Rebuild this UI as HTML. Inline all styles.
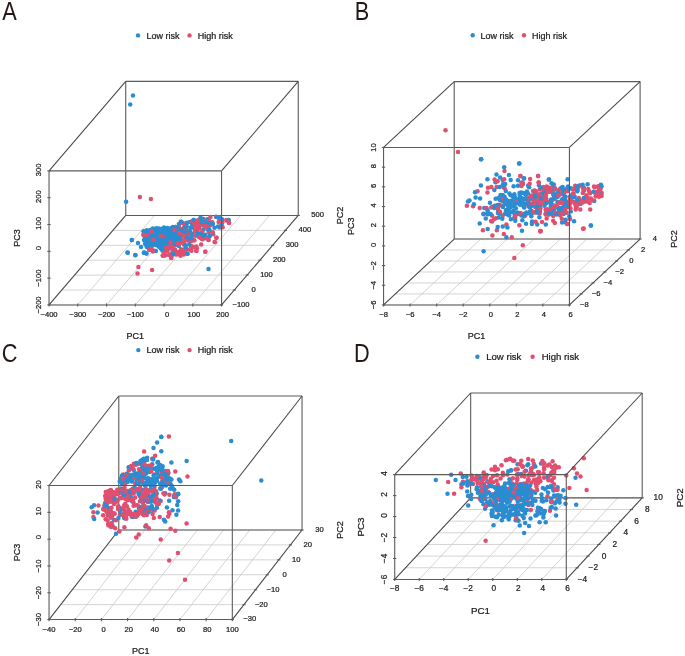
<!DOCTYPE html>
<html><head><meta charset="utf-8"><style>
html,body{margin:0;padding:0;background:#fff;}
svg{display:block;will-change:transform;}
text{font-family:"Liberation Sans",sans-serif;stroke:#222;stroke-width:0.24px;}
.big{font-weight:normal;}
</style></head><body>
<svg width="685" height="656" viewBox="0 0 685 656">
<rect width="685" height="656" fill="#fff"/>
<line x1="49.03" y1="304.95" x2="125.73" y2="215.45" stroke="#c9c9c9" stroke-width="0.8"/>
<line x1="77.78" y1="304.95" x2="154.49" y2="215.45" stroke="#c9c9c9" stroke-width="0.8"/>
<line x1="106.54" y1="304.95" x2="183.24" y2="215.45" stroke="#c9c9c9" stroke-width="0.8"/>
<line x1="135.3" y1="304.95" x2="212" y2="215.45" stroke="#c9c9c9" stroke-width="0.8"/>
<line x1="164.05" y1="304.95" x2="240.75" y2="215.45" stroke="#c9c9c9" stroke-width="0.8"/>
<line x1="192.81" y1="304.95" x2="269.5" y2="215.45" stroke="#c9c9c9" stroke-width="0.8"/>
<line x1="221.56" y1="304.95" x2="298.26" y2="215.45" stroke="#c9c9c9" stroke-width="0.8"/>
<line x1="49.03" y1="304.95" x2="221.56" y2="304.95" stroke="#c9c9c9" stroke-width="0.8"/>
<line x1="61.81" y1="290.03" x2="234.34" y2="290.03" stroke="#c9c9c9" stroke-width="0.8"/>
<line x1="74.6" y1="275.12" x2="247.13" y2="275.12" stroke="#c9c9c9" stroke-width="0.8"/>
<line x1="87.38" y1="260.2" x2="259.91" y2="260.2" stroke="#c9c9c9" stroke-width="0.8"/>
<line x1="100.16" y1="245.28" x2="272.69" y2="245.28" stroke="#c9c9c9" stroke-width="0.8"/>
<line x1="112.95" y1="230.37" x2="285.48" y2="230.37" stroke="#c9c9c9" stroke-width="0.8"/>
<line x1="125.73" y1="215.45" x2="298.26" y2="215.45" stroke="#c9c9c9" stroke-width="0.8"/>
<line x1="125.73" y1="81.38" x2="298.26" y2="81.38" stroke="#5e5a57" stroke-width="1.1"/>
<line x1="125.73" y1="81.38" x2="125.73" y2="215.45" stroke="#5e5a57" stroke-width="1.1"/>
<line x1="298.26" y1="81.38" x2="298.26" y2="215.45" stroke="#5e5a57" stroke-width="1.1"/>
<line x1="125.73" y1="215.45" x2="298.26" y2="215.45" stroke="#5e5a57" stroke-width="1.1"/>
<line x1="49.03" y1="304.95" x2="125.73" y2="215.45" stroke="#4a4643" stroke-width="1.05"/>
<circle cx="183.8" cy="254.54" r="2.25" fill="#e24f6e"/>
<circle cx="173.94" cy="250.55" r="2.25" fill="#e24f6e"/>
<circle cx="191.28" cy="245.93" r="2.25" fill="#e24f6e"/>
<circle cx="165.28" cy="255.17" r="2.25" fill="#e24f6e"/>
<circle cx="178.12" cy="254.32" r="2.25" fill="#e24f6e"/>
<circle cx="191.5" cy="250.78" r="2.25" fill="#e24f6e"/>
<circle cx="196.34" cy="246.55" r="2.25" fill="#e24f6e"/>
<circle cx="191.69" cy="247.06" r="2.25" fill="#e24f6e"/>
<circle cx="174.96" cy="249.49" r="2.25" fill="#e24f6e"/>
<circle cx="178.37" cy="251.91" r="2.25" fill="#e24f6e"/>
<circle cx="191.41" cy="247.12" r="2.25" fill="#e24f6e"/>
<circle cx="185.01" cy="248.99" r="2.25" fill="#e24f6e"/>
<circle cx="180.58" cy="255.68" r="2.25" fill="#e24f6e"/>
<circle cx="186.76" cy="249.78" r="2.25" fill="#e24f6e"/>
<circle cx="181.09" cy="249.33" r="2.25" fill="#e24f6e"/>
<circle cx="196.83" cy="248.31" r="2.25" fill="#e24f6e"/>
<circle cx="164.25" cy="255.49" r="2.25" fill="#e24f6e"/>
<circle cx="169.02" cy="254.98" r="2.25" fill="#e24f6e"/>
<circle cx="185.83" cy="247.68" r="2.25" fill="#2a8dd2"/>
<circle cx="175.97" cy="254.58" r="2.25" fill="#e24f6e"/>
<circle cx="171.19" cy="253.44" r="2.25" fill="#e24f6e"/>
<circle cx="201.17" cy="244.59" r="2.25" fill="#e24f6e"/>
<circle cx="175.7" cy="251.85" r="2.25" fill="#e24f6e"/>
<circle cx="173.01" cy="250.48" r="2.25" fill="#e24f6e"/>
<circle cx="167.15" cy="251.21" r="2.25" fill="#e24f6e"/>
<circle cx="193.9" cy="240.25" r="2.25" fill="#e24f6e"/>
<circle cx="177" cy="241.31" r="2.25" fill="#2a8dd2"/>
<circle cx="183.08" cy="230.84" r="2.25" fill="#e24f6e"/>
<circle cx="192.29" cy="224.59" r="2.25" fill="#2a8dd2"/>
<circle cx="194.58" cy="223.95" r="2.25" fill="#e24f6e"/>
<circle cx="181.81" cy="234.81" r="2.25" fill="#2a8dd2"/>
<circle cx="190.19" cy="234.22" r="2.25" fill="#e24f6e"/>
<circle cx="184.15" cy="243.54" r="2.25" fill="#e24f6e"/>
<circle cx="177.91" cy="226.8" r="2.25" fill="#2a8dd2"/>
<circle cx="178.74" cy="235.83" r="2.25" fill="#2a8dd2"/>
<circle cx="183.73" cy="223.54" r="2.25" fill="#e24f6e"/>
<circle cx="181.91" cy="232.37" r="2.25" fill="#e24f6e"/>
<circle cx="197.32" cy="231.36" r="2.25" fill="#e24f6e"/>
<circle cx="186.05" cy="234.36" r="2.25" fill="#e24f6e"/>
<circle cx="194.38" cy="224.65" r="2.25" fill="#e24f6e"/>
<circle cx="192.31" cy="235.02" r="2.25" fill="#2a8dd2"/>
<circle cx="186.51" cy="235" r="2.25" fill="#e24f6e"/>
<circle cx="174.97" cy="235.13" r="2.25" fill="#2a8dd2"/>
<circle cx="179.75" cy="240.85" r="2.25" fill="#e24f6e"/>
<circle cx="187.73" cy="240.52" r="2.25" fill="#e24f6e"/>
<circle cx="184.41" cy="236.54" r="2.25" fill="#e24f6e"/>
<circle cx="186.34" cy="238.7" r="2.25" fill="#e24f6e"/>
<circle cx="186.93" cy="232.91" r="2.25" fill="#e24f6e"/>
<circle cx="198.38" cy="227.01" r="2.25" fill="#e24f6e"/>
<circle cx="190.75" cy="241.17" r="2.25" fill="#e24f6e"/>
<circle cx="176.32" cy="239.34" r="2.25" fill="#e24f6e"/>
<circle cx="199.09" cy="225.93" r="2.25" fill="#e24f6e"/>
<circle cx="183.15" cy="233.16" r="2.25" fill="#e24f6e"/>
<circle cx="195.31" cy="224.36" r="2.25" fill="#2a8dd2"/>
<circle cx="186.44" cy="229.16" r="2.25" fill="#2a8dd2"/>
<circle cx="180.92" cy="239.5" r="2.25" fill="#2a8dd2"/>
<circle cx="187.51" cy="231.89" r="2.25" fill="#2a8dd2"/>
<circle cx="181.28" cy="236.85" r="2.25" fill="#e24f6e"/>
<circle cx="174.93" cy="227.17" r="2.25" fill="#2a8dd2"/>
<circle cx="193.81" cy="227.3" r="2.25" fill="#2a8dd2"/>
<circle cx="183.82" cy="244.61" r="2.25" fill="#e24f6e"/>
<circle cx="179.24" cy="224.03" r="2.25" fill="#e24f6e"/>
<circle cx="187.98" cy="238.91" r="2.25" fill="#2a8dd2"/>
<circle cx="194.45" cy="222.26" r="2.25" fill="#e24f6e"/>
<circle cx="184.71" cy="229.16" r="2.25" fill="#e24f6e"/>
<circle cx="197.95" cy="227.23" r="2.25" fill="#2a8dd2"/>
<circle cx="186.75" cy="226.44" r="2.25" fill="#2a8dd2"/>
<circle cx="177.65" cy="228.42" r="2.25" fill="#2a8dd2"/>
<circle cx="193.27" cy="227.83" r="2.25" fill="#e24f6e"/>
<circle cx="176.98" cy="229.37" r="2.25" fill="#2a8dd2"/>
<circle cx="192.53" cy="234.88" r="2.25" fill="#2a8dd2"/>
<circle cx="185.29" cy="245.24" r="2.25" fill="#2a8dd2"/>
<circle cx="194.93" cy="231.67" r="2.25" fill="#e24f6e"/>
<circle cx="195.37" cy="230.61" r="2.25" fill="#e24f6e"/>
<circle cx="181.6" cy="242.47" r="2.25" fill="#e24f6e"/>
<circle cx="189.81" cy="230.93" r="2.25" fill="#2a8dd2"/>
<circle cx="179.16" cy="224.41" r="2.25" fill="#2a8dd2"/>
<circle cx="190.78" cy="227.61" r="2.25" fill="#2a8dd2"/>
<circle cx="180.21" cy="232.41" r="2.25" fill="#2a8dd2"/>
<circle cx="184.48" cy="227.11" r="2.25" fill="#e24f6e"/>
<circle cx="178.84" cy="246.07" r="2.25" fill="#2a8dd2"/>
<circle cx="182.69" cy="232.82" r="2.25" fill="#e24f6e"/>
<circle cx="177.63" cy="233.63" r="2.25" fill="#2a8dd2"/>
<circle cx="172.63" cy="228.21" r="2.25" fill="#2a8dd2"/>
<circle cx="188.4" cy="234.29" r="2.25" fill="#e24f6e"/>
<circle cx="190.41" cy="239.33" r="2.25" fill="#e24f6e"/>
<circle cx="182.91" cy="228.81" r="2.25" fill="#e24f6e"/>
<circle cx="176.18" cy="239.55" r="2.25" fill="#e24f6e"/>
<circle cx="175.9" cy="234.14" r="2.25" fill="#e24f6e"/>
<circle cx="195.14" cy="235.77" r="2.25" fill="#e24f6e"/>
<circle cx="191.12" cy="238.72" r="2.25" fill="#2a8dd2"/>
<circle cx="182.1" cy="222.83" r="2.25" fill="#e24f6e"/>
<circle cx="187.64" cy="236.95" r="2.25" fill="#e24f6e"/>
<circle cx="191.06" cy="233.21" r="2.25" fill="#2a8dd2"/>
<circle cx="194.34" cy="240.2" r="2.25" fill="#e24f6e"/>
<circle cx="186.99" cy="237.8" r="2.25" fill="#2a8dd2"/>
<circle cx="192.63" cy="226.81" r="2.25" fill="#2a8dd2"/>
<circle cx="179.44" cy="239.69" r="2.25" fill="#2a8dd2"/>
<circle cx="185.83" cy="230.33" r="2.25" fill="#e24f6e"/>
<circle cx="191.14" cy="240.71" r="2.25" fill="#e24f6e"/>
<circle cx="190" cy="222.09" r="2.25" fill="#2a8dd2"/>
<circle cx="179.11" cy="240.07" r="2.25" fill="#2a8dd2"/>
<circle cx="173.7" cy="227.26" r="2.25" fill="#e24f6e"/>
<circle cx="191.38" cy="238.24" r="2.25" fill="#2a8dd2"/>
<circle cx="186.46" cy="232.55" r="2.25" fill="#e24f6e"/>
<circle cx="198.22" cy="220.47" r="2.25" fill="#e24f6e"/>
<circle cx="184.58" cy="227.25" r="2.25" fill="#2a8dd2"/>
<circle cx="198.48" cy="225.69" r="2.25" fill="#e24f6e"/>
<circle cx="175.97" cy="234.15" r="2.25" fill="#e24f6e"/>
<circle cx="175.71" cy="242.15" r="2.25" fill="#e24f6e"/>
<circle cx="178.48" cy="244.24" r="2.25" fill="#e24f6e"/>
<circle cx="185.77" cy="232.17" r="2.25" fill="#2a8dd2"/>
<circle cx="175.94" cy="229.29" r="2.25" fill="#2a8dd2"/>
<circle cx="180.12" cy="230.05" r="2.25" fill="#2a8dd2"/>
<circle cx="182.1" cy="231.56" r="2.25" fill="#2a8dd2"/>
<circle cx="195.37" cy="227.71" r="2.25" fill="#e24f6e"/>
<circle cx="178.98" cy="227.17" r="2.25" fill="#e24f6e"/>
<circle cx="177.32" cy="230.08" r="2.25" fill="#e24f6e"/>
<circle cx="192.15" cy="221.34" r="2.25" fill="#e24f6e"/>
<circle cx="184.62" cy="240.32" r="2.25" fill="#e24f6e"/>
<circle cx="220.95" cy="219.06" r="2.25" fill="#e24f6e"/>
<circle cx="204.62" cy="223.15" r="2.25" fill="#e24f6e"/>
<circle cx="222.34" cy="222.24" r="2.25" fill="#e24f6e"/>
<circle cx="203.42" cy="229.38" r="2.25" fill="#2a8dd2"/>
<circle cx="200.82" cy="237.74" r="2.25" fill="#e24f6e"/>
<circle cx="201.16" cy="237.75" r="2.25" fill="#e24f6e"/>
<circle cx="207.6" cy="219.35" r="2.25" fill="#2a8dd2"/>
<circle cx="197.54" cy="224.21" r="2.25" fill="#2a8dd2"/>
<circle cx="201.7" cy="222.2" r="2.25" fill="#e24f6e"/>
<circle cx="206.56" cy="225.93" r="2.25" fill="#e24f6e"/>
<circle cx="205.55" cy="224.12" r="2.25" fill="#2a8dd2"/>
<circle cx="202.77" cy="239.22" r="2.25" fill="#2a8dd2"/>
<circle cx="209.1" cy="231.11" r="2.25" fill="#e24f6e"/>
<circle cx="201.05" cy="222.5" r="2.25" fill="#2a8dd2"/>
<circle cx="206.19" cy="226.7" r="2.25" fill="#e24f6e"/>
<circle cx="208.25" cy="230.09" r="2.25" fill="#2a8dd2"/>
<circle cx="205.96" cy="238.24" r="2.25" fill="#e24f6e"/>
<circle cx="199.32" cy="228.54" r="2.25" fill="#e24f6e"/>
<circle cx="213.13" cy="234.36" r="2.25" fill="#e24f6e"/>
<circle cx="210.44" cy="216.95" r="2.25" fill="#e24f6e"/>
<circle cx="201.51" cy="238.08" r="2.25" fill="#e24f6e"/>
<circle cx="203.51" cy="219.07" r="2.25" fill="#2a8dd2"/>
<circle cx="212.82" cy="232.77" r="2.25" fill="#2a8dd2"/>
<circle cx="196.97" cy="228.59" r="2.25" fill="#e24f6e"/>
<circle cx="205.87" cy="221.37" r="2.25" fill="#e24f6e"/>
<circle cx="195.29" cy="223.24" r="2.25" fill="#e24f6e"/>
<circle cx="219.75" cy="227.41" r="2.25" fill="#2a8dd2"/>
<circle cx="201.92" cy="239.05" r="2.25" fill="#e24f6e"/>
<circle cx="208.95" cy="232.19" r="2.25" fill="#e24f6e"/>
<circle cx="202.2" cy="232.02" r="2.25" fill="#e24f6e"/>
<circle cx="204.47" cy="226.09" r="2.25" fill="#e24f6e"/>
<circle cx="200.55" cy="235.13" r="2.25" fill="#e24f6e"/>
<circle cx="209.14" cy="220.93" r="2.25" fill="#e24f6e"/>
<circle cx="203.73" cy="235.68" r="2.25" fill="#2a8dd2"/>
<circle cx="201.2" cy="234.25" r="2.25" fill="#2a8dd2"/>
<circle cx="200.24" cy="221.36" r="2.25" fill="#2a8dd2"/>
<circle cx="199.1" cy="225.44" r="2.25" fill="#2a8dd2"/>
<circle cx="222.28" cy="219.41" r="2.25" fill="#2a8dd2"/>
<circle cx="196.68" cy="225.44" r="2.25" fill="#e24f6e"/>
<circle cx="204.22" cy="220.45" r="2.25" fill="#e24f6e"/>
<circle cx="215.9" cy="216.77" r="2.25" fill="#e24f6e"/>
<circle cx="205.6" cy="224.97" r="2.25" fill="#2a8dd2"/>
<circle cx="202.83" cy="224.44" r="2.25" fill="#e24f6e"/>
<circle cx="200.81" cy="224.56" r="2.25" fill="#e24f6e"/>
<circle cx="218.02" cy="226.38" r="2.25" fill="#2a8dd2"/>
<circle cx="208.26" cy="224.95" r="2.25" fill="#e24f6e"/>
<circle cx="200.4" cy="224.74" r="2.25" fill="#e24f6e"/>
<circle cx="195.85" cy="225.86" r="2.25" fill="#e24f6e"/>
<circle cx="216.47" cy="216.98" r="2.25" fill="#2a8dd2"/>
<circle cx="202.2" cy="233.93" r="2.25" fill="#e24f6e"/>
<circle cx="204.49" cy="222.54" r="2.25" fill="#e24f6e"/>
<circle cx="212.28" cy="222.29" r="2.25" fill="#e24f6e"/>
<circle cx="203.86" cy="222.62" r="2.25" fill="#2a8dd2"/>
<circle cx="221.71" cy="225.28" r="2.25" fill="#2a8dd2"/>
<circle cx="207.04" cy="227.84" r="2.25" fill="#e24f6e"/>
<circle cx="200.12" cy="235.26" r="2.25" fill="#e24f6e"/>
<circle cx="212" cy="223.87" r="2.25" fill="#2a8dd2"/>
<circle cx="205.13" cy="234.77" r="2.25" fill="#2a8dd2"/>
<circle cx="200.52" cy="234.07" r="2.25" fill="#2a8dd2"/>
<circle cx="210.47" cy="223.82" r="2.25" fill="#e24f6e"/>
<circle cx="197.7" cy="227.96" r="2.25" fill="#e24f6e"/>
<circle cx="207.51" cy="221.62" r="2.25" fill="#2a8dd2"/>
<circle cx="212.37" cy="232.18" r="2.25" fill="#e24f6e"/>
<circle cx="198.39" cy="236.18" r="2.25" fill="#2a8dd2"/>
<circle cx="210.87" cy="224.95" r="2.25" fill="#e24f6e"/>
<circle cx="200.58" cy="221.94" r="2.25" fill="#2a8dd2"/>
<circle cx="199.29" cy="237.22" r="2.25" fill="#e24f6e"/>
<circle cx="204.14" cy="225.51" r="2.25" fill="#e24f6e"/>
<circle cx="209.21" cy="221.55" r="2.25" fill="#e24f6e"/>
<circle cx="197.87" cy="227.39" r="2.25" fill="#e24f6e"/>
<circle cx="145.01" cy="233.49" r="2.25" fill="#2a8dd2"/>
<circle cx="165.37" cy="249.72" r="2.25" fill="#2a8dd2"/>
<circle cx="175.98" cy="237.45" r="2.25" fill="#2a8dd2"/>
<circle cx="147.47" cy="241.2" r="2.25" fill="#2a8dd2"/>
<circle cx="151.66" cy="235.4" r="2.25" fill="#2a8dd2"/>
<circle cx="151.15" cy="232.5" r="2.25" fill="#2a8dd2"/>
<circle cx="167.94" cy="231.19" r="2.25" fill="#2a8dd2"/>
<circle cx="155.77" cy="243.3" r="2.25" fill="#2a8dd2"/>
<circle cx="155.21" cy="231.19" r="2.25" fill="#2a8dd2"/>
<circle cx="164.05" cy="227.61" r="2.25" fill="#2a8dd2"/>
<circle cx="158.32" cy="240.03" r="2.25" fill="#2a8dd2"/>
<circle cx="146.92" cy="230.17" r="2.25" fill="#2a8dd2"/>
<circle cx="158.87" cy="233.22" r="2.25" fill="#2a8dd2"/>
<circle cx="179.24" cy="233.97" r="2.25" fill="#2a8dd2"/>
<circle cx="156.89" cy="236.62" r="2.25" fill="#2a8dd2"/>
<circle cx="150.9" cy="244.56" r="2.25" fill="#2a8dd2"/>
<circle cx="159.39" cy="246.92" r="2.25" fill="#2a8dd2"/>
<circle cx="176.61" cy="237.75" r="2.25" fill="#2a8dd2"/>
<circle cx="144.06" cy="240.06" r="2.25" fill="#2a8dd2"/>
<circle cx="177.62" cy="228.27" r="2.25" fill="#2a8dd2"/>
<circle cx="157.41" cy="238.86" r="2.25" fill="#2a8dd2"/>
<circle cx="154.12" cy="239.29" r="2.25" fill="#2a8dd2"/>
<circle cx="147.58" cy="238.51" r="2.25" fill="#2a8dd2"/>
<circle cx="179.76" cy="231.03" r="2.25" fill="#2a8dd2"/>
<circle cx="178.23" cy="235.89" r="2.25" fill="#2a8dd2"/>
<circle cx="166.76" cy="247.03" r="2.25" fill="#2a8dd2"/>
<circle cx="172.97" cy="231.66" r="2.25" fill="#2a8dd2"/>
<circle cx="150.36" cy="231.56" r="2.25" fill="#2a8dd2"/>
<circle cx="162.92" cy="235.78" r="2.25" fill="#2a8dd2"/>
<circle cx="152.76" cy="244.48" r="2.25" fill="#2a8dd2"/>
<circle cx="145.04" cy="240.34" r="2.25" fill="#2a8dd2"/>
<circle cx="147.91" cy="241.29" r="2.25" fill="#2a8dd2"/>
<circle cx="167.01" cy="233.81" r="2.25" fill="#2a8dd2"/>
<circle cx="165.35" cy="236.86" r="2.25" fill="#2a8dd2"/>
<circle cx="160.25" cy="237.18" r="2.25" fill="#2a8dd2"/>
<circle cx="166.71" cy="238.48" r="2.25" fill="#2a8dd2"/>
<circle cx="172.13" cy="245.89" r="2.25" fill="#2a8dd2"/>
<circle cx="150.23" cy="238.07" r="2.25" fill="#2a8dd2"/>
<circle cx="148.32" cy="236.98" r="2.25" fill="#2a8dd2"/>
<circle cx="160.07" cy="239.01" r="2.25" fill="#2a8dd2"/>
<circle cx="167.37" cy="228.1" r="2.25" fill="#2a8dd2"/>
<circle cx="172.66" cy="239.04" r="2.25" fill="#2a8dd2"/>
<circle cx="162.4" cy="235.64" r="2.25" fill="#e24f6e"/>
<circle cx="148.61" cy="247.86" r="2.25" fill="#e24f6e"/>
<circle cx="170.95" cy="246.78" r="2.25" fill="#2a8dd2"/>
<circle cx="149.69" cy="246.1" r="2.25" fill="#2a8dd2"/>
<circle cx="145.96" cy="234.95" r="2.25" fill="#2a8dd2"/>
<circle cx="149.45" cy="248.86" r="2.25" fill="#2a8dd2"/>
<circle cx="174.09" cy="229.66" r="2.25" fill="#2a8dd2"/>
<circle cx="178" cy="231.31" r="2.25" fill="#2a8dd2"/>
<circle cx="162.48" cy="234.14" r="2.25" fill="#2a8dd2"/>
<circle cx="150.33" cy="230.11" r="2.25" fill="#2a8dd2"/>
<circle cx="168.99" cy="248.83" r="2.25" fill="#2a8dd2"/>
<circle cx="172.93" cy="228.93" r="2.25" fill="#2a8dd2"/>
<circle cx="167.36" cy="235.17" r="2.25" fill="#2a8dd2"/>
<circle cx="164.32" cy="240.79" r="2.25" fill="#2a8dd2"/>
<circle cx="167.12" cy="236.05" r="2.25" fill="#2a8dd2"/>
<circle cx="165.15" cy="235.19" r="2.25" fill="#2a8dd2"/>
<circle cx="160.09" cy="230.51" r="2.25" fill="#2a8dd2"/>
<circle cx="153.01" cy="242.3" r="2.25" fill="#e24f6e"/>
<circle cx="165.47" cy="242.92" r="2.25" fill="#2a8dd2"/>
<circle cx="149.1" cy="241.71" r="2.25" fill="#2a8dd2"/>
<circle cx="162.73" cy="248.84" r="2.25" fill="#2a8dd2"/>
<circle cx="152.02" cy="242.65" r="2.25" fill="#2a8dd2"/>
<circle cx="143.6" cy="235.05" r="2.25" fill="#2a8dd2"/>
<circle cx="156.89" cy="231.72" r="2.25" fill="#2a8dd2"/>
<circle cx="165.59" cy="231.21" r="2.25" fill="#2a8dd2"/>
<circle cx="161.31" cy="229.44" r="2.25" fill="#2a8dd2"/>
<circle cx="152.63" cy="229.81" r="2.25" fill="#2a8dd2"/>
<circle cx="167.43" cy="248.22" r="2.25" fill="#2a8dd2"/>
<circle cx="158.57" cy="232.74" r="2.25" fill="#2a8dd2"/>
<circle cx="167.69" cy="240.34" r="2.25" fill="#2a8dd2"/>
<circle cx="167.71" cy="237.32" r="2.25" fill="#2a8dd2"/>
<circle cx="171.01" cy="232.34" r="2.25" fill="#2a8dd2"/>
<circle cx="145.15" cy="239.55" r="2.25" fill="#2a8dd2"/>
<circle cx="164.16" cy="249.99" r="2.25" fill="#2a8dd2"/>
<circle cx="150.98" cy="241.51" r="2.25" fill="#2a8dd2"/>
<circle cx="167.56" cy="246.74" r="2.25" fill="#2a8dd2"/>
<circle cx="155.1" cy="233.66" r="2.25" fill="#2a8dd2"/>
<circle cx="175.17" cy="245" r="2.25" fill="#2a8dd2"/>
<circle cx="171.32" cy="237.54" r="2.25" fill="#2a8dd2"/>
<circle cx="147.45" cy="231.92" r="2.25" fill="#2a8dd2"/>
<circle cx="156.08" cy="245.12" r="2.25" fill="#2a8dd2"/>
<circle cx="175.2" cy="244.15" r="2.25" fill="#2a8dd2"/>
<circle cx="164.27" cy="237.12" r="2.25" fill="#2a8dd2"/>
<circle cx="163.12" cy="232.77" r="2.25" fill="#2a8dd2"/>
<circle cx="179.69" cy="231.53" r="2.25" fill="#2a8dd2"/>
<circle cx="144.07" cy="232.64" r="2.25" fill="#2a8dd2"/>
<circle cx="171.48" cy="234.34" r="2.25" fill="#2a8dd2"/>
<circle cx="155.82" cy="232.1" r="2.25" fill="#2a8dd2"/>
<circle cx="167.15" cy="243.67" r="2.25" fill="#2a8dd2"/>
<circle cx="174.99" cy="243.79" r="2.25" fill="#2a8dd2"/>
<circle cx="159.9" cy="244.48" r="2.25" fill="#2a8dd2"/>
<circle cx="155.04" cy="231.41" r="2.25" fill="#2a8dd2"/>
<circle cx="156.43" cy="229.62" r="2.25" fill="#2a8dd2"/>
<circle cx="145.06" cy="243.66" r="2.25" fill="#2a8dd2"/>
<circle cx="169.64" cy="244.79" r="2.25" fill="#2a8dd2"/>
<circle cx="165.64" cy="235.27" r="2.25" fill="#2a8dd2"/>
<circle cx="147.52" cy="231.25" r="2.25" fill="#2a8dd2"/>
<circle cx="173.95" cy="242.17" r="2.25" fill="#2a8dd2"/>
<circle cx="167.18" cy="233.33" r="2.25" fill="#2a8dd2"/>
<circle cx="147.17" cy="245.31" r="2.25" fill="#2a8dd2"/>
<circle cx="155.47" cy="236.81" r="2.25" fill="#2a8dd2"/>
<circle cx="153.13" cy="233.21" r="2.25" fill="#2a8dd2"/>
<circle cx="157.3" cy="234.18" r="2.25" fill="#e24f6e"/>
<circle cx="162.39" cy="247.71" r="2.25" fill="#2a8dd2"/>
<circle cx="144.66" cy="236.53" r="2.25" fill="#2a8dd2"/>
<circle cx="172.49" cy="234.84" r="2.25" fill="#2a8dd2"/>
<circle cx="163.67" cy="231.52" r="2.25" fill="#2a8dd2"/>
<circle cx="146.91" cy="246.91" r="2.25" fill="#2a8dd2"/>
<circle cx="143.55" cy="231.15" r="2.25" fill="#2a8dd2"/>
<circle cx="161.91" cy="238.53" r="2.25" fill="#2a8dd2"/>
<circle cx="150.42" cy="238.61" r="2.25" fill="#2a8dd2"/>
<circle cx="174.69" cy="232.64" r="2.25" fill="#e24f6e"/>
<circle cx="154.14" cy="231.48" r="2.25" fill="#2a8dd2"/>
<circle cx="162.19" cy="228.8" r="2.25" fill="#2a8dd2"/>
<circle cx="146.53" cy="246.09" r="2.25" fill="#2a8dd2"/>
<circle cx="173.01" cy="242.01" r="2.25" fill="#2a8dd2"/>
<circle cx="158.55" cy="236.06" r="2.25" fill="#2a8dd2"/>
<circle cx="144.44" cy="231.26" r="2.25" fill="#2a8dd2"/>
<circle cx="177.3" cy="238.78" r="2.25" fill="#2a8dd2"/>
<circle cx="176.65" cy="231.96" r="2.25" fill="#2a8dd2"/>
<circle cx="163.43" cy="245.24" r="2.25" fill="#2a8dd2"/>
<circle cx="167.74" cy="234.89" r="2.25" fill="#2a8dd2"/>
<circle cx="149.32" cy="247.5" r="2.25" fill="#2a8dd2"/>
<circle cx="171.32" cy="230.32" r="2.25" fill="#2a8dd2"/>
<circle cx="172.5" cy="240.77" r="2.25" fill="#2a8dd2"/>
<circle cx="160.83" cy="248.57" r="2.25" fill="#2a8dd2"/>
<circle cx="150.68" cy="233.69" r="2.25" fill="#2a8dd2"/>
<circle cx="175.14" cy="229.94" r="2.25" fill="#2a8dd2"/>
<circle cx="152.78" cy="234.33" r="2.25" fill="#2a8dd2"/>
<circle cx="149.53" cy="234.37" r="2.25" fill="#2a8dd2"/>
<circle cx="147.31" cy="235.8" r="2.25" fill="#e24f6e"/>
<circle cx="173.31" cy="244.7" r="2.25" fill="#2a8dd2"/>
<circle cx="150.86" cy="242.27" r="2.25" fill="#2a8dd2"/>
<circle cx="151.24" cy="235.9" r="2.25" fill="#2a8dd2"/>
<circle cx="158.46" cy="246.17" r="2.25" fill="#2a8dd2"/>
<circle cx="162.27" cy="242.13" r="2.25" fill="#2a8dd2"/>
<circle cx="148.82" cy="241.39" r="2.25" fill="#2a8dd2"/>
<circle cx="159.63" cy="240.64" r="2.25" fill="#2a8dd2"/>
<circle cx="159.29" cy="231.83" r="2.25" fill="#2a8dd2"/>
<circle cx="169.75" cy="247.74" r="2.25" fill="#2a8dd2"/>
<circle cx="167.56" cy="237.57" r="2.25" fill="#2a8dd2"/>
<circle cx="167.06" cy="228.5" r="2.25" fill="#2a8dd2"/>
<circle cx="172.84" cy="244.19" r="2.25" fill="#2a8dd2"/>
<circle cx="152.88" cy="236.8" r="2.25" fill="#2a8dd2"/>
<circle cx="166.81" cy="236.44" r="2.25" fill="#2a8dd2"/>
<circle cx="178.38" cy="230.67" r="2.25" fill="#2a8dd2"/>
<circle cx="172.68" cy="235.91" r="2.25" fill="#2a8dd2"/>
<circle cx="163.88" cy="230.1" r="2.25" fill="#2a8dd2"/>
<circle cx="178.77" cy="239.24" r="2.25" fill="#2a8dd2"/>
<circle cx="165.05" cy="239.8" r="2.25" fill="#2a8dd2"/>
<circle cx="162.71" cy="242.3" r="2.25" fill="#2a8dd2"/>
<circle cx="163.06" cy="236.46" r="2.25" fill="#e24f6e"/>
<circle cx="151.38" cy="243.45" r="2.25" fill="#2a8dd2"/>
<circle cx="172.1" cy="229.12" r="2.25" fill="#e24f6e"/>
<circle cx="153.79" cy="236.19" r="2.25" fill="#2a8dd2"/>
<circle cx="159.2" cy="236.72" r="2.25" fill="#2a8dd2"/>
<circle cx="156.7" cy="232.76" r="2.25" fill="#2a8dd2"/>
<circle cx="163.27" cy="231.58" r="2.25" fill="#2a8dd2"/>
<circle cx="158.2" cy="231.41" r="2.25" fill="#2a8dd2"/>
<circle cx="172.62" cy="246.64" r="2.25" fill="#2a8dd2"/>
<circle cx="161.09" cy="240.33" r="2.25" fill="#2a8dd2"/>
<circle cx="179.64" cy="235" r="2.25" fill="#2a8dd2"/>
<circle cx="161.05" cy="233.51" r="2.25" fill="#2a8dd2"/>
<circle cx="148.19" cy="247.26" r="2.25" fill="#2a8dd2"/>
<circle cx="175.4" cy="232.82" r="2.25" fill="#2a8dd2"/>
<circle cx="153.01" cy="236.87" r="2.25" fill="#2a8dd2"/>
<circle cx="154.05" cy="232.25" r="2.25" fill="#2a8dd2"/>
<circle cx="161.48" cy="236.93" r="2.25" fill="#2a8dd2"/>
<circle cx="168.22" cy="235.24" r="2.25" fill="#2a8dd2"/>
<circle cx="175.54" cy="227.46" r="2.25" fill="#2a8dd2"/>
<circle cx="148.77" cy="247.2" r="2.25" fill="#2a8dd2"/>
<circle cx="152.88" cy="228.59" r="2.25" fill="#2a8dd2"/>
<circle cx="152.26" cy="245.8" r="2.25" fill="#2a8dd2"/>
<circle cx="149.23" cy="249.05" r="2.25" fill="#2a8dd2"/>
<circle cx="149.8" cy="248.72" r="2.25" fill="#2a8dd2"/>
<circle cx="172.8" cy="243.05" r="2.25" fill="#2a8dd2"/>
<circle cx="150.9" cy="243.67" r="2.25" fill="#2a8dd2"/>
<circle cx="171.32" cy="237.18" r="2.25" fill="#2a8dd2"/>
<circle cx="164.31" cy="232.74" r="2.25" fill="#2a8dd2"/>
<circle cx="148.73" cy="238.57" r="2.25" fill="#2a8dd2"/>
<circle cx="161.02" cy="229.68" r="2.25" fill="#2a8dd2"/>
<circle cx="162.18" cy="239.76" r="2.25" fill="#2a8dd2"/>
<circle cx="161.05" cy="240.35" r="2.25" fill="#2a8dd2"/>
<circle cx="175.02" cy="235.56" r="2.25" fill="#2a8dd2"/>
<circle cx="167.39" cy="242.22" r="2.25" fill="#2a8dd2"/>
<circle cx="166.36" cy="243.41" r="2.25" fill="#2a8dd2"/>
<circle cx="155.89" cy="251.03" r="2.25" fill="#2a8dd2"/>
<circle cx="161.68" cy="248.89" r="2.25" fill="#2a8dd2"/>
<circle cx="170.43" cy="241.94" r="2.25" fill="#2a8dd2"/>
<circle cx="175.81" cy="235.34" r="2.25" fill="#2a8dd2"/>
<circle cx="163.21" cy="245.65" r="2.25" fill="#2a8dd2"/>
<circle cx="159.82" cy="236.77" r="2.25" fill="#2a8dd2"/>
<circle cx="174.5" cy="233.47" r="2.25" fill="#2a8dd2"/>
<circle cx="158.64" cy="238.85" r="2.25" fill="#2a8dd2"/>
<circle cx="162.49" cy="250.86" r="2.25" fill="#2a8dd2"/>
<circle cx="173.2" cy="234.44" r="2.25" fill="#2a8dd2"/>
<circle cx="154.72" cy="240.95" r="2.25" fill="#2a8dd2"/>
<circle cx="172.91" cy="227.02" r="2.25" fill="#2a8dd2"/>
<circle cx="176.71" cy="239.91" r="2.25" fill="#2a8dd2"/>
<circle cx="150.62" cy="249.5" r="2.25" fill="#2a8dd2"/>
<circle cx="168.18" cy="246.12" r="2.25" fill="#2a8dd2"/>
<circle cx="166.44" cy="241.73" r="2.25" fill="#2a8dd2"/>
<circle cx="169.62" cy="241.21" r="2.25" fill="#2a8dd2"/>
<circle cx="151.47" cy="243.01" r="2.25" fill="#2a8dd2"/>
<circle cx="172.1" cy="228.58" r="2.25" fill="#2a8dd2"/>
<circle cx="177.78" cy="242.72" r="2.25" fill="#2a8dd2"/>
<circle cx="164.58" cy="232.58" r="2.25" fill="#2a8dd2"/>
<circle cx="159.32" cy="234.12" r="2.25" fill="#2a8dd2"/>
<circle cx="145.55" cy="240.47" r="2.25" fill="#2a8dd2"/>
<circle cx="147.96" cy="246.66" r="2.25" fill="#2a8dd2"/>
<circle cx="177.95" cy="237.39" r="2.25" fill="#2a8dd2"/>
<circle cx="158.02" cy="241.1" r="2.25" fill="#2a8dd2"/>
<circle cx="158.97" cy="228.6" r="2.25" fill="#2a8dd2"/>
<circle cx="151.46" cy="229.87" r="2.25" fill="#2a8dd2"/>
<circle cx="170.48" cy="232.18" r="2.25" fill="#2a8dd2"/>
<circle cx="172.53" cy="244.2" r="2.25" fill="#2a8dd2"/>
<circle cx="170.86" cy="228.15" r="2.25" fill="#2a8dd2"/>
<circle cx="170.1" cy="237.74" r="2.25" fill="#2a8dd2"/>
<circle cx="153.03" cy="250.59" r="2.25" fill="#2a8dd2"/>
<circle cx="167.9" cy="246.84" r="2.25" fill="#2a8dd2"/>
<circle cx="155.16" cy="244.6" r="2.25" fill="#2a8dd2"/>
<circle cx="175.79" cy="238.4" r="2.25" fill="#2a8dd2"/>
<circle cx="157.28" cy="240.66" r="2.25" fill="#2a8dd2"/>
<circle cx="168.88" cy="229.7" r="2.25" fill="#2a8dd2"/>
<circle cx="157.12" cy="242.44" r="2.25" fill="#2a8dd2"/>
<circle cx="159.17" cy="235.84" r="2.25" fill="#2a8dd2"/>
<circle cx="164.76" cy="233.46" r="2.25" fill="#2a8dd2"/>
<circle cx="174.53" cy="234.47" r="2.25" fill="#2a8dd2"/>
<circle cx="166.04" cy="233.87" r="2.25" fill="#2a8dd2"/>
<circle cx="176.8" cy="235.61" r="2.25" fill="#2a8dd2"/>
<circle cx="166.07" cy="248.85" r="2.25" fill="#2a8dd2"/>
<circle cx="153.36" cy="236.77" r="2.25" fill="#2a8dd2"/>
<circle cx="164.95" cy="232.98" r="2.25" fill="#2a8dd2"/>
<circle cx="173.76" cy="243.46" r="2.25" fill="#2a8dd2"/>
<circle cx="156.51" cy="228.17" r="2.25" fill="#2a8dd2"/>
<circle cx="173.4" cy="231.11" r="2.25" fill="#2a8dd2"/>
<circle cx="178.44" cy="231.97" r="2.25" fill="#2a8dd2"/>
<circle cx="168.91" cy="237.87" r="2.25" fill="#2a8dd2"/>
<circle cx="133" cy="95.4" r="2.25" fill="#2a8dd2"/>
<circle cx="130.2" cy="104.4" r="2.25" fill="#2a8dd2"/>
<circle cx="126.1" cy="201.8" r="2.25" fill="#2a8dd2"/>
<circle cx="139.9" cy="197.1" r="2.25" fill="#e24f6e"/>
<circle cx="150.9" cy="199.1" r="2.25" fill="#e24f6e"/>
<circle cx="127.4" cy="252.6" r="2.25" fill="#2a8dd2"/>
<circle cx="135.4" cy="255.2" r="2.25" fill="#2a8dd2"/>
<circle cx="131.9" cy="239.9" r="2.25" fill="#2a8dd2"/>
<circle cx="138" cy="242.9" r="2.25" fill="#2a8dd2"/>
<circle cx="141" cy="247" r="2.25" fill="#2a8dd2"/>
<circle cx="144.2" cy="252.6" r="2.25" fill="#2a8dd2"/>
<circle cx="146.3" cy="253.4" r="2.25" fill="#2a8dd2"/>
<circle cx="138.4" cy="267.1" r="2.25" fill="#e24f6e"/>
<circle cx="137.5" cy="273.6" r="2.25" fill="#e24f6e"/>
<circle cx="152.1" cy="270.1" r="2.25" fill="#e24f6e"/>
<circle cx="208.5" cy="268.9" r="2.25" fill="#2a8dd2"/>
<circle cx="171.3" cy="257.8" r="2.25" fill="#e24f6e"/>
<circle cx="173.4" cy="254.3" r="2.25" fill="#2a8dd2"/>
<circle cx="187.4" cy="253.8" r="2.25" fill="#2a8dd2"/>
<circle cx="205.3" cy="251.7" r="2.25" fill="#e24f6e"/>
<circle cx="196.2" cy="250.8" r="2.25" fill="#e24f6e"/>
<circle cx="162.9" cy="255.7" r="2.25" fill="#e24f6e"/>
<circle cx="182.2" cy="252.6" r="2.25" fill="#e24f6e"/>
<circle cx="184" cy="252.6" r="2.25" fill="#e24f6e"/>
<circle cx="214.6" cy="242" r="2.25" fill="#e24f6e"/>
<circle cx="216.4" cy="237.7" r="2.25" fill="#e24f6e"/>
<circle cx="208.5" cy="240" r="2.25" fill="#e24f6e"/>
<circle cx="209.3" cy="236.4" r="2.25" fill="#2a8dd2"/>
<circle cx="219" cy="218" r="2.25" fill="#2a8dd2"/>
<circle cx="221.3" cy="226.3" r="2.25" fill="#2a8dd2"/>
<circle cx="228.3" cy="220.1" r="2.25" fill="#2a8dd2"/>
<circle cx="229" cy="222.4" r="2.25" fill="#e24f6e"/>
<circle cx="226.5" cy="220.1" r="2.25" fill="#e24f6e"/>
<circle cx="200.6" cy="218" r="2.25" fill="#2a8dd2"/>
<circle cx="193.6" cy="220.1" r="2.25" fill="#2a8dd2"/>
<circle cx="181.3" cy="221.9" r="2.25" fill="#2a8dd2"/>
<circle cx="187.1" cy="222.8" r="2.25" fill="#2a8dd2"/>
<circle cx="198" cy="221" r="2.25" fill="#e24f6e"/>
<circle cx="131.8" cy="240" r="2.25" fill="#2a8dd2"/>
<circle cx="127.8" cy="252.8" r="2.25" fill="#2a8dd2"/>
<circle cx="135.3" cy="255.1" r="2.25" fill="#2a8dd2"/>
<circle cx="143.8" cy="252.7" r="2.25" fill="#2a8dd2"/>
<circle cx="146.5" cy="253.5" r="2.25" fill="#2a8dd2"/>
<circle cx="149.5" cy="250" r="2.25" fill="#e24f6e"/>
<circle cx="152.8" cy="251.6" r="2.25" fill="#e24f6e"/>
<circle cx="151.3" cy="248.7" r="2.25" fill="#e24f6e"/>
<circle cx="162.7" cy="255.5" r="2.25" fill="#e24f6e"/>
<circle cx="164.4" cy="252.7" r="2.25" fill="#e24f6e"/>
<circle cx="167" cy="250" r="2.25" fill="#e24f6e"/>
<circle cx="166.2" cy="247.4" r="2.25" fill="#e24f6e"/>
<circle cx="168.8" cy="248.3" r="2.25" fill="#e24f6e"/>
<circle cx="170.5" cy="246.1" r="2.25" fill="#e24f6e"/>
<circle cx="172.7" cy="247" r="2.25" fill="#e24f6e"/>
<circle cx="171.2" cy="258.1" r="2.25" fill="#e24f6e"/>
<circle cx="173" cy="254.2" r="2.25" fill="#2a8dd2"/>
<circle cx="177.1" cy="252.2" r="2.25" fill="#e24f6e"/>
<circle cx="181.9" cy="252.7" r="2.25" fill="#e24f6e"/>
<circle cx="181" cy="221.8" r="2.25" fill="#2a8dd2"/>
<circle cx="160.9" cy="236" r="2.25" fill="#e24f6e"/>
<circle cx="153.5" cy="240" r="2.25" fill="#e24f6e"/>
<circle cx="170.5" cy="242.6" r="2.25" fill="#e24f6e"/>
<circle cx="174.5" cy="229.9" r="2.25" fill="#e24f6e"/>
<circle cx="179.3" cy="233" r="2.25" fill="#e24f6e"/>
<circle cx="177.5" cy="243" r="2.25" fill="#e24f6e"/>
<circle cx="143.4" cy="234.7" r="2.25" fill="#e24f6e"/>
<circle cx="151.7" cy="231.6" r="2.25" fill="#e24f6e"/>
<circle cx="200.5" cy="218" r="2.25" fill="#2a8dd2"/>
<circle cx="193.7" cy="220" r="2.25" fill="#2a8dd2"/>
<circle cx="181.2" cy="222" r="2.25" fill="#2a8dd2"/>
<circle cx="186.8" cy="222.9" r="2.25" fill="#2a8dd2"/>
<circle cx="202.5" cy="222" r="2.25" fill="#2a8dd2"/>
<circle cx="197.7" cy="220.4" r="2.25" fill="#e24f6e"/>
<circle cx="219.4" cy="217.8" r="2.25" fill="#2a8dd2"/>
<circle cx="218.6" cy="222" r="2.25" fill="#e24f6e"/>
<circle cx="221" cy="226.1" r="2.25" fill="#2a8dd2"/>
<circle cx="222.6" cy="227.3" r="2.25" fill="#e24f6e"/>
<circle cx="228.6" cy="220" r="2.25" fill="#2a8dd2"/>
<circle cx="226.6" cy="220.4" r="2.25" fill="#e24f6e"/>
<circle cx="229" cy="222.9" r="2.25" fill="#e24f6e"/>
<circle cx="208.9" cy="223.3" r="2.25" fill="#2a8dd2"/>
<circle cx="212.9" cy="224.1" r="2.25" fill="#2a8dd2"/>
<circle cx="214.5" cy="227.7" r="2.25" fill="#2a8dd2"/>
<circle cx="209.3" cy="229.3" r="2.25" fill="#2a8dd2"/>
<circle cx="203.3" cy="235.3" r="2.25" fill="#2a8dd2"/>
<circle cx="209.7" cy="236.1" r="2.25" fill="#2a8dd2"/>
<circle cx="216.5" cy="237.7" r="2.25" fill="#e24f6e"/>
<circle cx="214.9" cy="242" r="2.25" fill="#e24f6e"/>
<circle cx="208.5" cy="239.7" r="2.25" fill="#e24f6e"/>
<circle cx="196.5" cy="251.1" r="2.25" fill="#e24f6e"/>
<circle cx="205.3" cy="251.8" r="2.25" fill="#e24f6e"/>
<circle cx="187.5" cy="253.8" r="2.25" fill="#2a8dd2"/>
<circle cx="183.2" cy="252.6" r="2.25" fill="#e24f6e"/>
<circle cx="189.6" cy="249.4" r="2.25" fill="#e24f6e"/>
<circle cx="193.3" cy="247" r="2.25" fill="#e24f6e"/>
<circle cx="189.2" cy="244.5" r="2.25" fill="#2a8dd2"/>
<circle cx="197.7" cy="232.9" r="2.25" fill="#2a8dd2"/>
<line x1="49.03" y1="170.88" x2="221.56" y2="170.88" stroke="#5e5a57" stroke-width="1.1"/>
<line x1="49.03" y1="170.88" x2="49.03" y2="304.95" stroke="#5e5a57" stroke-width="1.1"/>
<line x1="221.56" y1="170.88" x2="221.56" y2="304.95" stroke="#5e5a57" stroke-width="1.1"/>
<line x1="49.03" y1="304.95" x2="221.56" y2="304.95" stroke="#5e5a57" stroke-width="1.1"/>
<line x1="49.03" y1="170.88" x2="125.73" y2="81.38" stroke="#4a4643" stroke-width="1.05"/>
<line x1="221.56" y1="170.88" x2="298.26" y2="81.38" stroke="#4a4643" stroke-width="1.05"/>
<line x1="221.56" y1="304.95" x2="298.26" y2="215.45" stroke="#4a4643" stroke-width="1.05"/>
<line x1="49.03" y1="303.45" x2="49.03" y2="306.55" stroke="#5e5a57" stroke-width="1.1"/>
<line x1="77.78" y1="303.45" x2="77.78" y2="306.55" stroke="#5e5a57" stroke-width="1.1"/>
<line x1="106.54" y1="303.45" x2="106.54" y2="306.55" stroke="#5e5a57" stroke-width="1.1"/>
<line x1="135.3" y1="303.45" x2="135.3" y2="306.55" stroke="#5e5a57" stroke-width="1.1"/>
<line x1="164.05" y1="303.45" x2="164.05" y2="306.55" stroke="#5e5a57" stroke-width="1.1"/>
<line x1="192.81" y1="303.45" x2="192.81" y2="306.55" stroke="#5e5a57" stroke-width="1.1"/>
<line x1="221.56" y1="303.45" x2="221.56" y2="306.55" stroke="#5e5a57" stroke-width="1.1"/>
<line x1="47.33" y1="170.88" x2="50.63" y2="170.88" stroke="#5e5a57" stroke-width="1.1"/>
<line x1="47.33" y1="197.69" x2="50.63" y2="197.69" stroke="#5e5a57" stroke-width="1.1"/>
<line x1="47.33" y1="224.51" x2="50.63" y2="224.51" stroke="#5e5a57" stroke-width="1.1"/>
<line x1="47.33" y1="251.32" x2="50.63" y2="251.32" stroke="#5e5a57" stroke-width="1.1"/>
<line x1="47.33" y1="278.14" x2="50.63" y2="278.14" stroke="#5e5a57" stroke-width="1.1"/>
<line x1="47.33" y1="304.95" x2="50.63" y2="304.95" stroke="#5e5a57" stroke-width="1.1"/>
<line x1="220.06" y1="304.95" x2="223.16" y2="304.95" stroke="#5e5a57" stroke-width="1.1"/>
<line x1="232.84" y1="290.03" x2="235.94" y2="290.03" stroke="#5e5a57" stroke-width="1.1"/>
<line x1="245.63" y1="275.12" x2="248.73" y2="275.12" stroke="#5e5a57" stroke-width="1.1"/>
<line x1="258.41" y1="260.2" x2="261.51" y2="260.2" stroke="#5e5a57" stroke-width="1.1"/>
<line x1="271.19" y1="245.28" x2="274.29" y2="245.28" stroke="#5e5a57" stroke-width="1.1"/>
<line x1="283.98" y1="230.37" x2="287.08" y2="230.37" stroke="#5e5a57" stroke-width="1.1"/>
<line x1="296.76" y1="215.45" x2="299.86" y2="215.45" stroke="#5e5a57" stroke-width="1.1"/>
<text x="49.03" y="317.35" font-size="7.6" text-anchor="middle" fill="#1a1a1a">−400</text>
<text x="77.78" y="317.35" font-size="7.6" text-anchor="middle" fill="#1a1a1a">−300</text>
<text x="106.54" y="317.35" font-size="7.6" text-anchor="middle" fill="#1a1a1a">−200</text>
<text x="135.3" y="317.35" font-size="7.6" text-anchor="middle" fill="#1a1a1a">−100</text>
<text x="164.05" y="317.35" font-size="7.6" text-anchor="middle" fill="#1a1a1a">   0</text>
<text x="192.81" y="317.35" font-size="7.6" text-anchor="middle" fill="#1a1a1a"> 100</text>
<text x="221.56" y="317.35" font-size="7.6" text-anchor="middle" fill="#1a1a1a"> 200</text>
<text x="41.03" y="170.88" font-size="7.6" text-anchor="middle" fill="#1a1a1a" transform="rotate(-90 41.03 170.88)"> 300</text>
<text x="41.03" y="197.69" font-size="7.6" text-anchor="middle" fill="#1a1a1a" transform="rotate(-90 41.03 197.69)"> 200</text>
<text x="41.03" y="224.51" font-size="7.6" text-anchor="middle" fill="#1a1a1a" transform="rotate(-90 41.03 224.51)"> 100</text>
<text x="41.03" y="251.32" font-size="7.6" text-anchor="middle" fill="#1a1a1a" transform="rotate(-90 41.03 251.32)">   0</text>
<text x="41.03" y="278.14" font-size="7.6" text-anchor="middle" fill="#1a1a1a" transform="rotate(-90 41.03 278.14)">−100</text>
<text x="41.03" y="304.95" font-size="7.6" text-anchor="middle" fill="#1a1a1a" transform="rotate(-90 41.03 304.95)">−200</text>
<text x="232.46" y="306.85" font-size="7.6" text-anchor="start" fill="#1a1a1a">−100</text>
<text x="245.24" y="291.93" font-size="7.6" text-anchor="start" fill="#1a1a1a">   0</text>
<text x="258.03" y="277.02" font-size="7.6" text-anchor="start" fill="#1a1a1a"> 100</text>
<text x="270.81" y="262.1" font-size="7.6" text-anchor="start" fill="#1a1a1a"> 200</text>
<text x="283.59" y="247.18" font-size="7.6" text-anchor="start" fill="#1a1a1a"> 300</text>
<text x="296.38" y="232.27" font-size="7.6" text-anchor="start" fill="#1a1a1a"> 400</text>
<text x="309.16" y="217.35" font-size="7.6" text-anchor="start" fill="#1a1a1a"> 500</text>
<text x="135.3" y="339.25" font-size="9" text-anchor="middle" fill="#1a1a1a">PC1</text>
<text x="19.83" y="237.91" font-size="9" text-anchor="middle" fill="#1a1a1a" transform="rotate(-90 19.83 237.91)">PC3</text>
<text x="343" y="215.45" font-size="9" text-anchor="middle" fill="#1a1a1a" transform="rotate(-90 343 215.45)">PC2</text>
<line x1="383.56" y1="304.93" x2="454.22" y2="239.03" stroke="#c9c9c9" stroke-width="0.8"/>
<line x1="410.11" y1="304.93" x2="480.77" y2="239.03" stroke="#c9c9c9" stroke-width="0.8"/>
<line x1="436.67" y1="304.93" x2="507.33" y2="239.03" stroke="#c9c9c9" stroke-width="0.8"/>
<line x1="463.22" y1="304.93" x2="533.88" y2="239.03" stroke="#c9c9c9" stroke-width="0.8"/>
<line x1="489.78" y1="304.93" x2="560.44" y2="239.03" stroke="#c9c9c9" stroke-width="0.8"/>
<line x1="516.33" y1="304.93" x2="586.99" y2="239.03" stroke="#c9c9c9" stroke-width="0.8"/>
<line x1="542.89" y1="304.93" x2="613.55" y2="239.03" stroke="#c9c9c9" stroke-width="0.8"/>
<line x1="569.44" y1="304.93" x2="640.1" y2="239.03" stroke="#c9c9c9" stroke-width="0.8"/>
<line x1="383.56" y1="304.93" x2="569.44" y2="304.93" stroke="#c9c9c9" stroke-width="0.8"/>
<line x1="395.34" y1="293.95" x2="581.22" y2="293.95" stroke="#c9c9c9" stroke-width="0.8"/>
<line x1="407.11" y1="282.96" x2="592.99" y2="282.96" stroke="#c9c9c9" stroke-width="0.8"/>
<line x1="418.89" y1="271.98" x2="604.77" y2="271.98" stroke="#c9c9c9" stroke-width="0.8"/>
<line x1="430.67" y1="261" x2="616.55" y2="261" stroke="#c9c9c9" stroke-width="0.8"/>
<line x1="442.44" y1="250.01" x2="628.32" y2="250.01" stroke="#c9c9c9" stroke-width="0.8"/>
<line x1="454.22" y1="239.03" x2="640.1" y2="239.03" stroke="#c9c9c9" stroke-width="0.8"/>
<line x1="454.22" y1="81.59" x2="640.1" y2="81.59" stroke="#5e5a57" stroke-width="1.1"/>
<line x1="454.22" y1="81.59" x2="454.22" y2="239.03" stroke="#5e5a57" stroke-width="1.1"/>
<line x1="640.1" y1="81.59" x2="640.1" y2="239.03" stroke="#5e5a57" stroke-width="1.1"/>
<line x1="454.22" y1="239.03" x2="640.1" y2="239.03" stroke="#5e5a57" stroke-width="1.1"/>
<line x1="383.56" y1="304.93" x2="454.22" y2="239.03" stroke="#4a4643" stroke-width="1.05"/>
<circle cx="502.71" cy="215.56" r="2.25" fill="#e24f6e"/>
<circle cx="522.59" cy="182.39" r="2.25" fill="#e24f6e"/>
<circle cx="552.9" cy="189.64" r="2.25" fill="#e24f6e"/>
<circle cx="565" cy="222.25" r="2.25" fill="#2a8dd2"/>
<circle cx="524.23" cy="207.47" r="2.25" fill="#2a8dd2"/>
<circle cx="496.65" cy="187.03" r="2.25" fill="#e24f6e"/>
<circle cx="513.19" cy="206.22" r="2.25" fill="#2a8dd2"/>
<circle cx="528.17" cy="185.45" r="2.25" fill="#2a8dd2"/>
<circle cx="574.72" cy="196.7" r="2.25" fill="#2a8dd2"/>
<circle cx="539.38" cy="217.37" r="2.25" fill="#2a8dd2"/>
<circle cx="535.93" cy="195.25" r="2.25" fill="#2a8dd2"/>
<circle cx="574.07" cy="221.3" r="2.25" fill="#2a8dd2"/>
<circle cx="533.02" cy="191.08" r="2.25" fill="#e24f6e"/>
<circle cx="519.32" cy="225.32" r="2.25" fill="#e24f6e"/>
<circle cx="502.64" cy="179.89" r="2.25" fill="#2a8dd2"/>
<circle cx="495.53" cy="182.18" r="2.25" fill="#2a8dd2"/>
<circle cx="532.07" cy="221.53" r="2.25" fill="#2a8dd2"/>
<circle cx="484.23" cy="207.9" r="2.25" fill="#2a8dd2"/>
<circle cx="502.95" cy="206.22" r="2.25" fill="#e24f6e"/>
<circle cx="570.77" cy="211.49" r="2.25" fill="#2a8dd2"/>
<circle cx="521.49" cy="185.99" r="2.25" fill="#e24f6e"/>
<circle cx="574.2" cy="189.09" r="2.25" fill="#2a8dd2"/>
<circle cx="502.82" cy="195.6" r="2.25" fill="#e24f6e"/>
<circle cx="565.74" cy="219.86" r="2.25" fill="#2a8dd2"/>
<circle cx="554.28" cy="213.48" r="2.25" fill="#e24f6e"/>
<circle cx="492.05" cy="215.75" r="2.25" fill="#e24f6e"/>
<circle cx="543.66" cy="192.94" r="2.25" fill="#e24f6e"/>
<circle cx="551.52" cy="183.27" r="2.25" fill="#2a8dd2"/>
<circle cx="502.93" cy="184.21" r="2.25" fill="#2a8dd2"/>
<circle cx="494.35" cy="189.92" r="2.25" fill="#2a8dd2"/>
<circle cx="547.57" cy="187.76" r="2.25" fill="#2a8dd2"/>
<circle cx="567.98" cy="189.03" r="2.25" fill="#e24f6e"/>
<circle cx="562.07" cy="222.44" r="2.25" fill="#2a8dd2"/>
<circle cx="521.38" cy="182.85" r="2.25" fill="#e24f6e"/>
<circle cx="559.7" cy="209.42" r="2.25" fill="#2a8dd2"/>
<circle cx="510.96" cy="219.15" r="2.25" fill="#2a8dd2"/>
<circle cx="538.93" cy="185.14" r="2.25" fill="#2a8dd2"/>
<circle cx="483.5" cy="213.69" r="2.25" fill="#e24f6e"/>
<circle cx="492.04" cy="221.54" r="2.25" fill="#2a8dd2"/>
<circle cx="517.94" cy="185.78" r="2.25" fill="#2a8dd2"/>
<circle cx="559.44" cy="194.73" r="2.25" fill="#2a8dd2"/>
<circle cx="525.63" cy="193.9" r="2.25" fill="#e24f6e"/>
<circle cx="542.82" cy="188.56" r="2.25" fill="#2a8dd2"/>
<circle cx="505.76" cy="190.89" r="2.25" fill="#2a8dd2"/>
<circle cx="487.46" cy="192.47" r="2.25" fill="#e24f6e"/>
<circle cx="483.58" cy="214.32" r="2.25" fill="#2a8dd2"/>
<circle cx="556.28" cy="195.05" r="2.25" fill="#2a8dd2"/>
<circle cx="529.08" cy="187.29" r="2.25" fill="#2a8dd2"/>
<circle cx="566.46" cy="188.91" r="2.25" fill="#e24f6e"/>
<circle cx="491.39" cy="187.01" r="2.25" fill="#e24f6e"/>
<circle cx="547.03" cy="187.84" r="2.25" fill="#2a8dd2"/>
<circle cx="486.48" cy="208.43" r="2.25" fill="#2a8dd2"/>
<circle cx="504.57" cy="188.3" r="2.25" fill="#e24f6e"/>
<circle cx="546.65" cy="218.58" r="2.25" fill="#e24f6e"/>
<circle cx="497.62" cy="181.28" r="2.25" fill="#e24f6e"/>
<circle cx="517.59" cy="214.08" r="2.25" fill="#2a8dd2"/>
<circle cx="556.63" cy="194.76" r="2.25" fill="#e24f6e"/>
<circle cx="561.86" cy="202.65" r="2.25" fill="#2a8dd2"/>
<circle cx="566.29" cy="201.83" r="2.25" fill="#e24f6e"/>
<circle cx="503.83" cy="187.3" r="2.25" fill="#e24f6e"/>
<circle cx="513.61" cy="186.17" r="2.25" fill="#2a8dd2"/>
<circle cx="528.42" cy="200.29" r="2.25" fill="#2a8dd2"/>
<circle cx="489.71" cy="213.73" r="2.25" fill="#e24f6e"/>
<circle cx="561.95" cy="194.05" r="2.25" fill="#e24f6e"/>
<circle cx="514.99" cy="215.57" r="2.25" fill="#2a8dd2"/>
<circle cx="526" cy="203.67" r="2.25" fill="#2a8dd2"/>
<circle cx="530.12" cy="179.03" r="2.25" fill="#e24f6e"/>
<circle cx="499.7" cy="187.12" r="2.25" fill="#2a8dd2"/>
<circle cx="502.29" cy="218.86" r="2.25" fill="#2a8dd2"/>
<circle cx="487.36" cy="212.95" r="2.25" fill="#2a8dd2"/>
<circle cx="479.72" cy="207.97" r="2.25" fill="#e24f6e"/>
<circle cx="528.72" cy="213.13" r="2.25" fill="#2a8dd2"/>
<circle cx="562.34" cy="213.85" r="2.25" fill="#2a8dd2"/>
<circle cx="489.94" cy="202.68" r="2.25" fill="#2a8dd2"/>
<circle cx="505.12" cy="184.1" r="2.25" fill="#2a8dd2"/>
<circle cx="491.28" cy="207.59" r="2.25" fill="#e24f6e"/>
<circle cx="492.28" cy="206.64" r="2.25" fill="#e24f6e"/>
<circle cx="493.94" cy="219.3" r="2.25" fill="#e24f6e"/>
<circle cx="515.71" cy="199.02" r="2.25" fill="#e24f6e"/>
<circle cx="528.98" cy="197.78" r="2.25" fill="#e24f6e"/>
<circle cx="524.08" cy="199.48" r="2.25" fill="#2a8dd2"/>
<circle cx="506.4" cy="202.2" r="2.25" fill="#e24f6e"/>
<circle cx="525.18" cy="215.56" r="2.25" fill="#e24f6e"/>
<circle cx="526.91" cy="191.5" r="2.25" fill="#2a8dd2"/>
<circle cx="531.31" cy="216.16" r="2.25" fill="#2a8dd2"/>
<circle cx="509.89" cy="207.72" r="2.25" fill="#2a8dd2"/>
<circle cx="510.32" cy="204.13" r="2.25" fill="#2a8dd2"/>
<circle cx="524.06" cy="216.23" r="2.25" fill="#2a8dd2"/>
<circle cx="525.37" cy="214.76" r="2.25" fill="#e24f6e"/>
<circle cx="494.37" cy="207.96" r="2.25" fill="#2a8dd2"/>
<circle cx="520.14" cy="197.66" r="2.25" fill="#2a8dd2"/>
<circle cx="529.98" cy="207.4" r="2.25" fill="#2a8dd2"/>
<circle cx="513.81" cy="202.14" r="2.25" fill="#e24f6e"/>
<circle cx="504.5" cy="198.55" r="2.25" fill="#2a8dd2"/>
<circle cx="497.82" cy="206.64" r="2.25" fill="#e24f6e"/>
<circle cx="513.55" cy="197.52" r="2.25" fill="#2a8dd2"/>
<circle cx="514.35" cy="194.16" r="2.25" fill="#2a8dd2"/>
<circle cx="498.25" cy="198.22" r="2.25" fill="#2a8dd2"/>
<circle cx="504.53" cy="196.82" r="2.25" fill="#2a8dd2"/>
<circle cx="514.85" cy="213.51" r="2.25" fill="#2a8dd2"/>
<circle cx="515.81" cy="208.21" r="2.25" fill="#2a8dd2"/>
<circle cx="521.41" cy="202.9" r="2.25" fill="#2a8dd2"/>
<circle cx="517.51" cy="203.13" r="2.25" fill="#2a8dd2"/>
<circle cx="502.69" cy="196.2" r="2.25" fill="#2a8dd2"/>
<circle cx="508.33" cy="206.4" r="2.25" fill="#2a8dd2"/>
<circle cx="507.11" cy="214.13" r="2.25" fill="#2a8dd2"/>
<circle cx="515.27" cy="203.76" r="2.25" fill="#2a8dd2"/>
<circle cx="532.5" cy="198.27" r="2.25" fill="#2a8dd2"/>
<circle cx="527.85" cy="202.32" r="2.25" fill="#2a8dd2"/>
<circle cx="508.52" cy="202.32" r="2.25" fill="#2a8dd2"/>
<circle cx="531.37" cy="210.68" r="2.25" fill="#2a8dd2"/>
<circle cx="506.48" cy="199.87" r="2.25" fill="#2a8dd2"/>
<circle cx="517.65" cy="213.8" r="2.25" fill="#e24f6e"/>
<circle cx="513.71" cy="210.69" r="2.25" fill="#2a8dd2"/>
<circle cx="523.39" cy="203.31" r="2.25" fill="#2a8dd2"/>
<circle cx="521.34" cy="215.61" r="2.25" fill="#2a8dd2"/>
<circle cx="523.63" cy="206.4" r="2.25" fill="#2a8dd2"/>
<circle cx="531.51" cy="206.01" r="2.25" fill="#2a8dd2"/>
<circle cx="524.35" cy="214.44" r="2.25" fill="#2a8dd2"/>
<circle cx="508.18" cy="202.66" r="2.25" fill="#2a8dd2"/>
<circle cx="521.92" cy="198.2" r="2.25" fill="#2a8dd2"/>
<circle cx="515.21" cy="200.77" r="2.25" fill="#2a8dd2"/>
<circle cx="524.48" cy="213.79" r="2.25" fill="#2a8dd2"/>
<circle cx="510.76" cy="195.16" r="2.25" fill="#2a8dd2"/>
<circle cx="498.8" cy="206.11" r="2.25" fill="#2a8dd2"/>
<circle cx="505.95" cy="213.61" r="2.25" fill="#e24f6e"/>
<circle cx="531.35" cy="195.72" r="2.25" fill="#2a8dd2"/>
<circle cx="494.9" cy="205.82" r="2.25" fill="#2a8dd2"/>
<circle cx="529.81" cy="211.66" r="2.25" fill="#2a8dd2"/>
<circle cx="532.93" cy="204.49" r="2.25" fill="#2a8dd2"/>
<circle cx="520.41" cy="200.91" r="2.25" fill="#2a8dd2"/>
<circle cx="516.79" cy="199.83" r="2.25" fill="#e24f6e"/>
<circle cx="520.06" cy="204.71" r="2.25" fill="#2a8dd2"/>
<circle cx="507.98" cy="201.23" r="2.25" fill="#2a8dd2"/>
<circle cx="515.96" cy="214.64" r="2.25" fill="#e24f6e"/>
<circle cx="512.47" cy="202.32" r="2.25" fill="#2a8dd2"/>
<circle cx="532.84" cy="199.61" r="2.25" fill="#2a8dd2"/>
<circle cx="525.64" cy="194.78" r="2.25" fill="#2a8dd2"/>
<circle cx="532.14" cy="213.13" r="2.25" fill="#2a8dd2"/>
<circle cx="520.6" cy="212.98" r="2.25" fill="#e24f6e"/>
<circle cx="528.53" cy="201.78" r="2.25" fill="#2a8dd2"/>
<circle cx="504.6" cy="204.32" r="2.25" fill="#2a8dd2"/>
<circle cx="500.52" cy="195.11" r="2.25" fill="#2a8dd2"/>
<circle cx="517.13" cy="199.89" r="2.25" fill="#e24f6e"/>
<circle cx="509.46" cy="212.05" r="2.25" fill="#2a8dd2"/>
<circle cx="505.18" cy="213.58" r="2.25" fill="#2a8dd2"/>
<circle cx="519.72" cy="195.51" r="2.25" fill="#2a8dd2"/>
<circle cx="515.13" cy="197.45" r="2.25" fill="#2a8dd2"/>
<circle cx="514.26" cy="217.92" r="2.25" fill="#2a8dd2"/>
<circle cx="509.44" cy="193.4" r="2.25" fill="#2a8dd2"/>
<circle cx="523.38" cy="192.99" r="2.25" fill="#2a8dd2"/>
<circle cx="499.82" cy="204.63" r="2.25" fill="#e24f6e"/>
<circle cx="517.52" cy="212.58" r="2.25" fill="#2a8dd2"/>
<circle cx="505.91" cy="210.03" r="2.25" fill="#2a8dd2"/>
<circle cx="499.78" cy="197.47" r="2.25" fill="#2a8dd2"/>
<circle cx="529.15" cy="206.3" r="2.25" fill="#2a8dd2"/>
<circle cx="510.99" cy="200.8" r="2.25" fill="#2a8dd2"/>
<circle cx="528.62" cy="206.31" r="2.25" fill="#e24f6e"/>
<circle cx="510.59" cy="207.36" r="2.25" fill="#2a8dd2"/>
<circle cx="527.19" cy="198.81" r="2.25" fill="#e24f6e"/>
<circle cx="525.64" cy="198.5" r="2.25" fill="#2a8dd2"/>
<circle cx="531.4" cy="203.88" r="2.25" fill="#e24f6e"/>
<circle cx="502.72" cy="200.91" r="2.25" fill="#2a8dd2"/>
<circle cx="501.86" cy="198.66" r="2.25" fill="#e24f6e"/>
<circle cx="512.38" cy="212.2" r="2.25" fill="#2a8dd2"/>
<circle cx="499.94" cy="200.04" r="2.25" fill="#2a8dd2"/>
<circle cx="531.86" cy="198.14" r="2.25" fill="#2a8dd2"/>
<circle cx="497.6" cy="204.95" r="2.25" fill="#2a8dd2"/>
<circle cx="497.93" cy="213.12" r="2.25" fill="#2a8dd2"/>
<circle cx="502.8" cy="195.35" r="2.25" fill="#2a8dd2"/>
<circle cx="519.57" cy="199.56" r="2.25" fill="#2a8dd2"/>
<circle cx="521.23" cy="192.59" r="2.25" fill="#2a8dd2"/>
<circle cx="526.4" cy="193.58" r="2.25" fill="#2a8dd2"/>
<circle cx="526.45" cy="212.54" r="2.25" fill="#2a8dd2"/>
<circle cx="507.12" cy="210.23" r="2.25" fill="#2a8dd2"/>
<circle cx="531.34" cy="195.83" r="2.25" fill="#e24f6e"/>
<circle cx="513.19" cy="196.36" r="2.25" fill="#2a8dd2"/>
<circle cx="498.24" cy="209.78" r="2.25" fill="#2a8dd2"/>
<circle cx="528.98" cy="206.45" r="2.25" fill="#2a8dd2"/>
<circle cx="502.85" cy="207.03" r="2.25" fill="#2a8dd2"/>
<circle cx="527.9" cy="193.44" r="2.25" fill="#2a8dd2"/>
<circle cx="514.7" cy="197.57" r="2.25" fill="#2a8dd2"/>
<circle cx="508.39" cy="208.41" r="2.25" fill="#2a8dd2"/>
<circle cx="505.43" cy="200.92" r="2.25" fill="#2a8dd2"/>
<circle cx="500.08" cy="213.83" r="2.25" fill="#2a8dd2"/>
<circle cx="519.51" cy="193.05" r="2.25" fill="#2a8dd2"/>
<circle cx="507.46" cy="204.01" r="2.25" fill="#2a8dd2"/>
<circle cx="495.64" cy="198.72" r="2.25" fill="#2a8dd2"/>
<circle cx="498.05" cy="210.07" r="2.25" fill="#2a8dd2"/>
<circle cx="509.14" cy="215.45" r="2.25" fill="#2a8dd2"/>
<circle cx="565.66" cy="212.7" r="2.25" fill="#2a8dd2"/>
<circle cx="543.23" cy="186.92" r="2.25" fill="#e24f6e"/>
<circle cx="557.55" cy="196.89" r="2.25" fill="#2a8dd2"/>
<circle cx="557.39" cy="207.68" r="2.25" fill="#2a8dd2"/>
<circle cx="564.33" cy="196.92" r="2.25" fill="#e24f6e"/>
<circle cx="539.72" cy="189.57" r="2.25" fill="#e24f6e"/>
<circle cx="560.16" cy="208.09" r="2.25" fill="#2a8dd2"/>
<circle cx="534.48" cy="191.02" r="2.25" fill="#2a8dd2"/>
<circle cx="544.21" cy="197.8" r="2.25" fill="#2a8dd2"/>
<circle cx="544.5" cy="205.79" r="2.25" fill="#2a8dd2"/>
<circle cx="564.06" cy="203.68" r="2.25" fill="#e24f6e"/>
<circle cx="542.42" cy="199.48" r="2.25" fill="#e24f6e"/>
<circle cx="563.87" cy="210.07" r="2.25" fill="#2a8dd2"/>
<circle cx="534.59" cy="212.48" r="2.25" fill="#e24f6e"/>
<circle cx="534.75" cy="193.58" r="2.25" fill="#2a8dd2"/>
<circle cx="562.28" cy="192.51" r="2.25" fill="#e24f6e"/>
<circle cx="560.73" cy="188.67" r="2.25" fill="#e24f6e"/>
<circle cx="547.56" cy="209.17" r="2.25" fill="#e24f6e"/>
<circle cx="543.4" cy="188.79" r="2.25" fill="#e24f6e"/>
<circle cx="548.69" cy="214.84" r="2.25" fill="#e24f6e"/>
<circle cx="560.33" cy="211.73" r="2.25" fill="#e24f6e"/>
<circle cx="549.75" cy="187.68" r="2.25" fill="#e24f6e"/>
<circle cx="548.85" cy="201.87" r="2.25" fill="#e24f6e"/>
<circle cx="537.72" cy="209.62" r="2.25" fill="#2a8dd2"/>
<circle cx="559" cy="210.98" r="2.25" fill="#2a8dd2"/>
<circle cx="553.22" cy="216.05" r="2.25" fill="#e24f6e"/>
<circle cx="553.13" cy="193.74" r="2.25" fill="#2a8dd2"/>
<circle cx="546.24" cy="198.76" r="2.25" fill="#2a8dd2"/>
<circle cx="544.49" cy="190.23" r="2.25" fill="#e24f6e"/>
<circle cx="557.8" cy="193.37" r="2.25" fill="#2a8dd2"/>
<circle cx="552.07" cy="199.8" r="2.25" fill="#e24f6e"/>
<circle cx="546" cy="195.28" r="2.25" fill="#e24f6e"/>
<circle cx="538.25" cy="203.46" r="2.25" fill="#2a8dd2"/>
<circle cx="563.17" cy="203" r="2.25" fill="#e24f6e"/>
<circle cx="539.26" cy="206.66" r="2.25" fill="#e24f6e"/>
<circle cx="550.06" cy="209.75" r="2.25" fill="#e24f6e"/>
<circle cx="537.24" cy="194.97" r="2.25" fill="#2a8dd2"/>
<circle cx="540.64" cy="187.87" r="2.25" fill="#2a8dd2"/>
<circle cx="540.29" cy="207.75" r="2.25" fill="#2a8dd2"/>
<circle cx="537.18" cy="196.06" r="2.25" fill="#e24f6e"/>
<circle cx="546.43" cy="191.21" r="2.25" fill="#2a8dd2"/>
<circle cx="560.77" cy="188.6" r="2.25" fill="#e24f6e"/>
<circle cx="569.27" cy="203.47" r="2.25" fill="#2a8dd2"/>
<circle cx="551.09" cy="199.46" r="2.25" fill="#2a8dd2"/>
<circle cx="553.09" cy="186.26" r="2.25" fill="#e24f6e"/>
<circle cx="556.85" cy="205.46" r="2.25" fill="#e24f6e"/>
<circle cx="557.15" cy="193.79" r="2.25" fill="#2a8dd2"/>
<circle cx="561.65" cy="212.03" r="2.25" fill="#2a8dd2"/>
<circle cx="539.87" cy="205.78" r="2.25" fill="#e24f6e"/>
<circle cx="567.29" cy="191.22" r="2.25" fill="#e24f6e"/>
<circle cx="563.72" cy="209.01" r="2.25" fill="#2a8dd2"/>
<circle cx="539.83" cy="211.59" r="2.25" fill="#2a8dd2"/>
<circle cx="546.64" cy="203.09" r="2.25" fill="#2a8dd2"/>
<circle cx="563.76" cy="193.42" r="2.25" fill="#2a8dd2"/>
<circle cx="553.97" cy="205.47" r="2.25" fill="#e24f6e"/>
<circle cx="559.11" cy="214.06" r="2.25" fill="#e24f6e"/>
<circle cx="551.29" cy="201.49" r="2.25" fill="#2a8dd2"/>
<circle cx="544.08" cy="204.01" r="2.25" fill="#2a8dd2"/>
<circle cx="558.46" cy="191.07" r="2.25" fill="#2a8dd2"/>
<circle cx="568.88" cy="188.78" r="2.25" fill="#2a8dd2"/>
<circle cx="549.26" cy="191.92" r="2.25" fill="#e24f6e"/>
<circle cx="533.1" cy="212.07" r="2.25" fill="#e24f6e"/>
<circle cx="562.12" cy="199.19" r="2.25" fill="#2a8dd2"/>
<circle cx="557.48" cy="201.95" r="2.25" fill="#2a8dd2"/>
<circle cx="545.53" cy="199.6" r="2.25" fill="#e24f6e"/>
<circle cx="563.56" cy="214.02" r="2.25" fill="#2a8dd2"/>
<circle cx="543.94" cy="199.74" r="2.25" fill="#e24f6e"/>
<circle cx="545.88" cy="192.06" r="2.25" fill="#2a8dd2"/>
<circle cx="544.98" cy="200.27" r="2.25" fill="#e24f6e"/>
<circle cx="566.62" cy="212.83" r="2.25" fill="#e24f6e"/>
<circle cx="568.59" cy="205.22" r="2.25" fill="#e24f6e"/>
<circle cx="535.22" cy="206.97" r="2.25" fill="#e24f6e"/>
<circle cx="543.99" cy="203.7" r="2.25" fill="#e24f6e"/>
<circle cx="550.79" cy="206.07" r="2.25" fill="#2a8dd2"/>
<circle cx="545.71" cy="213.44" r="2.25" fill="#2a8dd2"/>
<circle cx="539.99" cy="207.04" r="2.25" fill="#2a8dd2"/>
<circle cx="536.15" cy="206.47" r="2.25" fill="#2a8dd2"/>
<circle cx="554.49" cy="198.91" r="2.25" fill="#e24f6e"/>
<circle cx="553.9" cy="198.29" r="2.25" fill="#2a8dd2"/>
<circle cx="539.68" cy="213.59" r="2.25" fill="#e24f6e"/>
<circle cx="537.15" cy="212.73" r="2.25" fill="#2a8dd2"/>
<circle cx="536.51" cy="202.45" r="2.25" fill="#2a8dd2"/>
<circle cx="551.1" cy="203.17" r="2.25" fill="#2a8dd2"/>
<circle cx="554.19" cy="189.5" r="2.25" fill="#e24f6e"/>
<circle cx="554.77" cy="188.49" r="2.25" fill="#2a8dd2"/>
<circle cx="535.72" cy="199.63" r="2.25" fill="#e24f6e"/>
<circle cx="553.37" cy="208.15" r="2.25" fill="#e24f6e"/>
<circle cx="559.7" cy="189.16" r="2.25" fill="#e24f6e"/>
<circle cx="547.5" cy="191.31" r="2.25" fill="#e24f6e"/>
<circle cx="553.83" cy="210.02" r="2.25" fill="#2a8dd2"/>
<circle cx="561.72" cy="187.78" r="2.25" fill="#2a8dd2"/>
<circle cx="546.78" cy="186.47" r="2.25" fill="#e24f6e"/>
<circle cx="540.89" cy="195.3" r="2.25" fill="#e24f6e"/>
<circle cx="548.76" cy="213.55" r="2.25" fill="#e24f6e"/>
<circle cx="565.27" cy="203.45" r="2.25" fill="#e24f6e"/>
<circle cx="565.22" cy="191.21" r="2.25" fill="#e24f6e"/>
<circle cx="545.63" cy="209.67" r="2.25" fill="#e24f6e"/>
<circle cx="563.55" cy="189.8" r="2.25" fill="#2a8dd2"/>
<circle cx="560.28" cy="215.39" r="2.25" fill="#e24f6e"/>
<circle cx="534.61" cy="204.72" r="2.25" fill="#2a8dd2"/>
<circle cx="553.31" cy="210.89" r="2.25" fill="#2a8dd2"/>
<circle cx="567.24" cy="206.93" r="2.25" fill="#2a8dd2"/>
<circle cx="540.15" cy="199.85" r="2.25" fill="#e24f6e"/>
<circle cx="554.51" cy="189.52" r="2.25" fill="#2a8dd2"/>
<circle cx="537.09" cy="210.82" r="2.25" fill="#2a8dd2"/>
<circle cx="553.51" cy="194.99" r="2.25" fill="#e24f6e"/>
<circle cx="547.09" cy="190.47" r="2.25" fill="#e24f6e"/>
<circle cx="552.92" cy="207.38" r="2.25" fill="#e24f6e"/>
<circle cx="568.1" cy="186.43" r="2.25" fill="#2a8dd2"/>
<circle cx="538.58" cy="201.56" r="2.25" fill="#e24f6e"/>
<circle cx="562.62" cy="187.1" r="2.25" fill="#2a8dd2"/>
<circle cx="563.28" cy="207.06" r="2.25" fill="#2a8dd2"/>
<circle cx="550.6" cy="190.91" r="2.25" fill="#e24f6e"/>
<circle cx="547.56" cy="213.06" r="2.25" fill="#e24f6e"/>
<circle cx="535.81" cy="196.21" r="2.25" fill="#2a8dd2"/>
<circle cx="566.08" cy="204.27" r="2.25" fill="#2a8dd2"/>
<circle cx="539.28" cy="197.19" r="2.25" fill="#e24f6e"/>
<circle cx="554.35" cy="198.02" r="2.25" fill="#2a8dd2"/>
<circle cx="533.22" cy="203.95" r="2.25" fill="#2a8dd2"/>
<circle cx="533.76" cy="200.24" r="2.25" fill="#e24f6e"/>
<circle cx="534.68" cy="190.52" r="2.25" fill="#e24f6e"/>
<circle cx="543.09" cy="194.47" r="2.25" fill="#e24f6e"/>
<circle cx="542.7" cy="203.64" r="2.25" fill="#e24f6e"/>
<circle cx="534.26" cy="203.38" r="2.25" fill="#e24f6e"/>
<circle cx="565.28" cy="210" r="2.25" fill="#e24f6e"/>
<circle cx="556.48" cy="197.25" r="2.25" fill="#2a8dd2"/>
<circle cx="562.43" cy="213.06" r="2.25" fill="#e24f6e"/>
<circle cx="558.21" cy="195.42" r="2.25" fill="#e24f6e"/>
<circle cx="560.36" cy="201.78" r="2.25" fill="#e24f6e"/>
<circle cx="545.97" cy="203.07" r="2.25" fill="#2a8dd2"/>
<circle cx="535.24" cy="196.45" r="2.25" fill="#2a8dd2"/>
<circle cx="569.57" cy="200.93" r="2.25" fill="#2a8dd2"/>
<circle cx="542.01" cy="193.28" r="2.25" fill="#2a8dd2"/>
<circle cx="565.23" cy="200.05" r="2.25" fill="#2a8dd2"/>
<circle cx="554.04" cy="195.37" r="2.25" fill="#2a8dd2"/>
<circle cx="535.45" cy="195.35" r="2.25" fill="#2a8dd2"/>
<circle cx="559.89" cy="203.09" r="2.25" fill="#e24f6e"/>
<circle cx="545.6" cy="214.56" r="2.25" fill="#e24f6e"/>
<circle cx="535.96" cy="191.54" r="2.25" fill="#e24f6e"/>
<circle cx="569.54" cy="197.07" r="2.25" fill="#e24f6e"/>
<circle cx="548.85" cy="212.92" r="2.25" fill="#2a8dd2"/>
<circle cx="550.93" cy="213.87" r="2.25" fill="#2a8dd2"/>
<circle cx="539.09" cy="194.31" r="2.25" fill="#e24f6e"/>
<circle cx="541.08" cy="198.39" r="2.25" fill="#2a8dd2"/>
<circle cx="555.31" cy="212.79" r="2.25" fill="#e24f6e"/>
<circle cx="540.28" cy="208.75" r="2.25" fill="#e24f6e"/>
<circle cx="555.24" cy="188.46" r="2.25" fill="#e24f6e"/>
<circle cx="565.39" cy="196.58" r="2.25" fill="#2a8dd2"/>
<circle cx="539.96" cy="202.65" r="2.25" fill="#e24f6e"/>
<circle cx="556.68" cy="214.61" r="2.25" fill="#2a8dd2"/>
<circle cx="580.46" cy="203.73" r="2.25" fill="#e24f6e"/>
<circle cx="582.97" cy="201.97" r="2.25" fill="#e24f6e"/>
<circle cx="571.84" cy="195.36" r="2.25" fill="#2a8dd2"/>
<circle cx="590.04" cy="193.36" r="2.25" fill="#e24f6e"/>
<circle cx="589.13" cy="191.43" r="2.25" fill="#e24f6e"/>
<circle cx="570.44" cy="208.13" r="2.25" fill="#e24f6e"/>
<circle cx="589.65" cy="203.1" r="2.25" fill="#e24f6e"/>
<circle cx="572.99" cy="188.9" r="2.25" fill="#2a8dd2"/>
<circle cx="594.55" cy="187.25" r="2.25" fill="#e24f6e"/>
<circle cx="583.54" cy="198.47" r="2.25" fill="#e24f6e"/>
<circle cx="587.76" cy="201.43" r="2.25" fill="#e24f6e"/>
<circle cx="580.59" cy="203.53" r="2.25" fill="#2a8dd2"/>
<circle cx="594.83" cy="192.73" r="2.25" fill="#e24f6e"/>
<circle cx="578.9" cy="198.08" r="2.25" fill="#e24f6e"/>
<circle cx="585.22" cy="201.38" r="2.25" fill="#e24f6e"/>
<circle cx="577.3" cy="203.91" r="2.25" fill="#2a8dd2"/>
<circle cx="570.89" cy="188.35" r="2.25" fill="#2a8dd2"/>
<circle cx="586.06" cy="198.88" r="2.25" fill="#2a8dd2"/>
<circle cx="600.07" cy="194.14" r="2.25" fill="#2a8dd2"/>
<circle cx="575.68" cy="203.44" r="2.25" fill="#e24f6e"/>
<circle cx="575.19" cy="185.73" r="2.25" fill="#e24f6e"/>
<circle cx="585.97" cy="200.9" r="2.25" fill="#e24f6e"/>
<circle cx="595.62" cy="196.5" r="2.25" fill="#e24f6e"/>
<circle cx="598.91" cy="187.7" r="2.25" fill="#e24f6e"/>
<circle cx="572.09" cy="201.14" r="2.25" fill="#e24f6e"/>
<circle cx="597.65" cy="186.5" r="2.25" fill="#e24f6e"/>
<circle cx="577.17" cy="191.3" r="2.25" fill="#2a8dd2"/>
<circle cx="583.88" cy="190.78" r="2.25" fill="#2a8dd2"/>
<circle cx="594.29" cy="201.07" r="2.25" fill="#2a8dd2"/>
<circle cx="588.22" cy="188.92" r="2.25" fill="#e24f6e"/>
<circle cx="597.82" cy="191.68" r="2.25" fill="#e24f6e"/>
<circle cx="596.33" cy="192.06" r="2.25" fill="#e24f6e"/>
<circle cx="575.17" cy="202.07" r="2.25" fill="#e24f6e"/>
<circle cx="584.5" cy="199.48" r="2.25" fill="#e24f6e"/>
<circle cx="576.71" cy="207.09" r="2.25" fill="#e24f6e"/>
<circle cx="575.83" cy="206.6" r="2.25" fill="#e24f6e"/>
<circle cx="579.52" cy="185.61" r="2.25" fill="#2a8dd2"/>
<circle cx="599.17" cy="188.77" r="2.25" fill="#e24f6e"/>
<circle cx="573.12" cy="189.22" r="2.25" fill="#e24f6e"/>
<circle cx="572.89" cy="193.49" r="2.25" fill="#e24f6e"/>
<circle cx="577.51" cy="204.8" r="2.25" fill="#e24f6e"/>
<circle cx="571.21" cy="197.62" r="2.25" fill="#2a8dd2"/>
<circle cx="583.78" cy="187.62" r="2.25" fill="#2a8dd2"/>
<circle cx="601.7" cy="192.91" r="2.25" fill="#e24f6e"/>
<circle cx="573.85" cy="197.18" r="2.25" fill="#2a8dd2"/>
<circle cx="583.71" cy="189.47" r="2.25" fill="#e24f6e"/>
<circle cx="574.73" cy="203.46" r="2.25" fill="#e24f6e"/>
<circle cx="573.6" cy="193.84" r="2.25" fill="#e24f6e"/>
<circle cx="599.4" cy="193.74" r="2.25" fill="#2a8dd2"/>
<circle cx="593.4" cy="191.82" r="2.25" fill="#2a8dd2"/>
<circle cx="578.47" cy="186.72" r="2.25" fill="#2a8dd2"/>
<circle cx="586.28" cy="195.2" r="2.25" fill="#e24f6e"/>
<circle cx="581.6" cy="185.26" r="2.25" fill="#e24f6e"/>
<circle cx="590.9" cy="198.6" r="2.25" fill="#e24f6e"/>
<circle cx="582.78" cy="192.96" r="2.25" fill="#e24f6e"/>
<circle cx="601.13" cy="194.68" r="2.25" fill="#e24f6e"/>
<circle cx="583.12" cy="188.58" r="2.25" fill="#e24f6e"/>
<circle cx="570.17" cy="200.2" r="2.25" fill="#e24f6e"/>
<circle cx="578.15" cy="200.27" r="2.25" fill="#e24f6e"/>
<circle cx="577.7" cy="189.96" r="2.25" fill="#2a8dd2"/>
<circle cx="599.07" cy="186.24" r="2.25" fill="#e24f6e"/>
<circle cx="580.38" cy="201.16" r="2.25" fill="#e24f6e"/>
<circle cx="570.03" cy="203.66" r="2.25" fill="#e24f6e"/>
<circle cx="586.32" cy="199.81" r="2.25" fill="#e24f6e"/>
<circle cx="577.5" cy="200.74" r="2.25" fill="#e24f6e"/>
<circle cx="582.12" cy="202.8" r="2.25" fill="#e24f6e"/>
<circle cx="586.84" cy="200.32" r="2.25" fill="#e24f6e"/>
<circle cx="580.31" cy="200.72" r="2.25" fill="#e24f6e"/>
<circle cx="577.14" cy="200.31" r="2.25" fill="#2a8dd2"/>
<circle cx="599.08" cy="196.83" r="2.25" fill="#e24f6e"/>
<circle cx="445.5" cy="130.3" r="2.25" fill="#e24f6e"/>
<circle cx="458" cy="152" r="2.25" fill="#e24f6e"/>
<circle cx="481" cy="159.3" r="2.25" fill="#2a8dd2"/>
<circle cx="483.6" cy="251.2" r="2.25" fill="#2a8dd2"/>
<circle cx="522.8" cy="245.2" r="2.25" fill="#e24f6e"/>
<circle cx="514.3" cy="258" r="2.25" fill="#e24f6e"/>
<circle cx="583.7" cy="228.4" r="2.25" fill="#e24f6e"/>
<circle cx="590.7" cy="225.5" r="2.25" fill="#2a8dd2"/>
<circle cx="540.6" cy="231" r="2.25" fill="#e24f6e"/>
<circle cx="481.2" cy="159.2" r="2.25" fill="#2a8dd2"/>
<circle cx="519.1" cy="163.4" r="2.25" fill="#2a8dd2"/>
<circle cx="504.2" cy="167.2" r="2.25" fill="#2a8dd2"/>
<circle cx="504.5" cy="170.9" r="2.25" fill="#e24f6e"/>
<circle cx="496.5" cy="174.5" r="2.25" fill="#2a8dd2"/>
<circle cx="500.1" cy="177.4" r="2.25" fill="#2a8dd2"/>
<circle cx="508.9" cy="175.1" r="2.25" fill="#2a8dd2"/>
<circle cx="487.4" cy="179.2" r="2.25" fill="#2a8dd2"/>
<circle cx="494.6" cy="179.5" r="2.25" fill="#e24f6e"/>
<circle cx="504.2" cy="179.2" r="2.25" fill="#e24f6e"/>
<circle cx="510.7" cy="179.9" r="2.25" fill="#2a8dd2"/>
<circle cx="520.3" cy="176" r="2.25" fill="#e24f6e"/>
<circle cx="524" cy="178.2" r="2.25" fill="#2a8dd2"/>
<circle cx="538.1" cy="176" r="2.25" fill="#e24f6e"/>
<circle cx="548.8" cy="179.6" r="2.25" fill="#2a8dd2"/>
<circle cx="538.8" cy="182.4" r="2.25" fill="#e24f6e"/>
<circle cx="480.9" cy="185.5" r="2.25" fill="#2a8dd2"/>
<circle cx="488" cy="187.7" r="2.25" fill="#e24f6e"/>
<circle cx="503.5" cy="185.8" r="2.25" fill="#2a8dd2"/>
<circle cx="522.8" cy="183.9" r="2.25" fill="#e24f6e"/>
<circle cx="477.5" cy="191.2" r="2.25" fill="#e24f6e"/>
<circle cx="475" cy="192.3" r="2.25" fill="#2a8dd2"/>
<circle cx="475.6" cy="197.4" r="2.25" fill="#2a8dd2"/>
<circle cx="480.1" cy="198.5" r="2.25" fill="#2a8dd2"/>
<circle cx="469.5" cy="200.4" r="2.25" fill="#2a8dd2"/>
<circle cx="468" cy="201.4" r="2.25" fill="#2a8dd2"/>
<circle cx="466.9" cy="205.8" r="2.25" fill="#e24f6e"/>
<circle cx="473.1" cy="206.2" r="2.25" fill="#e24f6e"/>
<circle cx="473.9" cy="204.3" r="2.25" fill="#2a8dd2"/>
<circle cx="479.7" cy="223.4" r="2.25" fill="#2a8dd2"/>
<circle cx="482.9" cy="230.3" r="2.25" fill="#e24f6e"/>
<circle cx="487.7" cy="229.1" r="2.25" fill="#2a8dd2"/>
<circle cx="492.4" cy="235.4" r="2.25" fill="#e24f6e"/>
<circle cx="496.9" cy="230.3" r="2.25" fill="#e24f6e"/>
<circle cx="497.7" cy="227.1" r="2.25" fill="#2a8dd2"/>
<circle cx="503.8" cy="233.9" r="2.25" fill="#e24f6e"/>
<circle cx="506.4" cy="237.3" r="2.25" fill="#2a8dd2"/>
<circle cx="511.8" cy="237.3" r="2.25" fill="#e24f6e"/>
<circle cx="522" cy="230.7" r="2.25" fill="#2a8dd2"/>
<circle cx="540.3" cy="231" r="2.25" fill="#e24f6e"/>
<circle cx="502.8" cy="226.6" r="2.25" fill="#2a8dd2"/>
<circle cx="506.4" cy="224.5" r="2.25" fill="#e24f6e"/>
<circle cx="507.4" cy="227.4" r="2.25" fill="#2a8dd2"/>
<circle cx="491" cy="221.1" r="2.25" fill="#e24f6e"/>
<circle cx="485.8" cy="218.6" r="2.25" fill="#2a8dd2"/>
<circle cx="495.8" cy="218.2" r="2.25" fill="#e24f6e"/>
<circle cx="498.7" cy="217.4" r="2.25" fill="#2a8dd2"/>
<circle cx="486.3" cy="208.1" r="2.25" fill="#e24f6e"/>
<circle cx="487.7" cy="210.6" r="2.25" fill="#2a8dd2"/>
<circle cx="490.7" cy="214.2" r="2.25" fill="#2a8dd2"/>
<circle cx="487.7" cy="214.2" r="2.25" fill="#2a8dd2"/>
<circle cx="497.7" cy="208.4" r="2.25" fill="#e24f6e"/>
<circle cx="500.1" cy="212" r="2.25" fill="#e24f6e"/>
<circle cx="515.2" cy="217.9" r="2.25" fill="#e24f6e"/>
<circle cx="519.4" cy="163.5" r="2.25" fill="#2a8dd2"/>
<circle cx="520.5" cy="176" r="2.25" fill="#e24f6e"/>
<circle cx="523.9" cy="178.4" r="2.25" fill="#2a8dd2"/>
<circle cx="538.1" cy="176" r="2.25" fill="#e24f6e"/>
<circle cx="538.6" cy="182.4" r="2.25" fill="#e24f6e"/>
<circle cx="549" cy="179.5" r="2.25" fill="#2a8dd2"/>
<circle cx="567.6" cy="179.2" r="2.25" fill="#2a8dd2"/>
<circle cx="522.8" cy="184" r="2.25" fill="#e24f6e"/>
<circle cx="529.7" cy="183.7" r="2.25" fill="#e24f6e"/>
<circle cx="518" cy="180.3" r="2.25" fill="#2a8dd2"/>
<circle cx="553.8" cy="184.5" r="2.25" fill="#2a8dd2"/>
<circle cx="526" cy="223.8" r="2.25" fill="#2a8dd2"/>
<circle cx="531.9" cy="224" r="2.25" fill="#2a8dd2"/>
<circle cx="537.2" cy="224.6" r="2.25" fill="#2a8dd2"/>
<circle cx="545.8" cy="224.6" r="2.25" fill="#2a8dd2"/>
<circle cx="542" cy="221.9" r="2.25" fill="#e24f6e"/>
<circle cx="535.6" cy="221.7" r="2.25" fill="#e24f6e"/>
<circle cx="554.8" cy="223" r="2.25" fill="#e24f6e"/>
<circle cx="553.2" cy="220.8" r="2.25" fill="#e24f6e"/>
<circle cx="561.8" cy="218.7" r="2.25" fill="#e24f6e"/>
<circle cx="567.1" cy="224" r="2.25" fill="#e24f6e"/>
<circle cx="515.3" cy="220.8" r="2.25" fill="#2a8dd2"/>
<circle cx="522.3" cy="220.3" r="2.25" fill="#2a8dd2"/>
<circle cx="600.9" cy="184.8" r="2.25" fill="#2a8dd2"/>
<circle cx="601.6" cy="186.6" r="2.25" fill="#2a8dd2"/>
<circle cx="594" cy="186.6" r="2.25" fill="#e24f6e"/>
<circle cx="600.4" cy="189.3" r="2.25" fill="#e24f6e"/>
<circle cx="598.3" cy="194.2" r="2.25" fill="#e24f6e"/>
<circle cx="601.6" cy="196" r="2.25" fill="#e24f6e"/>
<circle cx="592.5" cy="200.3" r="2.25" fill="#e24f6e"/>
<circle cx="587.9" cy="198" r="2.25" fill="#e24f6e"/>
<circle cx="590.2" cy="209.5" r="2.25" fill="#e24f6e"/>
<circle cx="580.3" cy="209.5" r="2.25" fill="#e24f6e"/>
<circle cx="575.7" cy="209.5" r="2.25" fill="#e24f6e"/>
<circle cx="591" cy="225.5" r="2.25" fill="#2a8dd2"/>
<circle cx="583" cy="228.8" r="2.25" fill="#e24f6e"/>
<circle cx="540.4" cy="231.6" r="2.25" fill="#e24f6e"/>
<circle cx="587.6" cy="184.3" r="2.25" fill="#2a8dd2"/>
<circle cx="582.6" cy="184.8" r="2.25" fill="#2a8dd2"/>
<circle cx="577.3" cy="186.6" r="2.25" fill="#2a8dd2"/>
<circle cx="584.1" cy="198" r="2.25" fill="#2a8dd2"/>
<circle cx="570" cy="219" r="2.25" fill="#e24f6e"/>
<circle cx="567.3" cy="223.9" r="2.25" fill="#e24f6e"/>
<circle cx="569.3" cy="216.3" r="2.25" fill="#2a8dd2"/>
<line x1="383.56" y1="147.49" x2="569.44" y2="147.49" stroke="#5e5a57" stroke-width="1.1"/>
<line x1="383.56" y1="147.49" x2="383.56" y2="304.93" stroke="#5e5a57" stroke-width="1.1"/>
<line x1="569.44" y1="147.49" x2="569.44" y2="304.93" stroke="#5e5a57" stroke-width="1.1"/>
<line x1="383.56" y1="304.93" x2="569.44" y2="304.93" stroke="#5e5a57" stroke-width="1.1"/>
<line x1="383.56" y1="147.49" x2="454.22" y2="81.59" stroke="#4a4643" stroke-width="1.05"/>
<line x1="569.44" y1="147.49" x2="640.1" y2="81.59" stroke="#4a4643" stroke-width="1.05"/>
<line x1="569.44" y1="304.93" x2="640.1" y2="239.03" stroke="#4a4643" stroke-width="1.05"/>
<line x1="383.56" y1="303.43" x2="383.56" y2="306.53" stroke="#5e5a57" stroke-width="1.1"/>
<line x1="410.11" y1="303.43" x2="410.11" y2="306.53" stroke="#5e5a57" stroke-width="1.1"/>
<line x1="436.67" y1="303.43" x2="436.67" y2="306.53" stroke="#5e5a57" stroke-width="1.1"/>
<line x1="463.22" y1="303.43" x2="463.22" y2="306.53" stroke="#5e5a57" stroke-width="1.1"/>
<line x1="489.78" y1="303.43" x2="489.78" y2="306.53" stroke="#5e5a57" stroke-width="1.1"/>
<line x1="516.33" y1="303.43" x2="516.33" y2="306.53" stroke="#5e5a57" stroke-width="1.1"/>
<line x1="542.89" y1="303.43" x2="542.89" y2="306.53" stroke="#5e5a57" stroke-width="1.1"/>
<line x1="569.44" y1="303.43" x2="569.44" y2="306.53" stroke="#5e5a57" stroke-width="1.1"/>
<line x1="381.86" y1="147.49" x2="385.16" y2="147.49" stroke="#5e5a57" stroke-width="1.1"/>
<line x1="381.86" y1="167.17" x2="385.16" y2="167.17" stroke="#5e5a57" stroke-width="1.1"/>
<line x1="381.86" y1="186.85" x2="385.16" y2="186.85" stroke="#5e5a57" stroke-width="1.1"/>
<line x1="381.86" y1="206.53" x2="385.16" y2="206.53" stroke="#5e5a57" stroke-width="1.1"/>
<line x1="381.86" y1="226.21" x2="385.16" y2="226.21" stroke="#5e5a57" stroke-width="1.1"/>
<line x1="381.86" y1="245.89" x2="385.16" y2="245.89" stroke="#5e5a57" stroke-width="1.1"/>
<line x1="381.86" y1="265.57" x2="385.16" y2="265.57" stroke="#5e5a57" stroke-width="1.1"/>
<line x1="381.86" y1="285.25" x2="385.16" y2="285.25" stroke="#5e5a57" stroke-width="1.1"/>
<line x1="381.86" y1="304.93" x2="385.16" y2="304.93" stroke="#5e5a57" stroke-width="1.1"/>
<line x1="567.94" y1="304.93" x2="571.04" y2="304.93" stroke="#5e5a57" stroke-width="1.1"/>
<line x1="579.72" y1="293.95" x2="582.82" y2="293.95" stroke="#5e5a57" stroke-width="1.1"/>
<line x1="591.49" y1="282.96" x2="594.59" y2="282.96" stroke="#5e5a57" stroke-width="1.1"/>
<line x1="603.27" y1="271.98" x2="606.37" y2="271.98" stroke="#5e5a57" stroke-width="1.1"/>
<line x1="615.05" y1="261" x2="618.15" y2="261" stroke="#5e5a57" stroke-width="1.1"/>
<line x1="626.82" y1="250.01" x2="629.92" y2="250.01" stroke="#5e5a57" stroke-width="1.1"/>
<line x1="638.6" y1="239.03" x2="641.7" y2="239.03" stroke="#5e5a57" stroke-width="1.1"/>
<text x="383.56" y="317.33" font-size="7.6" text-anchor="middle" fill="#1a1a1a">−8</text>
<text x="410.11" y="317.33" font-size="7.6" text-anchor="middle" fill="#1a1a1a">−6</text>
<text x="436.67" y="317.33" font-size="7.6" text-anchor="middle" fill="#1a1a1a">−4</text>
<text x="463.22" y="317.33" font-size="7.6" text-anchor="middle" fill="#1a1a1a">−2</text>
<text x="489.78" y="317.33" font-size="7.6" text-anchor="middle" fill="#1a1a1a"> 0</text>
<text x="516.33" y="317.33" font-size="7.6" text-anchor="middle" fill="#1a1a1a"> 2</text>
<text x="542.89" y="317.33" font-size="7.6" text-anchor="middle" fill="#1a1a1a"> 4</text>
<text x="569.44" y="317.33" font-size="7.6" text-anchor="middle" fill="#1a1a1a"> 6</text>
<text x="375.56" y="147.49" font-size="7.6" text-anchor="middle" fill="#1a1a1a" transform="rotate(-90 375.56 147.49)">10</text>
<text x="375.56" y="167.17" font-size="7.6" text-anchor="middle" fill="#1a1a1a" transform="rotate(-90 375.56 167.17)"> 8</text>
<text x="375.56" y="186.85" font-size="7.6" text-anchor="middle" fill="#1a1a1a" transform="rotate(-90 375.56 186.85)"> 6</text>
<text x="375.56" y="206.53" font-size="7.6" text-anchor="middle" fill="#1a1a1a" transform="rotate(-90 375.56 206.53)"> 4</text>
<text x="375.56" y="226.21" font-size="7.6" text-anchor="middle" fill="#1a1a1a" transform="rotate(-90 375.56 226.21)"> 2</text>
<text x="375.56" y="245.89" font-size="7.6" text-anchor="middle" fill="#1a1a1a" transform="rotate(-90 375.56 245.89)"> 0</text>
<text x="375.56" y="265.57" font-size="7.6" text-anchor="middle" fill="#1a1a1a" transform="rotate(-90 375.56 265.57)">−2</text>
<text x="375.56" y="285.25" font-size="7.6" text-anchor="middle" fill="#1a1a1a" transform="rotate(-90 375.56 285.25)">−4</text>
<text x="375.56" y="304.93" font-size="7.6" text-anchor="middle" fill="#1a1a1a" transform="rotate(-90 375.56 304.93)">−6</text>
<text x="580.04" y="306.83" font-size="7.6" text-anchor="start" fill="#1a1a1a">−8</text>
<text x="591.82" y="295.85" font-size="7.6" text-anchor="start" fill="#1a1a1a">−6</text>
<text x="603.59" y="284.86" font-size="7.6" text-anchor="start" fill="#1a1a1a">−4</text>
<text x="615.37" y="273.88" font-size="7.6" text-anchor="start" fill="#1a1a1a">−2</text>
<text x="627.15" y="262.9" font-size="7.6" text-anchor="start" fill="#1a1a1a"> 0</text>
<text x="638.92" y="251.91" font-size="7.6" text-anchor="start" fill="#1a1a1a"> 2</text>
<text x="650.7" y="240.93" font-size="7.6" text-anchor="start" fill="#1a1a1a"> 4</text>
<text x="476.5" y="339.23" font-size="9" text-anchor="middle" fill="#1a1a1a">PC1</text>
<text x="354.36" y="226.21" font-size="9" text-anchor="middle" fill="#1a1a1a" transform="rotate(-90 354.36 226.21)">PC3</text>
<text x="677.5" y="239.03" font-size="9" text-anchor="middle" fill="#1a1a1a" transform="rotate(-90 677.5 239.03)">PC2</text>
<line x1="49.05" y1="619.56" x2="118.78" y2="530" stroke="#c9c9c9" stroke-width="0.8"/>
<line x1="75.23" y1="619.56" x2="144.96" y2="530" stroke="#c9c9c9" stroke-width="0.8"/>
<line x1="101.41" y1="619.56" x2="171.14" y2="530" stroke="#c9c9c9" stroke-width="0.8"/>
<line x1="127.59" y1="619.56" x2="197.32" y2="530" stroke="#c9c9c9" stroke-width="0.8"/>
<line x1="153.78" y1="619.56" x2="223.51" y2="530" stroke="#c9c9c9" stroke-width="0.8"/>
<line x1="179.96" y1="619.56" x2="249.69" y2="530" stroke="#c9c9c9" stroke-width="0.8"/>
<line x1="206.14" y1="619.56" x2="275.87" y2="530" stroke="#c9c9c9" stroke-width="0.8"/>
<line x1="232.32" y1="619.56" x2="302.05" y2="530" stroke="#c9c9c9" stroke-width="0.8"/>
<line x1="49.05" y1="619.56" x2="232.32" y2="619.56" stroke="#c9c9c9" stroke-width="0.8"/>
<line x1="60.67" y1="604.63" x2="243.94" y2="604.63" stroke="#c9c9c9" stroke-width="0.8"/>
<line x1="72.29" y1="589.71" x2="255.56" y2="589.71" stroke="#c9c9c9" stroke-width="0.8"/>
<line x1="83.91" y1="574.78" x2="267.19" y2="574.78" stroke="#c9c9c9" stroke-width="0.8"/>
<line x1="95.54" y1="559.85" x2="278.81" y2="559.85" stroke="#c9c9c9" stroke-width="0.8"/>
<line x1="107.16" y1="544.93" x2="290.43" y2="544.93" stroke="#c9c9c9" stroke-width="0.8"/>
<line x1="118.78" y1="530" x2="302.05" y2="530" stroke="#c9c9c9" stroke-width="0.8"/>
<line x1="118.78" y1="395.98" x2="302.05" y2="395.98" stroke="#5e5a57" stroke-width="1.1"/>
<line x1="118.78" y1="395.98" x2="118.78" y2="530" stroke="#5e5a57" stroke-width="1.1"/>
<line x1="302.05" y1="395.98" x2="302.05" y2="530" stroke="#5e5a57" stroke-width="1.1"/>
<line x1="118.78" y1="530" x2="302.05" y2="530" stroke="#5e5a57" stroke-width="1.1"/>
<line x1="49.05" y1="619.56" x2="118.78" y2="530" stroke="#4a4643" stroke-width="1.05"/>
<circle cx="145.92" cy="472.11" r="2.25" fill="#2a8dd2"/>
<circle cx="146.28" cy="473.6" r="2.25" fill="#2a8dd2"/>
<circle cx="142.63" cy="477.28" r="2.25" fill="#e24f6e"/>
<circle cx="165.75" cy="484.44" r="2.25" fill="#2a8dd2"/>
<circle cx="138.42" cy="483.31" r="2.25" fill="#e24f6e"/>
<circle cx="137.11" cy="482.4" r="2.25" fill="#2a8dd2"/>
<circle cx="142.23" cy="459.87" r="2.25" fill="#2a8dd2"/>
<circle cx="142.05" cy="472.17" r="2.25" fill="#e24f6e"/>
<circle cx="154.35" cy="468.66" r="2.25" fill="#2a8dd2"/>
<circle cx="130.77" cy="468.78" r="2.25" fill="#2a8dd2"/>
<circle cx="128.81" cy="475.07" r="2.25" fill="#2a8dd2"/>
<circle cx="127.61" cy="479.72" r="2.25" fill="#2a8dd2"/>
<circle cx="135.37" cy="464.72" r="2.25" fill="#e24f6e"/>
<circle cx="122.97" cy="477.14" r="2.25" fill="#e24f6e"/>
<circle cx="128.85" cy="470.43" r="2.25" fill="#e24f6e"/>
<circle cx="151.03" cy="468.81" r="2.25" fill="#2a8dd2"/>
<circle cx="141.69" cy="468.67" r="2.25" fill="#2a8dd2"/>
<circle cx="133.84" cy="469.95" r="2.25" fill="#2a8dd2"/>
<circle cx="161.32" cy="468.2" r="2.25" fill="#2a8dd2"/>
<circle cx="156.04" cy="468.83" r="2.25" fill="#2a8dd2"/>
<circle cx="158.4" cy="469.05" r="2.25" fill="#2a8dd2"/>
<circle cx="149.69" cy="471.67" r="2.25" fill="#2a8dd2"/>
<circle cx="162.85" cy="470.17" r="2.25" fill="#2a8dd2"/>
<circle cx="165.56" cy="470.95" r="2.25" fill="#2a8dd2"/>
<circle cx="145.38" cy="483.08" r="2.25" fill="#2a8dd2"/>
<circle cx="157.57" cy="469.75" r="2.25" fill="#2a8dd2"/>
<circle cx="154.34" cy="474.55" r="2.25" fill="#e24f6e"/>
<circle cx="122.8" cy="480.83" r="2.25" fill="#2a8dd2"/>
<circle cx="121.03" cy="478.55" r="2.25" fill="#2a8dd2"/>
<circle cx="143.83" cy="458.83" r="2.25" fill="#2a8dd2"/>
<circle cx="140.38" cy="475.49" r="2.25" fill="#e24f6e"/>
<circle cx="161.64" cy="484.57" r="2.25" fill="#2a8dd2"/>
<circle cx="135.92" cy="473.42" r="2.25" fill="#2a8dd2"/>
<circle cx="132.08" cy="466.96" r="2.25" fill="#2a8dd2"/>
<circle cx="163.88" cy="474.6" r="2.25" fill="#2a8dd2"/>
<circle cx="160.85" cy="484.08" r="2.25" fill="#2a8dd2"/>
<circle cx="146.71" cy="468.87" r="2.25" fill="#2a8dd2"/>
<circle cx="144.16" cy="475.49" r="2.25" fill="#2a8dd2"/>
<circle cx="167.1" cy="474.62" r="2.25" fill="#2a8dd2"/>
<circle cx="134.85" cy="473.89" r="2.25" fill="#2a8dd2"/>
<circle cx="148.21" cy="467.29" r="2.25" fill="#2a8dd2"/>
<circle cx="160.53" cy="466.28" r="2.25" fill="#2a8dd2"/>
<circle cx="160.87" cy="475.75" r="2.25" fill="#2a8dd2"/>
<circle cx="167.93" cy="471.11" r="2.25" fill="#e24f6e"/>
<circle cx="152.17" cy="458.64" r="2.25" fill="#e24f6e"/>
<circle cx="121.93" cy="475.88" r="2.25" fill="#2a8dd2"/>
<circle cx="167.26" cy="474.77" r="2.25" fill="#e24f6e"/>
<circle cx="144.65" cy="478.33" r="2.25" fill="#2a8dd2"/>
<circle cx="133.82" cy="463.75" r="2.25" fill="#e24f6e"/>
<circle cx="123.18" cy="481.8" r="2.25" fill="#e24f6e"/>
<circle cx="140.2" cy="477.85" r="2.25" fill="#2a8dd2"/>
<circle cx="166.38" cy="478.71" r="2.25" fill="#2a8dd2"/>
<circle cx="121.12" cy="479.01" r="2.25" fill="#2a8dd2"/>
<circle cx="162.67" cy="466.35" r="2.25" fill="#2a8dd2"/>
<circle cx="149.12" cy="467.14" r="2.25" fill="#2a8dd2"/>
<circle cx="135.39" cy="483.6" r="2.25" fill="#2a8dd2"/>
<circle cx="160.71" cy="487.97" r="2.25" fill="#2a8dd2"/>
<circle cx="152.25" cy="464.14" r="2.25" fill="#2a8dd2"/>
<circle cx="156.92" cy="470.64" r="2.25" fill="#2a8dd2"/>
<circle cx="124.2" cy="483.2" r="2.25" fill="#2a8dd2"/>
<circle cx="168.17" cy="473.68" r="2.25" fill="#2a8dd2"/>
<circle cx="136.65" cy="480.74" r="2.25" fill="#2a8dd2"/>
<circle cx="143.94" cy="484.32" r="2.25" fill="#2a8dd2"/>
<circle cx="146.92" cy="459.89" r="2.25" fill="#2a8dd2"/>
<circle cx="153.09" cy="458.68" r="2.25" fill="#2a8dd2"/>
<circle cx="142.06" cy="464.89" r="2.25" fill="#2a8dd2"/>
<circle cx="127.63" cy="481.91" r="2.25" fill="#2a8dd2"/>
<circle cx="123.2" cy="474.47" r="2.25" fill="#e24f6e"/>
<circle cx="149.85" cy="471.63" r="2.25" fill="#2a8dd2"/>
<circle cx="145.46" cy="460.16" r="2.25" fill="#2a8dd2"/>
<circle cx="125.13" cy="475.31" r="2.25" fill="#2a8dd2"/>
<circle cx="138.07" cy="477.99" r="2.25" fill="#2a8dd2"/>
<circle cx="135.78" cy="483.63" r="2.25" fill="#e24f6e"/>
<circle cx="143.7" cy="461.79" r="2.25" fill="#2a8dd2"/>
<circle cx="144.54" cy="473.98" r="2.25" fill="#2a8dd2"/>
<circle cx="143.03" cy="462.27" r="2.25" fill="#2a8dd2"/>
<circle cx="145.11" cy="468.66" r="2.25" fill="#2a8dd2"/>
<circle cx="139.62" cy="463.51" r="2.25" fill="#2a8dd2"/>
<circle cx="144.85" cy="485.15" r="2.25" fill="#2a8dd2"/>
<circle cx="168.38" cy="472.48" r="2.25" fill="#e24f6e"/>
<circle cx="148.5" cy="478.8" r="2.25" fill="#2a8dd2"/>
<circle cx="158.08" cy="461.94" r="2.25" fill="#2a8dd2"/>
<circle cx="145.72" cy="466.3" r="2.25" fill="#e24f6e"/>
<circle cx="122.59" cy="475.32" r="2.25" fill="#2a8dd2"/>
<circle cx="149.83" cy="481.8" r="2.25" fill="#2a8dd2"/>
<circle cx="154.98" cy="482.76" r="2.25" fill="#2a8dd2"/>
<circle cx="161.3" cy="471.65" r="2.25" fill="#e24f6e"/>
<circle cx="140.06" cy="469.92" r="2.25" fill="#2a8dd2"/>
<circle cx="131.15" cy="480.21" r="2.25" fill="#2a8dd2"/>
<circle cx="129.81" cy="467.53" r="2.25" fill="#e24f6e"/>
<circle cx="143.67" cy="472.77" r="2.25" fill="#e24f6e"/>
<circle cx="166.5" cy="480.77" r="2.25" fill="#2a8dd2"/>
<circle cx="128.71" cy="476.79" r="2.25" fill="#e24f6e"/>
<circle cx="156.34" cy="468.1" r="2.25" fill="#2a8dd2"/>
<circle cx="169.57" cy="478.29" r="2.25" fill="#2a8dd2"/>
<circle cx="125.29" cy="483.2" r="2.25" fill="#e24f6e"/>
<circle cx="166.33" cy="480.57" r="2.25" fill="#e24f6e"/>
<circle cx="160.86" cy="475.7" r="2.25" fill="#2a8dd2"/>
<circle cx="162.08" cy="481.81" r="2.25" fill="#e24f6e"/>
<circle cx="160.07" cy="465.04" r="2.25" fill="#e24f6e"/>
<circle cx="142.51" cy="464.55" r="2.25" fill="#2a8dd2"/>
<circle cx="166.5" cy="478.69" r="2.25" fill="#2a8dd2"/>
<circle cx="138.99" cy="481.79" r="2.25" fill="#e24f6e"/>
<circle cx="154.5" cy="486.76" r="2.25" fill="#e24f6e"/>
<circle cx="152.88" cy="483.44" r="2.25" fill="#2a8dd2"/>
<circle cx="149.81" cy="483.44" r="2.25" fill="#e24f6e"/>
<circle cx="161.4" cy="470.29" r="2.25" fill="#2a8dd2"/>
<circle cx="142.48" cy="467.67" r="2.25" fill="#2a8dd2"/>
<circle cx="136.95" cy="483.7" r="2.25" fill="#2a8dd2"/>
<circle cx="132.54" cy="479.19" r="2.25" fill="#2a8dd2"/>
<circle cx="153.33" cy="482.52" r="2.25" fill="#2a8dd2"/>
<circle cx="137.41" cy="464.16" r="2.25" fill="#e24f6e"/>
<circle cx="150.63" cy="485.26" r="2.25" fill="#2a8dd2"/>
<circle cx="126.75" cy="473.71" r="2.25" fill="#2a8dd2"/>
<circle cx="142.33" cy="482.6" r="2.25" fill="#2a8dd2"/>
<circle cx="147.56" cy="484.26" r="2.25" fill="#2a8dd2"/>
<circle cx="165.74" cy="478.09" r="2.25" fill="#2a8dd2"/>
<circle cx="151.36" cy="471.09" r="2.25" fill="#e24f6e"/>
<circle cx="137.39" cy="477.93" r="2.25" fill="#2a8dd2"/>
<circle cx="138.13" cy="473.55" r="2.25" fill="#2a8dd2"/>
<circle cx="166.45" cy="472.79" r="2.25" fill="#2a8dd2"/>
<circle cx="162.6" cy="478.63" r="2.25" fill="#2a8dd2"/>
<circle cx="141.96" cy="480.76" r="2.25" fill="#e24f6e"/>
<circle cx="156.95" cy="480.72" r="2.25" fill="#2a8dd2"/>
<circle cx="125.8" cy="475.61" r="2.25" fill="#2a8dd2"/>
<circle cx="157.94" cy="477.31" r="2.25" fill="#2a8dd2"/>
<circle cx="158.74" cy="466.27" r="2.25" fill="#2a8dd2"/>
<circle cx="152.68" cy="482.45" r="2.25" fill="#2a8dd2"/>
<circle cx="155.93" cy="478.86" r="2.25" fill="#2a8dd2"/>
<circle cx="126.73" cy="475.22" r="2.25" fill="#e24f6e"/>
<circle cx="160.4" cy="468.04" r="2.25" fill="#2a8dd2"/>
<circle cx="145.6" cy="484.74" r="2.25" fill="#2a8dd2"/>
<circle cx="157.45" cy="462.48" r="2.25" fill="#2a8dd2"/>
<circle cx="128.62" cy="467.21" r="2.25" fill="#2a8dd2"/>
<circle cx="139.1" cy="469.24" r="2.25" fill="#e24f6e"/>
<circle cx="166.54" cy="471.28" r="2.25" fill="#e24f6e"/>
<circle cx="152.06" cy="481.63" r="2.25" fill="#2a8dd2"/>
<circle cx="126.21" cy="480.95" r="2.25" fill="#2a8dd2"/>
<circle cx="147.88" cy="478.22" r="2.25" fill="#2a8dd2"/>
<circle cx="132.78" cy="468.53" r="2.25" fill="#e24f6e"/>
<circle cx="146.31" cy="466.18" r="2.25" fill="#2a8dd2"/>
<circle cx="131.94" cy="481.4" r="2.25" fill="#2a8dd2"/>
<circle cx="162.16" cy="474.94" r="2.25" fill="#2a8dd2"/>
<circle cx="147.34" cy="480.84" r="2.25" fill="#2a8dd2"/>
<circle cx="140.1" cy="482.54" r="2.25" fill="#2a8dd2"/>
<circle cx="134.46" cy="477.41" r="2.25" fill="#e24f6e"/>
<circle cx="151.89" cy="478.9" r="2.25" fill="#e24f6e"/>
<circle cx="157.67" cy="467.86" r="2.25" fill="#2a8dd2"/>
<circle cx="161.05" cy="468.12" r="2.25" fill="#2a8dd2"/>
<circle cx="164.56" cy="473.85" r="2.25" fill="#2a8dd2"/>
<circle cx="153.78" cy="485.5" r="2.25" fill="#2a8dd2"/>
<circle cx="140.12" cy="472.92" r="2.25" fill="#e24f6e"/>
<circle cx="153.69" cy="475.3" r="2.25" fill="#2a8dd2"/>
<circle cx="148.68" cy="465.73" r="2.25" fill="#e24f6e"/>
<circle cx="160.13" cy="483.51" r="2.25" fill="#2a8dd2"/>
<circle cx="153.89" cy="480.85" r="2.25" fill="#2a8dd2"/>
<circle cx="165.98" cy="485.41" r="2.25" fill="#2a8dd2"/>
<circle cx="161.86" cy="477.54" r="2.25" fill="#e24f6e"/>
<circle cx="125.1" cy="479.28" r="2.25" fill="#2a8dd2"/>
<circle cx="150.74" cy="465.76" r="2.25" fill="#2a8dd2"/>
<circle cx="150.26" cy="483.06" r="2.25" fill="#2a8dd2"/>
<circle cx="123.1" cy="478.39" r="2.25" fill="#e24f6e"/>
<circle cx="160.85" cy="468.43" r="2.25" fill="#2a8dd2"/>
<circle cx="121.95" cy="483.52" r="2.25" fill="#2a8dd2"/>
<circle cx="147.68" cy="482.53" r="2.25" fill="#2a8dd2"/>
<circle cx="130.06" cy="476.93" r="2.25" fill="#2a8dd2"/>
<circle cx="135.74" cy="475.01" r="2.25" fill="#2a8dd2"/>
<circle cx="162.84" cy="482.57" r="2.25" fill="#2a8dd2"/>
<circle cx="119.73" cy="481.61" r="2.25" fill="#2a8dd2"/>
<circle cx="145" cy="470.45" r="2.25" fill="#2a8dd2"/>
<circle cx="151.68" cy="479.92" r="2.25" fill="#2a8dd2"/>
<circle cx="139.43" cy="473.23" r="2.25" fill="#2a8dd2"/>
<circle cx="143.57" cy="461.31" r="2.25" fill="#2a8dd2"/>
<circle cx="154.49" cy="479.41" r="2.25" fill="#2a8dd2"/>
<circle cx="136.31" cy="463.08" r="2.25" fill="#2a8dd2"/>
<circle cx="157.33" cy="473.36" r="2.25" fill="#2a8dd2"/>
<circle cx="128.64" cy="479.27" r="2.25" fill="#2a8dd2"/>
<circle cx="132.26" cy="474.75" r="2.25" fill="#2a8dd2"/>
<circle cx="169.96" cy="480.65" r="2.25" fill="#e24f6e"/>
<circle cx="167.13" cy="479.86" r="2.25" fill="#2a8dd2"/>
<circle cx="161.25" cy="488.58" r="2.25" fill="#2a8dd2"/>
<circle cx="177.27" cy="505.1" r="2.25" fill="#2a8dd2"/>
<circle cx="165.28" cy="493.37" r="2.25" fill="#2a8dd2"/>
<circle cx="163.5" cy="493.37" r="2.25" fill="#e24f6e"/>
<circle cx="176.09" cy="496.56" r="2.25" fill="#2a8dd2"/>
<circle cx="162.13" cy="486.92" r="2.25" fill="#e24f6e"/>
<circle cx="169.43" cy="513.7" r="2.25" fill="#e24f6e"/>
<circle cx="175.89" cy="497.24" r="2.25" fill="#e24f6e"/>
<circle cx="162.57" cy="485.48" r="2.25" fill="#2a8dd2"/>
<circle cx="170.16" cy="488.7" r="2.25" fill="#2a8dd2"/>
<circle cx="174.65" cy="494.29" r="2.25" fill="#e24f6e"/>
<circle cx="160.26" cy="488.85" r="2.25" fill="#2a8dd2"/>
<circle cx="169.27" cy="483.38" r="2.25" fill="#e24f6e"/>
<circle cx="170.68" cy="484.27" r="2.25" fill="#2a8dd2"/>
<circle cx="172.49" cy="510.33" r="2.25" fill="#2a8dd2"/>
<circle cx="172.79" cy="488.58" r="2.25" fill="#2a8dd2"/>
<circle cx="178.12" cy="494.24" r="2.25" fill="#2a8dd2"/>
<circle cx="171.82" cy="486.04" r="2.25" fill="#2a8dd2"/>
<circle cx="169.13" cy="500.74" r="2.25" fill="#2a8dd2"/>
<circle cx="174.14" cy="496.07" r="2.25" fill="#2a8dd2"/>
<circle cx="169.41" cy="494.81" r="2.25" fill="#e24f6e"/>
<circle cx="174.27" cy="489.67" r="2.25" fill="#2a8dd2"/>
<circle cx="173.84" cy="497.09" r="2.25" fill="#2a8dd2"/>
<circle cx="178.18" cy="501.17" r="2.25" fill="#2a8dd2"/>
<circle cx="164.57" cy="494.55" r="2.25" fill="#e24f6e"/>
<circle cx="152.61" cy="514.03" r="2.25" fill="#e24f6e"/>
<circle cx="107.72" cy="515.73" r="2.25" fill="#e24f6e"/>
<circle cx="110.94" cy="492.4" r="2.25" fill="#2a8dd2"/>
<circle cx="147.65" cy="490.17" r="2.25" fill="#e24f6e"/>
<circle cx="144.15" cy="493.91" r="2.25" fill="#e24f6e"/>
<circle cx="103.5" cy="508.55" r="2.25" fill="#2a8dd2"/>
<circle cx="154.66" cy="510.52" r="2.25" fill="#e24f6e"/>
<circle cx="128.73" cy="513.39" r="2.25" fill="#e24f6e"/>
<circle cx="150.8" cy="488.99" r="2.25" fill="#2a8dd2"/>
<circle cx="131.93" cy="498.59" r="2.25" fill="#e24f6e"/>
<circle cx="151.7" cy="506.11" r="2.25" fill="#2a8dd2"/>
<circle cx="139.7" cy="494.82" r="2.25" fill="#e24f6e"/>
<circle cx="131.98" cy="501.36" r="2.25" fill="#2a8dd2"/>
<circle cx="154.43" cy="490.06" r="2.25" fill="#e24f6e"/>
<circle cx="113.89" cy="519.81" r="2.25" fill="#2a8dd2"/>
<circle cx="142.85" cy="512.44" r="2.25" fill="#e24f6e"/>
<circle cx="125.25" cy="503.83" r="2.25" fill="#e24f6e"/>
<circle cx="124.22" cy="517.29" r="2.25" fill="#e24f6e"/>
<circle cx="113.73" cy="501.18" r="2.25" fill="#e24f6e"/>
<circle cx="98.44" cy="505.43" r="2.25" fill="#e24f6e"/>
<circle cx="111.77" cy="496.74" r="2.25" fill="#e24f6e"/>
<circle cx="115.82" cy="520.17" r="2.25" fill="#e24f6e"/>
<circle cx="130.93" cy="490.22" r="2.25" fill="#e24f6e"/>
<circle cx="114.71" cy="513.71" r="2.25" fill="#e24f6e"/>
<circle cx="103.37" cy="509.39" r="2.25" fill="#e24f6e"/>
<circle cx="112.75" cy="526.29" r="2.25" fill="#2a8dd2"/>
<circle cx="110.73" cy="517.71" r="2.25" fill="#e24f6e"/>
<circle cx="104.5" cy="505.21" r="2.25" fill="#e24f6e"/>
<circle cx="147.36" cy="496.68" r="2.25" fill="#e24f6e"/>
<circle cx="106.94" cy="497.18" r="2.25" fill="#e24f6e"/>
<circle cx="139.2" cy="512.1" r="2.25" fill="#e24f6e"/>
<circle cx="135.82" cy="516.77" r="2.25" fill="#e24f6e"/>
<circle cx="142.48" cy="497.81" r="2.25" fill="#e24f6e"/>
<circle cx="113.93" cy="503.9" r="2.25" fill="#e24f6e"/>
<circle cx="124.46" cy="518.27" r="2.25" fill="#2a8dd2"/>
<circle cx="160.67" cy="500.91" r="2.25" fill="#e24f6e"/>
<circle cx="108.21" cy="523.98" r="2.25" fill="#e24f6e"/>
<circle cx="141.23" cy="497.99" r="2.25" fill="#2a8dd2"/>
<circle cx="103.14" cy="515.17" r="2.25" fill="#e24f6e"/>
<circle cx="140.53" cy="493.63" r="2.25" fill="#2a8dd2"/>
<circle cx="119.86" cy="514.85" r="2.25" fill="#e24f6e"/>
<circle cx="118.42" cy="518.02" r="2.25" fill="#2a8dd2"/>
<circle cx="149.95" cy="496.82" r="2.25" fill="#e24f6e"/>
<circle cx="130.26" cy="490.52" r="2.25" fill="#e24f6e"/>
<circle cx="150.54" cy="498.34" r="2.25" fill="#e24f6e"/>
<circle cx="148.22" cy="495.58" r="2.25" fill="#2a8dd2"/>
<circle cx="107.67" cy="502.79" r="2.25" fill="#e24f6e"/>
<circle cx="139.06" cy="506.73" r="2.25" fill="#e24f6e"/>
<circle cx="153.55" cy="496.07" r="2.25" fill="#2a8dd2"/>
<circle cx="123.97" cy="490.71" r="2.25" fill="#e24f6e"/>
<circle cx="144.27" cy="489.72" r="2.25" fill="#2a8dd2"/>
<circle cx="127.03" cy="493.32" r="2.25" fill="#e24f6e"/>
<circle cx="124.11" cy="490.82" r="2.25" fill="#2a8dd2"/>
<circle cx="118.23" cy="506.61" r="2.25" fill="#e24f6e"/>
<circle cx="132.62" cy="488.72" r="2.25" fill="#e24f6e"/>
<circle cx="146.7" cy="510.83" r="2.25" fill="#e24f6e"/>
<circle cx="130.4" cy="496.29" r="2.25" fill="#2a8dd2"/>
<circle cx="155.64" cy="495.06" r="2.25" fill="#2a8dd2"/>
<circle cx="111.11" cy="527.08" r="2.25" fill="#e24f6e"/>
<circle cx="145.74" cy="488.85" r="2.25" fill="#e24f6e"/>
<circle cx="115.01" cy="494.74" r="2.25" fill="#e24f6e"/>
<circle cx="118.24" cy="490.89" r="2.25" fill="#e24f6e"/>
<circle cx="127.18" cy="493.6" r="2.25" fill="#2a8dd2"/>
<circle cx="139.92" cy="508.66" r="2.25" fill="#2a8dd2"/>
<circle cx="126.34" cy="518.82" r="2.25" fill="#e24f6e"/>
<circle cx="108.79" cy="507.95" r="2.25" fill="#e24f6e"/>
<circle cx="139.78" cy="492.03" r="2.25" fill="#e24f6e"/>
<circle cx="155.1" cy="502.05" r="2.25" fill="#e24f6e"/>
<circle cx="94.07" cy="505.26" r="2.25" fill="#2a8dd2"/>
<circle cx="105.63" cy="519.2" r="2.25" fill="#e24f6e"/>
<circle cx="133.09" cy="499.46" r="2.25" fill="#e24f6e"/>
<circle cx="110.84" cy="501.79" r="2.25" fill="#e24f6e"/>
<circle cx="133.37" cy="502.26" r="2.25" fill="#e24f6e"/>
<circle cx="123.07" cy="493.71" r="2.25" fill="#e24f6e"/>
<circle cx="117.88" cy="494.01" r="2.25" fill="#e24f6e"/>
<circle cx="113.64" cy="499.62" r="2.25" fill="#e24f6e"/>
<circle cx="124.56" cy="487.71" r="2.25" fill="#e24f6e"/>
<circle cx="108.61" cy="512.67" r="2.25" fill="#2a8dd2"/>
<circle cx="122.64" cy="494.99" r="2.25" fill="#e24f6e"/>
<circle cx="121.2" cy="509.06" r="2.25" fill="#2a8dd2"/>
<circle cx="111.07" cy="490.74" r="2.25" fill="#e24f6e"/>
<circle cx="108.2" cy="491.25" r="2.25" fill="#e24f6e"/>
<circle cx="121.81" cy="514.48" r="2.25" fill="#2a8dd2"/>
<circle cx="110.88" cy="492.19" r="2.25" fill="#e24f6e"/>
<circle cx="117.75" cy="499.68" r="2.25" fill="#e24f6e"/>
<circle cx="124.34" cy="513.67" r="2.25" fill="#e24f6e"/>
<circle cx="111.97" cy="516.2" r="2.25" fill="#e24f6e"/>
<circle cx="112.62" cy="495.96" r="2.25" fill="#e24f6e"/>
<circle cx="130.92" cy="500.02" r="2.25" fill="#e24f6e"/>
<circle cx="130.24" cy="512.02" r="2.25" fill="#e24f6e"/>
<circle cx="119.65" cy="490.61" r="2.25" fill="#e24f6e"/>
<circle cx="124.23" cy="505.18" r="2.25" fill="#e24f6e"/>
<circle cx="131.81" cy="516.83" r="2.25" fill="#2a8dd2"/>
<circle cx="121.46" cy="492.63" r="2.25" fill="#e24f6e"/>
<circle cx="111.55" cy="494.33" r="2.25" fill="#e24f6e"/>
<circle cx="120" cy="508" r="2.25" fill="#2a8dd2"/>
<circle cx="126.85" cy="506.35" r="2.25" fill="#e24f6e"/>
<circle cx="124.67" cy="511.79" r="2.25" fill="#2a8dd2"/>
<circle cx="118.47" cy="508.02" r="2.25" fill="#e24f6e"/>
<circle cx="123.9" cy="492.59" r="2.25" fill="#e24f6e"/>
<circle cx="128.25" cy="494.22" r="2.25" fill="#e24f6e"/>
<circle cx="133.67" cy="493.42" r="2.25" fill="#e24f6e"/>
<circle cx="133.79" cy="514.9" r="2.25" fill="#e24f6e"/>
<circle cx="126.66" cy="498.15" r="2.25" fill="#e24f6e"/>
<circle cx="127.66" cy="490.95" r="2.25" fill="#e24f6e"/>
<circle cx="110.27" cy="495.25" r="2.25" fill="#2a8dd2"/>
<circle cx="107.78" cy="499.59" r="2.25" fill="#e24f6e"/>
<circle cx="105.95" cy="505.05" r="2.25" fill="#e24f6e"/>
<circle cx="121.67" cy="498.03" r="2.25" fill="#e24f6e"/>
<circle cx="117.27" cy="492.44" r="2.25" fill="#e24f6e"/>
<circle cx="108.57" cy="498.46" r="2.25" fill="#e24f6e"/>
<circle cx="127.65" cy="512.9" r="2.25" fill="#e24f6e"/>
<circle cx="123.49" cy="508.85" r="2.25" fill="#e24f6e"/>
<circle cx="109.68" cy="510.75" r="2.25" fill="#e24f6e"/>
<circle cx="111.56" cy="512.47" r="2.25" fill="#e24f6e"/>
<circle cx="130.26" cy="514.13" r="2.25" fill="#e24f6e"/>
<circle cx="120.35" cy="509.49" r="2.25" fill="#e24f6e"/>
<circle cx="108.96" cy="508.57" r="2.25" fill="#2a8dd2"/>
<circle cx="110.74" cy="495.22" r="2.25" fill="#e24f6e"/>
<circle cx="134.6" cy="487.6" r="2.25" fill="#2a8dd2"/>
<circle cx="132.94" cy="517.07" r="2.25" fill="#2a8dd2"/>
<circle cx="114.06" cy="503.19" r="2.25" fill="#e24f6e"/>
<circle cx="116.65" cy="501.84" r="2.25" fill="#e24f6e"/>
<circle cx="123.16" cy="508.6" r="2.25" fill="#e24f6e"/>
<circle cx="128.44" cy="509.59" r="2.25" fill="#e24f6e"/>
<circle cx="118.99" cy="492.84" r="2.25" fill="#e24f6e"/>
<circle cx="121.15" cy="488.59" r="2.25" fill="#2a8dd2"/>
<circle cx="125.32" cy="498.94" r="2.25" fill="#e24f6e"/>
<circle cx="110.73" cy="511.71" r="2.25" fill="#e24f6e"/>
<circle cx="106.47" cy="505.17" r="2.25" fill="#2a8dd2"/>
<circle cx="125.79" cy="511.92" r="2.25" fill="#e24f6e"/>
<circle cx="110.78" cy="489.89" r="2.25" fill="#e24f6e"/>
<circle cx="121.3" cy="491.28" r="2.25" fill="#2a8dd2"/>
<circle cx="121.85" cy="490.34" r="2.25" fill="#e24f6e"/>
<circle cx="111.09" cy="495.01" r="2.25" fill="#e24f6e"/>
<circle cx="120.29" cy="509.46" r="2.25" fill="#2a8dd2"/>
<circle cx="126.32" cy="493.85" r="2.25" fill="#e24f6e"/>
<circle cx="123.65" cy="508.43" r="2.25" fill="#e24f6e"/>
<circle cx="131.91" cy="493.34" r="2.25" fill="#e24f6e"/>
<circle cx="124.37" cy="495.08" r="2.25" fill="#2a8dd2"/>
<circle cx="110.63" cy="510.91" r="2.25" fill="#e24f6e"/>
<circle cx="126.06" cy="516.72" r="2.25" fill="#e24f6e"/>
<circle cx="113.25" cy="496.78" r="2.25" fill="#e24f6e"/>
<circle cx="105.25" cy="505.89" r="2.25" fill="#2a8dd2"/>
<circle cx="105.05" cy="502.93" r="2.25" fill="#2a8dd2"/>
<circle cx="132.85" cy="514.2" r="2.25" fill="#e24f6e"/>
<circle cx="109.73" cy="490.71" r="2.25" fill="#e24f6e"/>
<circle cx="119.92" cy="498.25" r="2.25" fill="#e24f6e"/>
<circle cx="120.17" cy="511.04" r="2.25" fill="#2a8dd2"/>
<circle cx="105.71" cy="499" r="2.25" fill="#e24f6e"/>
<circle cx="111.46" cy="507.72" r="2.25" fill="#e24f6e"/>
<circle cx="113.52" cy="501.78" r="2.25" fill="#e24f6e"/>
<circle cx="127.77" cy="498.52" r="2.25" fill="#e24f6e"/>
<circle cx="132.72" cy="515.95" r="2.25" fill="#e24f6e"/>
<circle cx="106.81" cy="501.13" r="2.25" fill="#e24f6e"/>
<circle cx="134.41" cy="515.2" r="2.25" fill="#2a8dd2"/>
<circle cx="118.17" cy="506.2" r="2.25" fill="#e24f6e"/>
<circle cx="105.66" cy="510.27" r="2.25" fill="#e24f6e"/>
<circle cx="117.28" cy="489.66" r="2.25" fill="#e24f6e"/>
<circle cx="105.11" cy="495.93" r="2.25" fill="#e24f6e"/>
<circle cx="105.73" cy="492.08" r="2.25" fill="#e24f6e"/>
<circle cx="129.74" cy="492.24" r="2.25" fill="#2a8dd2"/>
<circle cx="127.6" cy="500.2" r="2.25" fill="#e24f6e"/>
<circle cx="107.38" cy="494.53" r="2.25" fill="#e24f6e"/>
<circle cx="107.18" cy="495.05" r="2.25" fill="#e24f6e"/>
<circle cx="131.59" cy="515.03" r="2.25" fill="#e24f6e"/>
<circle cx="133.63" cy="505.73" r="2.25" fill="#e24f6e"/>
<circle cx="118.15" cy="509.2" r="2.25" fill="#e24f6e"/>
<circle cx="107.58" cy="493" r="2.25" fill="#e24f6e"/>
<circle cx="106.87" cy="512.22" r="2.25" fill="#e24f6e"/>
<circle cx="111.31" cy="494.91" r="2.25" fill="#e24f6e"/>
<circle cx="134.7" cy="491.6" r="2.25" fill="#e24f6e"/>
<circle cx="113.62" cy="492.36" r="2.25" fill="#e24f6e"/>
<circle cx="114.26" cy="492.81" r="2.25" fill="#e24f6e"/>
<circle cx="129.38" cy="513.75" r="2.25" fill="#e24f6e"/>
<circle cx="122.61" cy="514.88" r="2.25" fill="#e24f6e"/>
<circle cx="113.8" cy="513.3" r="2.25" fill="#e24f6e"/>
<circle cx="111.88" cy="498.34" r="2.25" fill="#e24f6e"/>
<circle cx="114.62" cy="498.73" r="2.25" fill="#2a8dd2"/>
<circle cx="110.66" cy="515.2" r="2.25" fill="#e24f6e"/>
<circle cx="153.89" cy="494.58" r="2.25" fill="#e24f6e"/>
<circle cx="153.2" cy="510.4" r="2.25" fill="#e24f6e"/>
<circle cx="141.33" cy="507.33" r="2.25" fill="#2a8dd2"/>
<circle cx="155.99" cy="491.14" r="2.25" fill="#e24f6e"/>
<circle cx="143.41" cy="512.44" r="2.25" fill="#2a8dd2"/>
<circle cx="151.92" cy="507.23" r="2.25" fill="#2a8dd2"/>
<circle cx="156.75" cy="503.98" r="2.25" fill="#e24f6e"/>
<circle cx="143.48" cy="511.27" r="2.25" fill="#e24f6e"/>
<circle cx="156.75" cy="493.64" r="2.25" fill="#2a8dd2"/>
<circle cx="141.23" cy="490.11" r="2.25" fill="#2a8dd2"/>
<circle cx="135.65" cy="511.69" r="2.25" fill="#2a8dd2"/>
<circle cx="136.77" cy="489.1" r="2.25" fill="#e24f6e"/>
<circle cx="139.96" cy="501.32" r="2.25" fill="#e24f6e"/>
<circle cx="142.75" cy="506.6" r="2.25" fill="#e24f6e"/>
<circle cx="146.76" cy="514.89" r="2.25" fill="#e24f6e"/>
<circle cx="142.79" cy="514.09" r="2.25" fill="#e24f6e"/>
<circle cx="137.65" cy="505.21" r="2.25" fill="#e24f6e"/>
<circle cx="147.96" cy="502" r="2.25" fill="#e24f6e"/>
<circle cx="157.01" cy="507.63" r="2.25" fill="#2a8dd2"/>
<circle cx="144.06" cy="498.26" r="2.25" fill="#e24f6e"/>
<circle cx="152.4" cy="490.87" r="2.25" fill="#e24f6e"/>
<circle cx="135.87" cy="505.32" r="2.25" fill="#e24f6e"/>
<circle cx="152.94" cy="500.31" r="2.25" fill="#2a8dd2"/>
<circle cx="148.09" cy="512.43" r="2.25" fill="#e24f6e"/>
<circle cx="143.92" cy="493.89" r="2.25" fill="#e24f6e"/>
<circle cx="155.04" cy="493.79" r="2.25" fill="#e24f6e"/>
<circle cx="159.81" cy="500.44" r="2.25" fill="#2a8dd2"/>
<circle cx="140.04" cy="496.35" r="2.25" fill="#2a8dd2"/>
<circle cx="153.31" cy="492.79" r="2.25" fill="#e24f6e"/>
<circle cx="147.51" cy="507.72" r="2.25" fill="#2a8dd2"/>
<circle cx="149.03" cy="511.65" r="2.25" fill="#2a8dd2"/>
<circle cx="157.75" cy="504.09" r="2.25" fill="#e24f6e"/>
<circle cx="156.71" cy="498.21" r="2.25" fill="#e24f6e"/>
<circle cx="140.18" cy="487.73" r="2.25" fill="#e24f6e"/>
<circle cx="158.87" cy="502.83" r="2.25" fill="#e24f6e"/>
<circle cx="149" cy="491.45" r="2.25" fill="#e24f6e"/>
<circle cx="155.09" cy="500.14" r="2.25" fill="#e24f6e"/>
<circle cx="141.48" cy="495.56" r="2.25" fill="#e24f6e"/>
<circle cx="147.83" cy="501.52" r="2.25" fill="#2a8dd2"/>
<circle cx="135.14" cy="497.55" r="2.25" fill="#e24f6e"/>
<circle cx="153.71" cy="494.35" r="2.25" fill="#2a8dd2"/>
<circle cx="147.92" cy="492.44" r="2.25" fill="#e24f6e"/>
<circle cx="149.64" cy="509.34" r="2.25" fill="#e24f6e"/>
<circle cx="152.8" cy="509.03" r="2.25" fill="#2a8dd2"/>
<circle cx="136.31" cy="516.27" r="2.25" fill="#e24f6e"/>
<circle cx="137.16" cy="489.16" r="2.25" fill="#e24f6e"/>
<circle cx="151.94" cy="491.41" r="2.25" fill="#e24f6e"/>
<circle cx="143.4" cy="510.76" r="2.25" fill="#2a8dd2"/>
<circle cx="139.97" cy="492" r="2.25" fill="#e24f6e"/>
<circle cx="150.46" cy="496.4" r="2.25" fill="#2a8dd2"/>
<circle cx="140.46" cy="489.63" r="2.25" fill="#2a8dd2"/>
<circle cx="142.89" cy="502.64" r="2.25" fill="#2a8dd2"/>
<circle cx="146.99" cy="500.63" r="2.25" fill="#e24f6e"/>
<circle cx="146.79" cy="493.14" r="2.25" fill="#e24f6e"/>
<circle cx="138.62" cy="492.24" r="2.25" fill="#2a8dd2"/>
<circle cx="145.08" cy="497.98" r="2.25" fill="#e24f6e"/>
<circle cx="143.8" cy="508.41" r="2.25" fill="#2a8dd2"/>
<circle cx="138.81" cy="513.79" r="2.25" fill="#e24f6e"/>
<circle cx="135.16" cy="513.33" r="2.25" fill="#e24f6e"/>
<circle cx="143.86" cy="506.53" r="2.25" fill="#e24f6e"/>
<circle cx="145.04" cy="500.41" r="2.25" fill="#2a8dd2"/>
<circle cx="148.86" cy="507.54" r="2.25" fill="#e24f6e"/>
<circle cx="144.15" cy="513.4" r="2.25" fill="#e24f6e"/>
<circle cx="149.75" cy="507.99" r="2.25" fill="#2a8dd2"/>
<circle cx="158.62" cy="504.03" r="2.25" fill="#e24f6e"/>
<circle cx="139.56" cy="490.58" r="2.25" fill="#e24f6e"/>
<circle cx="143.08" cy="501.87" r="2.25" fill="#e24f6e"/>
<circle cx="144.09" cy="514.75" r="2.25" fill="#2a8dd2"/>
<circle cx="150.98" cy="501.78" r="2.25" fill="#2a8dd2"/>
<circle cx="144.68" cy="505.88" r="2.25" fill="#e24f6e"/>
<circle cx="141.52" cy="498.49" r="2.25" fill="#2a8dd2"/>
<circle cx="144.07" cy="515.3" r="2.25" fill="#e24f6e"/>
<circle cx="141.9" cy="497.3" r="2.25" fill="#e24f6e"/>
<circle cx="139.01" cy="508.39" r="2.25" fill="#2a8dd2"/>
<circle cx="139.83" cy="488.84" r="2.25" fill="#e24f6e"/>
<circle cx="138.67" cy="494.07" r="2.25" fill="#2a8dd2"/>
<circle cx="141.6" cy="509.74" r="2.25" fill="#e24f6e"/>
<circle cx="137.24" cy="515.68" r="2.25" fill="#e24f6e"/>
<circle cx="139.82" cy="510.19" r="2.25" fill="#e24f6e"/>
<circle cx="144.64" cy="489.89" r="2.25" fill="#e24f6e"/>
<circle cx="231.2" cy="441.1" r="2.25" fill="#2a8dd2"/>
<circle cx="261.3" cy="480.6" r="2.25" fill="#2a8dd2"/>
<circle cx="168.9" cy="436.4" r="2.25" fill="#e24f6e"/>
<circle cx="161.3" cy="436.9" r="2.25" fill="#2a8dd2"/>
<circle cx="186.6" cy="461.1" r="2.25" fill="#2a8dd2"/>
<circle cx="187.5" cy="476.4" r="2.25" fill="#e24f6e"/>
<circle cx="160.7" cy="539.4" r="2.25" fill="#e24f6e"/>
<circle cx="177.9" cy="553" r="2.25" fill="#e24f6e"/>
<circle cx="169.2" cy="560.6" r="2.25" fill="#e24f6e"/>
<circle cx="185" cy="579.7" r="2.25" fill="#e24f6e"/>
<circle cx="186.6" cy="523.4" r="2.25" fill="#e24f6e"/>
<circle cx="161.3" cy="436.7" r="2.25" fill="#2a8dd2"/>
<circle cx="157.1" cy="442.6" r="2.25" fill="#2a8dd2"/>
<circle cx="153.5" cy="448.1" r="2.25" fill="#2a8dd2"/>
<circle cx="161.3" cy="451.3" r="2.25" fill="#2a8dd2"/>
<circle cx="144.1" cy="451.5" r="2.25" fill="#e24f6e"/>
<circle cx="155.1" cy="455.7" r="2.25" fill="#e24f6e"/>
<circle cx="140.4" cy="461" r="2.25" fill="#2a8dd2"/>
<circle cx="147.1" cy="457.7" r="2.25" fill="#2a8dd2"/>
<circle cx="153" cy="459.4" r="2.25" fill="#2a8dd2"/>
<circle cx="144.6" cy="464.4" r="2.25" fill="#e24f6e"/>
<circle cx="151.3" cy="466.1" r="2.25" fill="#e24f6e"/>
<circle cx="160.2" cy="465.2" r="2.25" fill="#2a8dd2"/>
<circle cx="171.4" cy="462.4" r="2.25" fill="#2a8dd2"/>
<circle cx="131.1" cy="466.1" r="2.25" fill="#e24f6e"/>
<circle cx="175.3" cy="471.4" r="2.25" fill="#e24f6e"/>
<circle cx="179" cy="479.5" r="2.25" fill="#2a8dd2"/>
<circle cx="180.3" cy="481.2" r="2.25" fill="#2a8dd2"/>
<circle cx="171.4" cy="479.5" r="2.25" fill="#2a8dd2"/>
<circle cx="91.7" cy="507.2" r="2.25" fill="#2a8dd2"/>
<circle cx="93.4" cy="512.2" r="2.25" fill="#e24f6e"/>
<circle cx="93.4" cy="516.9" r="2.25" fill="#e24f6e"/>
<circle cx="94.2" cy="518.9" r="2.25" fill="#2a8dd2"/>
<circle cx="97.6" cy="512.6" r="2.25" fill="#2a8dd2"/>
<circle cx="116" cy="533.7" r="2.25" fill="#2a8dd2"/>
<circle cx="119.4" cy="531.5" r="2.25" fill="#e24f6e"/>
<circle cx="170.6" cy="528.7" r="2.25" fill="#e24f6e"/>
<circle cx="175.3" cy="530.7" r="2.25" fill="#e24f6e"/>
<circle cx="176.4" cy="514.7" r="2.25" fill="#2a8dd2"/>
<circle cx="178.1" cy="510.5" r="2.25" fill="#2a8dd2"/>
<circle cx="178.1" cy="493.8" r="2.25" fill="#2a8dd2"/>
<circle cx="174.8" cy="497.1" r="2.25" fill="#2a8dd2"/>
<circle cx="174.8" cy="496.3" r="2.25" fill="#e24f6e"/>
<circle cx="163.9" cy="519.8" r="2.25" fill="#2a8dd2"/>
<circle cx="165.2" cy="521.4" r="2.25" fill="#2a8dd2"/>
<circle cx="166.9" cy="507.5" r="2.25" fill="#2a8dd2"/>
<circle cx="168.9" cy="512.2" r="2.25" fill="#e24f6e"/>
<circle cx="168.1" cy="516.4" r="2.25" fill="#e24f6e"/>
<circle cx="159.7" cy="516.9" r="2.25" fill="#e24f6e"/>
<circle cx="153.8" cy="518.1" r="2.25" fill="#e24f6e"/>
<circle cx="145.4" cy="526.5" r="2.25" fill="#2a8dd2"/>
<circle cx="148.8" cy="528.2" r="2.25" fill="#e24f6e"/>
<circle cx="146.2" cy="525.3" r="2.25" fill="#e24f6e"/>
<circle cx="138.7" cy="534.4" r="2.25" fill="#e24f6e"/>
<circle cx="136.2" cy="537.4" r="2.25" fill="#e24f6e"/>
<circle cx="124.4" cy="527.3" r="2.25" fill="#e24f6e"/>
<circle cx="115.2" cy="528.2" r="2.25" fill="#e24f6e"/>
<circle cx="108.5" cy="525.6" r="2.25" fill="#e24f6e"/>
<circle cx="111.8" cy="523.1" r="2.25" fill="#e24f6e"/>
<circle cx="107.7" cy="520.6" r="2.25" fill="#e24f6e"/>
<line x1="49.05" y1="485.54" x2="232.32" y2="485.54" stroke="#5e5a57" stroke-width="1.1"/>
<line x1="49.05" y1="485.54" x2="49.05" y2="619.56" stroke="#5e5a57" stroke-width="1.1"/>
<line x1="232.32" y1="485.54" x2="232.32" y2="619.56" stroke="#5e5a57" stroke-width="1.1"/>
<line x1="49.05" y1="619.56" x2="232.32" y2="619.56" stroke="#5e5a57" stroke-width="1.1"/>
<line x1="49.05" y1="485.54" x2="118.78" y2="395.98" stroke="#4a4643" stroke-width="1.05"/>
<line x1="232.32" y1="485.54" x2="302.05" y2="395.98" stroke="#4a4643" stroke-width="1.05"/>
<line x1="232.32" y1="619.56" x2="302.05" y2="530" stroke="#4a4643" stroke-width="1.05"/>
<line x1="49.05" y1="618.06" x2="49.05" y2="621.16" stroke="#5e5a57" stroke-width="1.1"/>
<line x1="75.23" y1="618.06" x2="75.23" y2="621.16" stroke="#5e5a57" stroke-width="1.1"/>
<line x1="101.41" y1="618.06" x2="101.41" y2="621.16" stroke="#5e5a57" stroke-width="1.1"/>
<line x1="127.59" y1="618.06" x2="127.59" y2="621.16" stroke="#5e5a57" stroke-width="1.1"/>
<line x1="153.78" y1="618.06" x2="153.78" y2="621.16" stroke="#5e5a57" stroke-width="1.1"/>
<line x1="179.96" y1="618.06" x2="179.96" y2="621.16" stroke="#5e5a57" stroke-width="1.1"/>
<line x1="206.14" y1="618.06" x2="206.14" y2="621.16" stroke="#5e5a57" stroke-width="1.1"/>
<line x1="232.32" y1="618.06" x2="232.32" y2="621.16" stroke="#5e5a57" stroke-width="1.1"/>
<line x1="47.35" y1="485.54" x2="50.65" y2="485.54" stroke="#5e5a57" stroke-width="1.1"/>
<line x1="47.35" y1="512.34" x2="50.65" y2="512.34" stroke="#5e5a57" stroke-width="1.1"/>
<line x1="47.35" y1="539.15" x2="50.65" y2="539.15" stroke="#5e5a57" stroke-width="1.1"/>
<line x1="47.35" y1="565.95" x2="50.65" y2="565.95" stroke="#5e5a57" stroke-width="1.1"/>
<line x1="47.35" y1="592.76" x2="50.65" y2="592.76" stroke="#5e5a57" stroke-width="1.1"/>
<line x1="47.35" y1="619.56" x2="50.65" y2="619.56" stroke="#5e5a57" stroke-width="1.1"/>
<line x1="230.82" y1="619.56" x2="233.92" y2="619.56" stroke="#5e5a57" stroke-width="1.1"/>
<line x1="242.44" y1="604.63" x2="245.54" y2="604.63" stroke="#5e5a57" stroke-width="1.1"/>
<line x1="254.06" y1="589.71" x2="257.16" y2="589.71" stroke="#5e5a57" stroke-width="1.1"/>
<line x1="265.69" y1="574.78" x2="268.79" y2="574.78" stroke="#5e5a57" stroke-width="1.1"/>
<line x1="277.31" y1="559.85" x2="280.41" y2="559.85" stroke="#5e5a57" stroke-width="1.1"/>
<line x1="288.93" y1="544.93" x2="292.03" y2="544.93" stroke="#5e5a57" stroke-width="1.1"/>
<line x1="300.55" y1="530" x2="303.65" y2="530" stroke="#5e5a57" stroke-width="1.1"/>
<text x="49.05" y="631.96" font-size="7.6" text-anchor="middle" fill="#1a1a1a">−40</text>
<text x="75.23" y="631.96" font-size="7.6" text-anchor="middle" fill="#1a1a1a">−20</text>
<text x="101.41" y="631.96" font-size="7.6" text-anchor="middle" fill="#1a1a1a">  0</text>
<text x="127.59" y="631.96" font-size="7.6" text-anchor="middle" fill="#1a1a1a"> 20</text>
<text x="153.78" y="631.96" font-size="7.6" text-anchor="middle" fill="#1a1a1a"> 40</text>
<text x="179.96" y="631.96" font-size="7.6" text-anchor="middle" fill="#1a1a1a"> 60</text>
<text x="206.14" y="631.96" font-size="7.6" text-anchor="middle" fill="#1a1a1a"> 80</text>
<text x="232.32" y="631.96" font-size="7.6" text-anchor="middle" fill="#1a1a1a">100</text>
<text x="41.05" y="485.54" font-size="7.6" text-anchor="middle" fill="#1a1a1a" transform="rotate(-90 41.05 485.54)"> 20</text>
<text x="41.05" y="512.34" font-size="7.6" text-anchor="middle" fill="#1a1a1a" transform="rotate(-90 41.05 512.34)"> 10</text>
<text x="41.05" y="539.15" font-size="7.6" text-anchor="middle" fill="#1a1a1a" transform="rotate(-90 41.05 539.15)">  0</text>
<text x="41.05" y="565.95" font-size="7.6" text-anchor="middle" fill="#1a1a1a" transform="rotate(-90 41.05 565.95)">−10</text>
<text x="41.05" y="592.76" font-size="7.6" text-anchor="middle" fill="#1a1a1a" transform="rotate(-90 41.05 592.76)">−20</text>
<text x="41.05" y="619.56" font-size="7.6" text-anchor="middle" fill="#1a1a1a" transform="rotate(-90 41.05 619.56)">−30</text>
<text x="243.32" y="621.46" font-size="7.6" text-anchor="start" fill="#1a1a1a">−30</text>
<text x="254.94" y="606.53" font-size="7.6" text-anchor="start" fill="#1a1a1a">−20</text>
<text x="266.56" y="591.61" font-size="7.6" text-anchor="start" fill="#1a1a1a">−10</text>
<text x="278.19" y="576.68" font-size="7.6" text-anchor="start" fill="#1a1a1a">  0</text>
<text x="289.81" y="561.75" font-size="7.6" text-anchor="start" fill="#1a1a1a"> 10</text>
<text x="301.43" y="546.83" font-size="7.6" text-anchor="start" fill="#1a1a1a"> 20</text>
<text x="313.05" y="531.9" font-size="7.6" text-anchor="start" fill="#1a1a1a"> 30</text>
<text x="140.69" y="653.86" font-size="9" text-anchor="middle" fill="#1a1a1a">PC1</text>
<text x="19.85" y="552.55" font-size="9" text-anchor="middle" fill="#1a1a1a" transform="rotate(-90 19.85 552.55)">PC3</text>
<text x="342.6" y="530" font-size="9" text-anchor="middle" fill="#1a1a1a" transform="rotate(-90 342.6 530)">PC2</text>
<line x1="394.73" y1="579.44" x2="470.66" y2="497.83" stroke="#c9c9c9" stroke-width="0.8"/>
<line x1="419.24" y1="579.44" x2="495.17" y2="497.83" stroke="#c9c9c9" stroke-width="0.8"/>
<line x1="443.75" y1="579.44" x2="519.68" y2="497.83" stroke="#c9c9c9" stroke-width="0.8"/>
<line x1="468.26" y1="579.44" x2="544.19" y2="497.83" stroke="#c9c9c9" stroke-width="0.8"/>
<line x1="492.76" y1="579.44" x2="568.69" y2="497.83" stroke="#c9c9c9" stroke-width="0.8"/>
<line x1="517.27" y1="579.44" x2="593.2" y2="497.83" stroke="#c9c9c9" stroke-width="0.8"/>
<line x1="541.78" y1="579.44" x2="617.71" y2="497.83" stroke="#c9c9c9" stroke-width="0.8"/>
<line x1="566.29" y1="579.44" x2="642.22" y2="497.83" stroke="#c9c9c9" stroke-width="0.8"/>
<line x1="394.73" y1="579.44" x2="566.29" y2="579.44" stroke="#c9c9c9" stroke-width="0.8"/>
<line x1="405.58" y1="567.78" x2="577.14" y2="567.78" stroke="#c9c9c9" stroke-width="0.8"/>
<line x1="416.42" y1="556.12" x2="587.98" y2="556.12" stroke="#c9c9c9" stroke-width="0.8"/>
<line x1="427.27" y1="544.46" x2="598.83" y2="544.46" stroke="#c9c9c9" stroke-width="0.8"/>
<line x1="438.12" y1="532.81" x2="609.68" y2="532.81" stroke="#c9c9c9" stroke-width="0.8"/>
<line x1="448.97" y1="521.15" x2="620.53" y2="521.15" stroke="#c9c9c9" stroke-width="0.8"/>
<line x1="459.81" y1="509.49" x2="631.37" y2="509.49" stroke="#c9c9c9" stroke-width="0.8"/>
<line x1="470.66" y1="497.83" x2="642.22" y2="497.83" stroke="#c9c9c9" stroke-width="0.8"/>
<line x1="470.66" y1="393" x2="642.22" y2="393" stroke="#5e5a57" stroke-width="1.1"/>
<line x1="470.66" y1="393" x2="470.66" y2="497.83" stroke="#5e5a57" stroke-width="1.1"/>
<line x1="642.22" y1="393" x2="642.22" y2="497.83" stroke="#5e5a57" stroke-width="1.1"/>
<line x1="470.66" y1="497.83" x2="642.22" y2="497.83" stroke="#5e5a57" stroke-width="1.1"/>
<line x1="394.73" y1="579.44" x2="470.66" y2="497.83" stroke="#4a4643" stroke-width="1.05"/>
<circle cx="544.25" cy="463.16" r="2.25" fill="#e24f6e"/>
<circle cx="541" cy="463.56" r="2.25" fill="#2a8dd2"/>
<circle cx="533.87" cy="464.07" r="2.25" fill="#e24f6e"/>
<circle cx="521.28" cy="460.69" r="2.25" fill="#e24f6e"/>
<circle cx="528.18" cy="464.17" r="2.25" fill="#2a8dd2"/>
<circle cx="521.65" cy="465.49" r="2.25" fill="#e24f6e"/>
<circle cx="522.51" cy="466.58" r="2.25" fill="#e24f6e"/>
<circle cx="514.26" cy="460.75" r="2.25" fill="#e24f6e"/>
<circle cx="551.88" cy="466.98" r="2.25" fill="#e24f6e"/>
<circle cx="517.6" cy="464.29" r="2.25" fill="#2a8dd2"/>
<circle cx="547.75" cy="465.43" r="2.25" fill="#e24f6e"/>
<circle cx="519.82" cy="464.03" r="2.25" fill="#e24f6e"/>
<circle cx="542.44" cy="460.91" r="2.25" fill="#e24f6e"/>
<circle cx="558.8" cy="467.15" r="2.25" fill="#e24f6e"/>
<circle cx="512.78" cy="460.52" r="2.25" fill="#e24f6e"/>
<circle cx="555.07" cy="465.51" r="2.25" fill="#e24f6e"/>
<circle cx="533.17" cy="473.98" r="2.25" fill="#e24f6e"/>
<circle cx="496.56" cy="480.86" r="2.25" fill="#e24f6e"/>
<circle cx="547.76" cy="477.99" r="2.25" fill="#e24f6e"/>
<circle cx="554" cy="484.29" r="2.25" fill="#e24f6e"/>
<circle cx="539.45" cy="479.97" r="2.25" fill="#e24f6e"/>
<circle cx="524.44" cy="476.54" r="2.25" fill="#e24f6e"/>
<circle cx="481.5" cy="484.76" r="2.25" fill="#2a8dd2"/>
<circle cx="497.79" cy="469.17" r="2.25" fill="#e24f6e"/>
<circle cx="511.99" cy="483.57" r="2.25" fill="#e24f6e"/>
<circle cx="536.81" cy="481.75" r="2.25" fill="#2a8dd2"/>
<circle cx="516.47" cy="483.46" r="2.25" fill="#e24f6e"/>
<circle cx="530.27" cy="473.03" r="2.25" fill="#e24f6e"/>
<circle cx="553.12" cy="488.66" r="2.25" fill="#e24f6e"/>
<circle cx="510.7" cy="479.94" r="2.25" fill="#e24f6e"/>
<circle cx="539.23" cy="477.22" r="2.25" fill="#e24f6e"/>
<circle cx="508.51" cy="488.83" r="2.25" fill="#e24f6e"/>
<circle cx="484.2" cy="484.1" r="2.25" fill="#e24f6e"/>
<circle cx="532.44" cy="467.76" r="2.25" fill="#e24f6e"/>
<circle cx="520.52" cy="483.9" r="2.25" fill="#e24f6e"/>
<circle cx="528.77" cy="475.35" r="2.25" fill="#e24f6e"/>
<circle cx="544.08" cy="467.28" r="2.25" fill="#e24f6e"/>
<circle cx="481.47" cy="486.51" r="2.25" fill="#e24f6e"/>
<circle cx="476.96" cy="477.42" r="2.25" fill="#e24f6e"/>
<circle cx="535.81" cy="483.63" r="2.25" fill="#e24f6e"/>
<circle cx="554.22" cy="470.85" r="2.25" fill="#e24f6e"/>
<circle cx="544.06" cy="469.32" r="2.25" fill="#e24f6e"/>
<circle cx="517.01" cy="474.4" r="2.25" fill="#e24f6e"/>
<circle cx="553.97" cy="477.64" r="2.25" fill="#e24f6e"/>
<circle cx="495.52" cy="487.95" r="2.25" fill="#e24f6e"/>
<circle cx="551.95" cy="480.9" r="2.25" fill="#e24f6e"/>
<circle cx="540.32" cy="481.32" r="2.25" fill="#e24f6e"/>
<circle cx="547.52" cy="476.92" r="2.25" fill="#2a8dd2"/>
<circle cx="552.58" cy="485.43" r="2.25" fill="#e24f6e"/>
<circle cx="538.05" cy="471.95" r="2.25" fill="#e24f6e"/>
<circle cx="553.4" cy="470.27" r="2.25" fill="#e24f6e"/>
<circle cx="521.65" cy="476.02" r="2.25" fill="#e24f6e"/>
<circle cx="485.79" cy="477.55" r="2.25" fill="#e24f6e"/>
<circle cx="497.03" cy="475.14" r="2.25" fill="#e24f6e"/>
<circle cx="539.52" cy="480.35" r="2.25" fill="#e24f6e"/>
<circle cx="550.2" cy="475.14" r="2.25" fill="#e24f6e"/>
<circle cx="524.08" cy="489.22" r="2.25" fill="#e24f6e"/>
<circle cx="521.08" cy="473.88" r="2.25" fill="#2a8dd2"/>
<circle cx="491.59" cy="469.41" r="2.25" fill="#e24f6e"/>
<circle cx="528.14" cy="479.73" r="2.25" fill="#e24f6e"/>
<circle cx="532.95" cy="475.01" r="2.25" fill="#e24f6e"/>
<circle cx="528.53" cy="479.27" r="2.25" fill="#e24f6e"/>
<circle cx="531.61" cy="474.97" r="2.25" fill="#e24f6e"/>
<circle cx="499.82" cy="489.28" r="2.25" fill="#e24f6e"/>
<circle cx="474.85" cy="479.5" r="2.25" fill="#e24f6e"/>
<circle cx="517.64" cy="469.28" r="2.25" fill="#e24f6e"/>
<circle cx="531.54" cy="482.58" r="2.25" fill="#e24f6e"/>
<circle cx="535.33" cy="466.54" r="2.25" fill="#2a8dd2"/>
<circle cx="510.68" cy="489.27" r="2.25" fill="#e24f6e"/>
<circle cx="522.89" cy="466.71" r="2.25" fill="#e24f6e"/>
<circle cx="551.62" cy="480.35" r="2.25" fill="#e24f6e"/>
<circle cx="489.41" cy="486.06" r="2.25" fill="#2a8dd2"/>
<circle cx="554.16" cy="472.79" r="2.25" fill="#e24f6e"/>
<circle cx="518.34" cy="474.1" r="2.25" fill="#e24f6e"/>
<circle cx="508.84" cy="482.89" r="2.25" fill="#2a8dd2"/>
<circle cx="483.5" cy="484.04" r="2.25" fill="#e24f6e"/>
<circle cx="486.72" cy="475.06" r="2.25" fill="#e24f6e"/>
<circle cx="556.01" cy="489.86" r="2.25" fill="#e24f6e"/>
<circle cx="527.6" cy="481.86" r="2.25" fill="#e24f6e"/>
<circle cx="536.44" cy="479.45" r="2.25" fill="#e24f6e"/>
<circle cx="551.41" cy="472.49" r="2.25" fill="#e24f6e"/>
<circle cx="524.61" cy="485.32" r="2.25" fill="#e24f6e"/>
<circle cx="517.24" cy="480" r="2.25" fill="#e24f6e"/>
<circle cx="509.49" cy="479.27" r="2.25" fill="#2a8dd2"/>
<circle cx="479" cy="476.43" r="2.25" fill="#e24f6e"/>
<circle cx="539.09" cy="472.18" r="2.25" fill="#e24f6e"/>
<circle cx="494.77" cy="468.68" r="2.25" fill="#e24f6e"/>
<circle cx="507.33" cy="474.38" r="2.25" fill="#e24f6e"/>
<circle cx="493.12" cy="482.25" r="2.25" fill="#e24f6e"/>
<circle cx="512.93" cy="478.32" r="2.25" fill="#e24f6e"/>
<circle cx="525.95" cy="470.75" r="2.25" fill="#2a8dd2"/>
<circle cx="481.64" cy="481.75" r="2.25" fill="#e24f6e"/>
<circle cx="500.53" cy="478.54" r="2.25" fill="#e24f6e"/>
<circle cx="495.02" cy="470.14" r="2.25" fill="#e24f6e"/>
<circle cx="501.89" cy="487.88" r="2.25" fill="#e24f6e"/>
<circle cx="510.88" cy="470.4" r="2.25" fill="#2a8dd2"/>
<circle cx="484.53" cy="486.42" r="2.25" fill="#e24f6e"/>
<circle cx="487.47" cy="481.19" r="2.25" fill="#2a8dd2"/>
<circle cx="517.59" cy="474.38" r="2.25" fill="#2a8dd2"/>
<circle cx="537.85" cy="483.34" r="2.25" fill="#e24f6e"/>
<circle cx="488.46" cy="482.24" r="2.25" fill="#e24f6e"/>
<circle cx="530.87" cy="468.65" r="2.25" fill="#e24f6e"/>
<circle cx="508.26" cy="471.16" r="2.25" fill="#2a8dd2"/>
<circle cx="502.81" cy="472.76" r="2.25" fill="#e24f6e"/>
<circle cx="493.14" cy="475.92" r="2.25" fill="#e24f6e"/>
<circle cx="511.04" cy="470.16" r="2.25" fill="#2a8dd2"/>
<circle cx="520.7" cy="489.78" r="2.25" fill="#e24f6e"/>
<circle cx="482.59" cy="478.3" r="2.25" fill="#e24f6e"/>
<circle cx="490.69" cy="482.24" r="2.25" fill="#e24f6e"/>
<circle cx="543.55" cy="473.36" r="2.25" fill="#e24f6e"/>
<circle cx="544.05" cy="477.63" r="2.25" fill="#e24f6e"/>
<circle cx="515.6" cy="469.49" r="2.25" fill="#e24f6e"/>
<circle cx="533.98" cy="480.09" r="2.25" fill="#e24f6e"/>
<circle cx="477.89" cy="483.31" r="2.25" fill="#e24f6e"/>
<circle cx="483.71" cy="474.07" r="2.25" fill="#2a8dd2"/>
<circle cx="524.14" cy="483.49" r="2.25" fill="#e24f6e"/>
<circle cx="533.81" cy="475.12" r="2.25" fill="#e24f6e"/>
<circle cx="497.82" cy="489.49" r="2.25" fill="#e24f6e"/>
<circle cx="536.45" cy="486.82" r="2.25" fill="#e24f6e"/>
<circle cx="487.36" cy="486.99" r="2.25" fill="#e24f6e"/>
<circle cx="483.91" cy="475.44" r="2.25" fill="#e24f6e"/>
<circle cx="504.41" cy="487.05" r="2.25" fill="#e24f6e"/>
<circle cx="501.37" cy="487.86" r="2.25" fill="#e24f6e"/>
<circle cx="548.4" cy="480.32" r="2.25" fill="#e24f6e"/>
<circle cx="529.39" cy="488.77" r="2.25" fill="#e24f6e"/>
<circle cx="490.9" cy="478.69" r="2.25" fill="#e24f6e"/>
<circle cx="503.02" cy="475.28" r="2.25" fill="#e24f6e"/>
<circle cx="524.57" cy="471.73" r="2.25" fill="#e24f6e"/>
<circle cx="517.25" cy="478.34" r="2.25" fill="#e24f6e"/>
<circle cx="531.12" cy="470.86" r="2.25" fill="#e24f6e"/>
<circle cx="497.72" cy="484.6" r="2.25" fill="#e24f6e"/>
<circle cx="481.53" cy="487.52" r="2.25" fill="#2a8dd2"/>
<circle cx="485.14" cy="487.32" r="2.25" fill="#2a8dd2"/>
<circle cx="469.26" cy="484.06" r="2.25" fill="#e24f6e"/>
<circle cx="482.46" cy="486.48" r="2.25" fill="#e24f6e"/>
<circle cx="467.32" cy="485.56" r="2.25" fill="#2a8dd2"/>
<circle cx="469.66" cy="482.78" r="2.25" fill="#e24f6e"/>
<circle cx="480.33" cy="478.22" r="2.25" fill="#2a8dd2"/>
<circle cx="481.61" cy="491.64" r="2.25" fill="#e24f6e"/>
<circle cx="477.88" cy="492.8" r="2.25" fill="#2a8dd2"/>
<circle cx="463.52" cy="482.82" r="2.25" fill="#2a8dd2"/>
<circle cx="486.05" cy="487.74" r="2.25" fill="#e24f6e"/>
<circle cx="467.73" cy="482.11" r="2.25" fill="#2a8dd2"/>
<circle cx="481.89" cy="494.11" r="2.25" fill="#e24f6e"/>
<circle cx="471.23" cy="480.1" r="2.25" fill="#e24f6e"/>
<circle cx="479.8" cy="498.86" r="2.25" fill="#e24f6e"/>
<circle cx="483.69" cy="485.18" r="2.25" fill="#2a8dd2"/>
<circle cx="466.58" cy="476.73" r="2.25" fill="#2a8dd2"/>
<circle cx="470.29" cy="497.55" r="2.25" fill="#e24f6e"/>
<circle cx="472.68" cy="477.77" r="2.25" fill="#e24f6e"/>
<circle cx="471.37" cy="475.58" r="2.25" fill="#e24f6e"/>
<circle cx="472.99" cy="483.92" r="2.25" fill="#e24f6e"/>
<circle cx="471.75" cy="483.38" r="2.25" fill="#2a8dd2"/>
<circle cx="471.29" cy="494.84" r="2.25" fill="#2a8dd2"/>
<circle cx="478.99" cy="490.74" r="2.25" fill="#2a8dd2"/>
<circle cx="477.27" cy="480.81" r="2.25" fill="#2a8dd2"/>
<circle cx="483.38" cy="499.28" r="2.25" fill="#2a8dd2"/>
<circle cx="476.65" cy="489.24" r="2.25" fill="#2a8dd2"/>
<circle cx="462.91" cy="481.76" r="2.25" fill="#e24f6e"/>
<circle cx="477.05" cy="487.3" r="2.25" fill="#2a8dd2"/>
<circle cx="467.32" cy="481.34" r="2.25" fill="#2a8dd2"/>
<circle cx="471.08" cy="499.07" r="2.25" fill="#2a8dd2"/>
<circle cx="483.41" cy="479.31" r="2.25" fill="#e24f6e"/>
<circle cx="481.91" cy="496.31" r="2.25" fill="#2a8dd2"/>
<circle cx="481.4" cy="486.37" r="2.25" fill="#e24f6e"/>
<circle cx="463.36" cy="483.41" r="2.25" fill="#2a8dd2"/>
<circle cx="550" cy="510.78" r="2.25" fill="#e24f6e"/>
<circle cx="547.55" cy="496.33" r="2.25" fill="#e24f6e"/>
<circle cx="533.35" cy="491.62" r="2.25" fill="#e24f6e"/>
<circle cx="532.91" cy="499.09" r="2.25" fill="#2a8dd2"/>
<circle cx="530.07" cy="485.46" r="2.25" fill="#2a8dd2"/>
<circle cx="541.81" cy="498.01" r="2.25" fill="#2a8dd2"/>
<circle cx="539.26" cy="507.97" r="2.25" fill="#2a8dd2"/>
<circle cx="546.34" cy="500.27" r="2.25" fill="#2a8dd2"/>
<circle cx="557.56" cy="489.75" r="2.25" fill="#e24f6e"/>
<circle cx="541.45" cy="494.41" r="2.25" fill="#2a8dd2"/>
<circle cx="548.03" cy="492.51" r="2.25" fill="#2a8dd2"/>
<circle cx="560.57" cy="495.67" r="2.25" fill="#2a8dd2"/>
<circle cx="551.01" cy="501.68" r="2.25" fill="#2a8dd2"/>
<circle cx="540.51" cy="513.27" r="2.25" fill="#2a8dd2"/>
<circle cx="543.36" cy="517.41" r="2.25" fill="#2a8dd2"/>
<circle cx="542.86" cy="487.99" r="2.25" fill="#2a8dd2"/>
<circle cx="551.27" cy="498.51" r="2.25" fill="#2a8dd2"/>
<circle cx="537.45" cy="511.23" r="2.25" fill="#2a8dd2"/>
<circle cx="556.62" cy="495.87" r="2.25" fill="#e24f6e"/>
<circle cx="530.92" cy="490.13" r="2.25" fill="#e24f6e"/>
<circle cx="551.83" cy="507" r="2.25" fill="#2a8dd2"/>
<circle cx="545.11" cy="489.31" r="2.25" fill="#2a8dd2"/>
<circle cx="550.65" cy="507.67" r="2.25" fill="#2a8dd2"/>
<circle cx="550.63" cy="487.04" r="2.25" fill="#2a8dd2"/>
<circle cx="535.49" cy="500.85" r="2.25" fill="#2a8dd2"/>
<circle cx="547.62" cy="486.96" r="2.25" fill="#2a8dd2"/>
<circle cx="549.73" cy="486.99" r="2.25" fill="#2a8dd2"/>
<circle cx="551.72" cy="502.21" r="2.25" fill="#2a8dd2"/>
<circle cx="554.96" cy="503.14" r="2.25" fill="#2a8dd2"/>
<circle cx="544.16" cy="512.72" r="2.25" fill="#2a8dd2"/>
<circle cx="554.1" cy="495.47" r="2.25" fill="#2a8dd2"/>
<circle cx="550.89" cy="485.94" r="2.25" fill="#2a8dd2"/>
<circle cx="538.56" cy="513.29" r="2.25" fill="#2a8dd2"/>
<circle cx="556.49" cy="501.27" r="2.25" fill="#2a8dd2"/>
<circle cx="558.49" cy="498.28" r="2.25" fill="#e24f6e"/>
<circle cx="552.03" cy="501.71" r="2.25" fill="#e24f6e"/>
<circle cx="536.5" cy="515.25" r="2.25" fill="#2a8dd2"/>
<circle cx="530.83" cy="494.45" r="2.25" fill="#2a8dd2"/>
<circle cx="532.31" cy="505.09" r="2.25" fill="#2a8dd2"/>
<circle cx="535.11" cy="492.83" r="2.25" fill="#2a8dd2"/>
<circle cx="544.09" cy="511.44" r="2.25" fill="#2a8dd2"/>
<circle cx="553.43" cy="490.42" r="2.25" fill="#2a8dd2"/>
<circle cx="559.6" cy="502.43" r="2.25" fill="#2a8dd2"/>
<circle cx="557.58" cy="487.31" r="2.25" fill="#2a8dd2"/>
<circle cx="544.85" cy="511.08" r="2.25" fill="#2a8dd2"/>
<circle cx="539" cy="509.56" r="2.25" fill="#e24f6e"/>
<circle cx="537.93" cy="507.72" r="2.25" fill="#2a8dd2"/>
<circle cx="537.17" cy="490.04" r="2.25" fill="#e24f6e"/>
<circle cx="541.78" cy="500.86" r="2.25" fill="#2a8dd2"/>
<circle cx="530.85" cy="509.88" r="2.25" fill="#e24f6e"/>
<circle cx="558.03" cy="495.21" r="2.25" fill="#2a8dd2"/>
<circle cx="541.12" cy="509.09" r="2.25" fill="#2a8dd2"/>
<circle cx="542.99" cy="501.41" r="2.25" fill="#2a8dd2"/>
<circle cx="559.39" cy="499.46" r="2.25" fill="#2a8dd2"/>
<circle cx="555.18" cy="489.32" r="2.25" fill="#e24f6e"/>
<circle cx="498.72" cy="514.69" r="2.25" fill="#2a8dd2"/>
<circle cx="494.63" cy="507.79" r="2.25" fill="#2a8dd2"/>
<circle cx="499.97" cy="505.57" r="2.25" fill="#2a8dd2"/>
<circle cx="522.33" cy="492.9" r="2.25" fill="#2a8dd2"/>
<circle cx="509.26" cy="506.46" r="2.25" fill="#2a8dd2"/>
<circle cx="495.48" cy="516.65" r="2.25" fill="#2a8dd2"/>
<circle cx="515.94" cy="514.79" r="2.25" fill="#2a8dd2"/>
<circle cx="515.69" cy="520.16" r="2.25" fill="#2a8dd2"/>
<circle cx="485.34" cy="499.07" r="2.25" fill="#2a8dd2"/>
<circle cx="487.9" cy="491.63" r="2.25" fill="#e24f6e"/>
<circle cx="500.56" cy="488.81" r="2.25" fill="#2a8dd2"/>
<circle cx="510.61" cy="490.41" r="2.25" fill="#2a8dd2"/>
<circle cx="508.5" cy="500.15" r="2.25" fill="#2a8dd2"/>
<circle cx="529.29" cy="490.77" r="2.25" fill="#2a8dd2"/>
<circle cx="520.68" cy="505.23" r="2.25" fill="#2a8dd2"/>
<circle cx="491.53" cy="513.46" r="2.25" fill="#2a8dd2"/>
<circle cx="518.53" cy="491.9" r="2.25" fill="#2a8dd2"/>
<circle cx="514.36" cy="497.49" r="2.25" fill="#2a8dd2"/>
<circle cx="516.64" cy="488.98" r="2.25" fill="#2a8dd2"/>
<circle cx="518.85" cy="486.94" r="2.25" fill="#2a8dd2"/>
<circle cx="526.13" cy="484.97" r="2.25" fill="#2a8dd2"/>
<circle cx="484.46" cy="492.85" r="2.25" fill="#2a8dd2"/>
<circle cx="505.94" cy="492.76" r="2.25" fill="#2a8dd2"/>
<circle cx="504.46" cy="497.49" r="2.25" fill="#2a8dd2"/>
<circle cx="518.3" cy="487.45" r="2.25" fill="#2a8dd2"/>
<circle cx="480.44" cy="495.84" r="2.25" fill="#2a8dd2"/>
<circle cx="516.95" cy="513.43" r="2.25" fill="#e24f6e"/>
<circle cx="520.12" cy="499.06" r="2.25" fill="#e24f6e"/>
<circle cx="500.8" cy="495.19" r="2.25" fill="#2a8dd2"/>
<circle cx="530.24" cy="502.97" r="2.25" fill="#2a8dd2"/>
<circle cx="503.17" cy="512.98" r="2.25" fill="#2a8dd2"/>
<circle cx="505.23" cy="489.95" r="2.25" fill="#2a8dd2"/>
<circle cx="527.24" cy="498.9" r="2.25" fill="#2a8dd2"/>
<circle cx="509.66" cy="500.99" r="2.25" fill="#2a8dd2"/>
<circle cx="492.99" cy="504.74" r="2.25" fill="#e24f6e"/>
<circle cx="484.23" cy="497.39" r="2.25" fill="#e24f6e"/>
<circle cx="513.23" cy="507.65" r="2.25" fill="#2a8dd2"/>
<circle cx="504.91" cy="488.11" r="2.25" fill="#2a8dd2"/>
<circle cx="517.77" cy="511.4" r="2.25" fill="#2a8dd2"/>
<circle cx="514.06" cy="508.61" r="2.25" fill="#2a8dd2"/>
<circle cx="481.16" cy="500.22" r="2.25" fill="#2a8dd2"/>
<circle cx="511.65" cy="496.13" r="2.25" fill="#2a8dd2"/>
<circle cx="515.53" cy="494.19" r="2.25" fill="#2a8dd2"/>
<circle cx="496.2" cy="504.29" r="2.25" fill="#2a8dd2"/>
<circle cx="499.54" cy="490.01" r="2.25" fill="#2a8dd2"/>
<circle cx="506.57" cy="499.18" r="2.25" fill="#2a8dd2"/>
<circle cx="507.71" cy="494.7" r="2.25" fill="#e24f6e"/>
<circle cx="500.3" cy="499.98" r="2.25" fill="#2a8dd2"/>
<circle cx="531.35" cy="495.55" r="2.25" fill="#2a8dd2"/>
<circle cx="524.13" cy="498.33" r="2.25" fill="#2a8dd2"/>
<circle cx="494.78" cy="487.27" r="2.25" fill="#2a8dd2"/>
<circle cx="503.79" cy="517.08" r="2.25" fill="#2a8dd2"/>
<circle cx="503.35" cy="512.75" r="2.25" fill="#2a8dd2"/>
<circle cx="488.09" cy="503.25" r="2.25" fill="#2a8dd2"/>
<circle cx="492.62" cy="504.87" r="2.25" fill="#2a8dd2"/>
<circle cx="481.79" cy="500.33" r="2.25" fill="#e24f6e"/>
<circle cx="496.05" cy="505.86" r="2.25" fill="#2a8dd2"/>
<circle cx="485.79" cy="494.76" r="2.25" fill="#2a8dd2"/>
<circle cx="481.02" cy="497.64" r="2.25" fill="#2a8dd2"/>
<circle cx="505.09" cy="483.62" r="2.25" fill="#2a8dd2"/>
<circle cx="491.79" cy="486.18" r="2.25" fill="#2a8dd2"/>
<circle cx="490.31" cy="503.19" r="2.25" fill="#2a8dd2"/>
<circle cx="523.52" cy="499.26" r="2.25" fill="#2a8dd2"/>
<circle cx="492.77" cy="515.74" r="2.25" fill="#2a8dd2"/>
<circle cx="519.34" cy="486.81" r="2.25" fill="#e24f6e"/>
<circle cx="501.64" cy="506.31" r="2.25" fill="#e24f6e"/>
<circle cx="516.76" cy="505.92" r="2.25" fill="#2a8dd2"/>
<circle cx="494.72" cy="502.38" r="2.25" fill="#2a8dd2"/>
<circle cx="503.17" cy="493.98" r="2.25" fill="#2a8dd2"/>
<circle cx="495.85" cy="493.72" r="2.25" fill="#2a8dd2"/>
<circle cx="506.28" cy="491.93" r="2.25" fill="#2a8dd2"/>
<circle cx="506.97" cy="502.65" r="2.25" fill="#2a8dd2"/>
<circle cx="499.81" cy="499.08" r="2.25" fill="#e24f6e"/>
<circle cx="529.99" cy="493.03" r="2.25" fill="#2a8dd2"/>
<circle cx="512.43" cy="490.96" r="2.25" fill="#e24f6e"/>
<circle cx="514.33" cy="514.58" r="2.25" fill="#2a8dd2"/>
<circle cx="489.3" cy="493.11" r="2.25" fill="#2a8dd2"/>
<circle cx="490.28" cy="501.04" r="2.25" fill="#2a8dd2"/>
<circle cx="485.09" cy="508.77" r="2.25" fill="#2a8dd2"/>
<circle cx="505.21" cy="508.33" r="2.25" fill="#2a8dd2"/>
<circle cx="482.29" cy="490.45" r="2.25" fill="#e24f6e"/>
<circle cx="500.72" cy="499.57" r="2.25" fill="#2a8dd2"/>
<circle cx="516.9" cy="511.88" r="2.25" fill="#2a8dd2"/>
<circle cx="501.32" cy="505.21" r="2.25" fill="#2a8dd2"/>
<circle cx="532.61" cy="501.16" r="2.25" fill="#2a8dd2"/>
<circle cx="492.75" cy="511.97" r="2.25" fill="#2a8dd2"/>
<circle cx="526.6" cy="493.44" r="2.25" fill="#2a8dd2"/>
<circle cx="505.19" cy="495.19" r="2.25" fill="#2a8dd2"/>
<circle cx="522.34" cy="515.87" r="2.25" fill="#2a8dd2"/>
<circle cx="515.48" cy="489.64" r="2.25" fill="#2a8dd2"/>
<circle cx="510.1" cy="491.27" r="2.25" fill="#2a8dd2"/>
<circle cx="485.43" cy="489.04" r="2.25" fill="#2a8dd2"/>
<circle cx="491.85" cy="516.07" r="2.25" fill="#2a8dd2"/>
<circle cx="524.99" cy="494.8" r="2.25" fill="#2a8dd2"/>
<circle cx="503.08" cy="497.82" r="2.25" fill="#2a8dd2"/>
<circle cx="525.66" cy="497.63" r="2.25" fill="#2a8dd2"/>
<circle cx="530.9" cy="491.91" r="2.25" fill="#2a8dd2"/>
<circle cx="517.62" cy="505.7" r="2.25" fill="#2a8dd2"/>
<circle cx="493.05" cy="494.18" r="2.25" fill="#e24f6e"/>
<circle cx="526.99" cy="487.86" r="2.25" fill="#2a8dd2"/>
<circle cx="522.91" cy="510.12" r="2.25" fill="#2a8dd2"/>
<circle cx="523.08" cy="489.02" r="2.25" fill="#2a8dd2"/>
<circle cx="494.09" cy="498.57" r="2.25" fill="#2a8dd2"/>
<circle cx="517.54" cy="505.35" r="2.25" fill="#2a8dd2"/>
<circle cx="513.3" cy="506.37" r="2.25" fill="#e24f6e"/>
<circle cx="523.06" cy="505.1" r="2.25" fill="#2a8dd2"/>
<circle cx="529.18" cy="497.47" r="2.25" fill="#2a8dd2"/>
<circle cx="497.66" cy="510.55" r="2.25" fill="#e24f6e"/>
<circle cx="514.22" cy="508.84" r="2.25" fill="#e24f6e"/>
<circle cx="521.23" cy="500.37" r="2.25" fill="#2a8dd2"/>
<circle cx="520.26" cy="495.39" r="2.25" fill="#2a8dd2"/>
<circle cx="512.84" cy="514.55" r="2.25" fill="#2a8dd2"/>
<circle cx="516.24" cy="517.81" r="2.25" fill="#2a8dd2"/>
<circle cx="487.19" cy="502.23" r="2.25" fill="#2a8dd2"/>
<circle cx="503.62" cy="513.93" r="2.25" fill="#2a8dd2"/>
<circle cx="489.25" cy="485.96" r="2.25" fill="#2a8dd2"/>
<circle cx="501.84" cy="520.22" r="2.25" fill="#2a8dd2"/>
<circle cx="525.04" cy="513.41" r="2.25" fill="#2a8dd2"/>
<circle cx="492.6" cy="494.89" r="2.25" fill="#2a8dd2"/>
<circle cx="500.94" cy="508.18" r="2.25" fill="#2a8dd2"/>
<circle cx="497.12" cy="506.67" r="2.25" fill="#e24f6e"/>
<circle cx="490.74" cy="496.09" r="2.25" fill="#2a8dd2"/>
<circle cx="502.41" cy="515.62" r="2.25" fill="#2a8dd2"/>
<circle cx="511.05" cy="505.64" r="2.25" fill="#2a8dd2"/>
<circle cx="500.33" cy="493.2" r="2.25" fill="#2a8dd2"/>
<circle cx="483.47" cy="504.15" r="2.25" fill="#2a8dd2"/>
<circle cx="506.08" cy="498.77" r="2.25" fill="#2a8dd2"/>
<circle cx="518.77" cy="514.21" r="2.25" fill="#2a8dd2"/>
<circle cx="486.14" cy="506.37" r="2.25" fill="#e24f6e"/>
<circle cx="515.25" cy="493.79" r="2.25" fill="#e24f6e"/>
<circle cx="523.78" cy="517.91" r="2.25" fill="#2a8dd2"/>
<circle cx="510.58" cy="497.78" r="2.25" fill="#2a8dd2"/>
<circle cx="520.35" cy="507.04" r="2.25" fill="#2a8dd2"/>
<circle cx="508.78" cy="519.21" r="2.25" fill="#2a8dd2"/>
<circle cx="528.42" cy="505.08" r="2.25" fill="#e24f6e"/>
<circle cx="481.54" cy="500.94" r="2.25" fill="#2a8dd2"/>
<circle cx="518.52" cy="520.78" r="2.25" fill="#2a8dd2"/>
<circle cx="505.33" cy="507.74" r="2.25" fill="#2a8dd2"/>
<circle cx="517.36" cy="519.93" r="2.25" fill="#2a8dd2"/>
<circle cx="496.98" cy="517.18" r="2.25" fill="#2a8dd2"/>
<circle cx="521.89" cy="484.2" r="2.25" fill="#2a8dd2"/>
<circle cx="522.42" cy="492.29" r="2.25" fill="#2a8dd2"/>
<circle cx="492" cy="510.49" r="2.25" fill="#2a8dd2"/>
<circle cx="512.1" cy="495.69" r="2.25" fill="#2a8dd2"/>
<circle cx="530.44" cy="492.64" r="2.25" fill="#2a8dd2"/>
<circle cx="500.44" cy="496.5" r="2.25" fill="#2a8dd2"/>
<circle cx="489.27" cy="504.78" r="2.25" fill="#2a8dd2"/>
<circle cx="494.35" cy="502.23" r="2.25" fill="#e24f6e"/>
<circle cx="501.05" cy="504.36" r="2.25" fill="#e24f6e"/>
<circle cx="483.41" cy="495.85" r="2.25" fill="#2a8dd2"/>
<circle cx="497.95" cy="494.02" r="2.25" fill="#2a8dd2"/>
<circle cx="514.48" cy="488.02" r="2.25" fill="#2a8dd2"/>
<circle cx="511.77" cy="488.72" r="2.25" fill="#2a8dd2"/>
<circle cx="523.37" cy="491.15" r="2.25" fill="#e24f6e"/>
<circle cx="522.98" cy="491.56" r="2.25" fill="#2a8dd2"/>
<circle cx="525.09" cy="511.26" r="2.25" fill="#2a8dd2"/>
<circle cx="521.36" cy="509.51" r="2.25" fill="#2a8dd2"/>
<circle cx="505.13" cy="511.52" r="2.25" fill="#e24f6e"/>
<circle cx="504.6" cy="506.56" r="2.25" fill="#2a8dd2"/>
<circle cx="524.41" cy="502.71" r="2.25" fill="#2a8dd2"/>
<circle cx="502.31" cy="501.91" r="2.25" fill="#2a8dd2"/>
<circle cx="501.96" cy="507.01" r="2.25" fill="#2a8dd2"/>
<circle cx="497.51" cy="509.69" r="2.25" fill="#2a8dd2"/>
<circle cx="504.33" cy="487.24" r="2.25" fill="#2a8dd2"/>
<circle cx="521.55" cy="499.4" r="2.25" fill="#2a8dd2"/>
<circle cx="498.91" cy="487.51" r="2.25" fill="#2a8dd2"/>
<circle cx="525.55" cy="489.34" r="2.25" fill="#2a8dd2"/>
<circle cx="520.86" cy="487.01" r="2.25" fill="#2a8dd2"/>
<circle cx="496.09" cy="492.15" r="2.25" fill="#2a8dd2"/>
<circle cx="525.32" cy="497.5" r="2.25" fill="#2a8dd2"/>
<circle cx="494.15" cy="495.24" r="2.25" fill="#2a8dd2"/>
<circle cx="522.18" cy="507.57" r="2.25" fill="#2a8dd2"/>
<circle cx="512.67" cy="507.08" r="2.25" fill="#2a8dd2"/>
<circle cx="507.25" cy="493.67" r="2.25" fill="#2a8dd2"/>
<circle cx="520.35" cy="491.07" r="2.25" fill="#2a8dd2"/>
<circle cx="503.45" cy="512.51" r="2.25" fill="#2a8dd2"/>
<circle cx="510.78" cy="496.53" r="2.25" fill="#e24f6e"/>
<circle cx="527.76" cy="498.84" r="2.25" fill="#2a8dd2"/>
<circle cx="524.91" cy="492.46" r="2.25" fill="#2a8dd2"/>
<circle cx="496.82" cy="500.57" r="2.25" fill="#2a8dd2"/>
<circle cx="498.79" cy="498.27" r="2.25" fill="#e24f6e"/>
<circle cx="510.8" cy="496.62" r="2.25" fill="#2a8dd2"/>
<circle cx="526.01" cy="496.41" r="2.25" fill="#2a8dd2"/>
<circle cx="516.55" cy="508.43" r="2.25" fill="#e24f6e"/>
<circle cx="517.42" cy="494.15" r="2.25" fill="#2a8dd2"/>
<circle cx="503.65" cy="498.72" r="2.25" fill="#2a8dd2"/>
<circle cx="527.27" cy="499.77" r="2.25" fill="#e24f6e"/>
<circle cx="516.69" cy="512.79" r="2.25" fill="#2a8dd2"/>
<circle cx="524.37" cy="511.04" r="2.25" fill="#2a8dd2"/>
<circle cx="523.66" cy="491.05" r="2.25" fill="#2a8dd2"/>
<circle cx="510.33" cy="497.57" r="2.25" fill="#2a8dd2"/>
<circle cx="522.6" cy="508.12" r="2.25" fill="#2a8dd2"/>
<circle cx="506.88" cy="497.68" r="2.25" fill="#2a8dd2"/>
<circle cx="516.43" cy="496.06" r="2.25" fill="#2a8dd2"/>
<circle cx="495.55" cy="501.12" r="2.25" fill="#2a8dd2"/>
<circle cx="509.55" cy="516.42" r="2.25" fill="#2a8dd2"/>
<circle cx="505.99" cy="497.8" r="2.25" fill="#2a8dd2"/>
<circle cx="527.75" cy="503.5" r="2.25" fill="#2a8dd2"/>
<circle cx="508.76" cy="492.25" r="2.25" fill="#2a8dd2"/>
<circle cx="511.26" cy="498.73" r="2.25" fill="#e24f6e"/>
<circle cx="513.83" cy="490.83" r="2.25" fill="#2a8dd2"/>
<circle cx="498.89" cy="495.41" r="2.25" fill="#2a8dd2"/>
<circle cx="525.9" cy="491.8" r="2.25" fill="#2a8dd2"/>
<circle cx="509.34" cy="501.74" r="2.25" fill="#2a8dd2"/>
<circle cx="517.7" cy="506.74" r="2.25" fill="#2a8dd2"/>
<circle cx="504.17" cy="486.21" r="2.25" fill="#2a8dd2"/>
<circle cx="517.21" cy="491.4" r="2.25" fill="#2a8dd2"/>
<circle cx="511.02" cy="485.13" r="2.25" fill="#2a8dd2"/>
<circle cx="516.14" cy="493.21" r="2.25" fill="#2a8dd2"/>
<circle cx="501.62" cy="490.14" r="2.25" fill="#2a8dd2"/>
<circle cx="523.18" cy="498.96" r="2.25" fill="#2a8dd2"/>
<circle cx="505.86" cy="510.63" r="2.25" fill="#2a8dd2"/>
<circle cx="517.2" cy="496.96" r="2.25" fill="#2a8dd2"/>
<circle cx="517.87" cy="501.57" r="2.25" fill="#2a8dd2"/>
<circle cx="496.71" cy="495.04" r="2.25" fill="#2a8dd2"/>
<circle cx="509.45" cy="512.66" r="2.25" fill="#2a8dd2"/>
<circle cx="519.6" cy="493.95" r="2.25" fill="#2a8dd2"/>
<circle cx="519.06" cy="493.86" r="2.25" fill="#2a8dd2"/>
<circle cx="505.95" cy="509.1" r="2.25" fill="#2a8dd2"/>
<circle cx="507.01" cy="516.56" r="2.25" fill="#2a8dd2"/>
<circle cx="513.18" cy="496.81" r="2.25" fill="#2a8dd2"/>
<circle cx="504.66" cy="490.87" r="2.25" fill="#2a8dd2"/>
<circle cx="513.36" cy="508.94" r="2.25" fill="#2a8dd2"/>
<circle cx="501.07" cy="499.57" r="2.25" fill="#2a8dd2"/>
<circle cx="502.58" cy="505.97" r="2.25" fill="#2a8dd2"/>
<circle cx="516.55" cy="498.63" r="2.25" fill="#2a8dd2"/>
<circle cx="517.75" cy="490.8" r="2.25" fill="#2a8dd2"/>
<circle cx="515.12" cy="508.05" r="2.25" fill="#2a8dd2"/>
<circle cx="504.5" cy="495.32" r="2.25" fill="#2a8dd2"/>
<circle cx="505.89" cy="508.08" r="2.25" fill="#2a8dd2"/>
<circle cx="499.4" cy="508.14" r="2.25" fill="#2a8dd2"/>
<circle cx="520.8" cy="488.87" r="2.25" fill="#2a8dd2"/>
<circle cx="502.31" cy="500.99" r="2.25" fill="#2a8dd2"/>
<circle cx="503.48" cy="508.75" r="2.25" fill="#2a8dd2"/>
<circle cx="513.76" cy="492.41" r="2.25" fill="#e24f6e"/>
<circle cx="505.21" cy="494.59" r="2.25" fill="#2a8dd2"/>
<circle cx="508.92" cy="513.64" r="2.25" fill="#2a8dd2"/>
<circle cx="523.92" cy="494.2" r="2.25" fill="#2a8dd2"/>
<circle cx="526.29" cy="492.99" r="2.25" fill="#2a8dd2"/>
<circle cx="497.32" cy="496.12" r="2.25" fill="#2a8dd2"/>
<circle cx="499.65" cy="492.25" r="2.25" fill="#2a8dd2"/>
<circle cx="509.51" cy="494.07" r="2.25" fill="#2a8dd2"/>
<circle cx="521.64" cy="507.89" r="2.25" fill="#2a8dd2"/>
<circle cx="526.97" cy="510.11" r="2.25" fill="#2a8dd2"/>
<circle cx="510.6" cy="494.88" r="2.25" fill="#2a8dd2"/>
<circle cx="525.77" cy="504.07" r="2.25" fill="#2a8dd2"/>
<circle cx="501.81" cy="501.67" r="2.25" fill="#2a8dd2"/>
<circle cx="505.97" cy="500.44" r="2.25" fill="#2a8dd2"/>
<circle cx="500.12" cy="504.67" r="2.25" fill="#2a8dd2"/>
<circle cx="519.31" cy="485.36" r="2.25" fill="#2a8dd2"/>
<circle cx="497.36" cy="488.91" r="2.25" fill="#2a8dd2"/>
<circle cx="499.45" cy="510.23" r="2.25" fill="#2a8dd2"/>
<circle cx="516.05" cy="512.41" r="2.25" fill="#2a8dd2"/>
<circle cx="501.05" cy="509.24" r="2.25" fill="#2a8dd2"/>
<circle cx="527.49" cy="495.15" r="2.25" fill="#2a8dd2"/>
<circle cx="528.43" cy="495.35" r="2.25" fill="#e24f6e"/>
<circle cx="525.97" cy="490.61" r="2.25" fill="#2a8dd2"/>
<circle cx="524.4" cy="509.55" r="2.25" fill="#2a8dd2"/>
<circle cx="515.23" cy="487.3" r="2.25" fill="#e24f6e"/>
<circle cx="496.79" cy="509.86" r="2.25" fill="#2a8dd2"/>
<circle cx="504.74" cy="506.59" r="2.25" fill="#2a8dd2"/>
<circle cx="527.54" cy="496.69" r="2.25" fill="#2a8dd2"/>
<circle cx="510.45" cy="510.81" r="2.25" fill="#2a8dd2"/>
<circle cx="513.17" cy="484.83" r="2.25" fill="#2a8dd2"/>
<circle cx="518.06" cy="498.03" r="2.25" fill="#e24f6e"/>
<circle cx="496.05" cy="507.24" r="2.25" fill="#2a8dd2"/>
<circle cx="527.18" cy="498.47" r="2.25" fill="#2a8dd2"/>
<circle cx="523.14" cy="493.08" r="2.25" fill="#2a8dd2"/>
<circle cx="527.17" cy="492.93" r="2.25" fill="#2a8dd2"/>
<circle cx="520.37" cy="490.93" r="2.25" fill="#2a8dd2"/>
<circle cx="583.8" cy="458.3" r="2.25" fill="#e24f6e"/>
<circle cx="573.9" cy="468.2" r="2.25" fill="#e24f6e"/>
<circle cx="577" cy="473.5" r="2.25" fill="#e24f6e"/>
<circle cx="580.5" cy="476.6" r="2.25" fill="#e24f6e"/>
<circle cx="575.5" cy="477.8" r="2.25" fill="#2a8dd2"/>
<circle cx="586.6" cy="490" r="2.25" fill="#e24f6e"/>
<circle cx="569.4" cy="488" r="2.25" fill="#e24f6e"/>
<circle cx="576.2" cy="504.8" r="2.25" fill="#2a8dd2"/>
<circle cx="565.5" cy="497.9" r="2.25" fill="#2a8dd2"/>
<circle cx="565.5" cy="503.7" r="2.25" fill="#2a8dd2"/>
<circle cx="566.3" cy="475.4" r="2.25" fill="#e24f6e"/>
<circle cx="563.3" cy="490.3" r="2.25" fill="#2a8dd2"/>
<circle cx="556.4" cy="489.1" r="2.25" fill="#e24f6e"/>
<circle cx="552.6" cy="461.3" r="2.25" fill="#e24f6e"/>
<circle cx="556.4" cy="467.4" r="2.25" fill="#e24f6e"/>
<circle cx="542.7" cy="463.6" r="2.25" fill="#e24f6e"/>
<circle cx="549.5" cy="464.4" r="2.25" fill="#e24f6e"/>
<circle cx="528.2" cy="459.1" r="2.25" fill="#e24f6e"/>
<circle cx="532.8" cy="460.6" r="2.25" fill="#e24f6e"/>
<circle cx="509.9" cy="459.1" r="2.25" fill="#e24f6e"/>
<circle cx="506.9" cy="459.8" r="2.25" fill="#e24f6e"/>
<circle cx="527.4" cy="465.2" r="2.25" fill="#2a8dd2"/>
<circle cx="555.6" cy="508.6" r="2.25" fill="#2a8dd2"/>
<circle cx="556.1" cy="515.5" r="2.25" fill="#2a8dd2"/>
<circle cx="524.1" cy="533" r="2.25" fill="#2a8dd2"/>
<circle cx="519.8" cy="525.4" r="2.25" fill="#2a8dd2"/>
<circle cx="525.2" cy="523.1" r="2.25" fill="#2a8dd2"/>
<circle cx="529" cy="526.1" r="2.25" fill="#2a8dd2"/>
<circle cx="539.6" cy="522.3" r="2.25" fill="#2a8dd2"/>
<circle cx="545.7" cy="522.3" r="2.25" fill="#2a8dd2"/>
<circle cx="543.4" cy="514.7" r="2.25" fill="#2a8dd2"/>
<circle cx="530.5" cy="518.5" r="2.25" fill="#2a8dd2"/>
<circle cx="535.4" cy="515.5" r="2.25" fill="#2a8dd2"/>
<circle cx="538.9" cy="512.4" r="2.25" fill="#2a8dd2"/>
<circle cx="516" cy="518.5" r="2.25" fill="#e24f6e"/>
<circle cx="435.8" cy="479.9" r="2.25" fill="#2a8dd2"/>
<circle cx="451.2" cy="474.8" r="2.25" fill="#2a8dd2"/>
<circle cx="455.5" cy="479.9" r="2.25" fill="#2a8dd2"/>
<circle cx="448.2" cy="482.1" r="2.25" fill="#e24f6e"/>
<circle cx="447.5" cy="493.8" r="2.25" fill="#2a8dd2"/>
<circle cx="454.1" cy="493.8" r="2.25" fill="#e24f6e"/>
<circle cx="460.7" cy="473.4" r="2.25" fill="#e24f6e"/>
<circle cx="462.8" cy="477" r="2.25" fill="#2a8dd2"/>
<circle cx="461.4" cy="484.3" r="2.25" fill="#2a8dd2"/>
<circle cx="461.4" cy="487.2" r="2.25" fill="#e24f6e"/>
<circle cx="476.7" cy="476" r="2.25" fill="#e24f6e"/>
<circle cx="477.4" cy="480.7" r="2.25" fill="#e24f6e"/>
<circle cx="483.7" cy="472.6" r="2.25" fill="#e24f6e"/>
<circle cx="495" cy="466.8" r="2.25" fill="#e24f6e"/>
<circle cx="501.5" cy="465.3" r="2.25" fill="#e24f6e"/>
<circle cx="505.9" cy="460.2" r="2.25" fill="#e24f6e"/>
<circle cx="510.3" cy="458.8" r="2.25" fill="#e24f6e"/>
<circle cx="493.5" cy="525.2" r="2.25" fill="#2a8dd2"/>
<circle cx="468.2" cy="505.5" r="2.25" fill="#2a8dd2"/>
<circle cx="468" cy="496" r="2.25" fill="#2a8dd2"/>
<circle cx="467.2" cy="491.6" r="2.25" fill="#2a8dd2"/>
<circle cx="485.6" cy="540.8" r="2.25" fill="#e24f6e"/>
<line x1="394.73" y1="474.61" x2="566.29" y2="474.61" stroke="#5e5a57" stroke-width="1.1"/>
<line x1="394.73" y1="474.61" x2="394.73" y2="579.44" stroke="#5e5a57" stroke-width="1.1"/>
<line x1="566.29" y1="474.61" x2="566.29" y2="579.44" stroke="#5e5a57" stroke-width="1.1"/>
<line x1="394.73" y1="579.44" x2="566.29" y2="579.44" stroke="#5e5a57" stroke-width="1.1"/>
<line x1="394.73" y1="474.61" x2="470.66" y2="393" stroke="#4a4643" stroke-width="1.05"/>
<line x1="566.29" y1="474.61" x2="642.22" y2="393" stroke="#4a4643" stroke-width="1.05"/>
<line x1="566.29" y1="579.44" x2="642.22" y2="497.83" stroke="#4a4643" stroke-width="1.05"/>
<line x1="394.73" y1="577.94" x2="394.73" y2="581.04" stroke="#5e5a57" stroke-width="1.1"/>
<line x1="419.24" y1="577.94" x2="419.24" y2="581.04" stroke="#5e5a57" stroke-width="1.1"/>
<line x1="443.75" y1="577.94" x2="443.75" y2="581.04" stroke="#5e5a57" stroke-width="1.1"/>
<line x1="468.26" y1="577.94" x2="468.26" y2="581.04" stroke="#5e5a57" stroke-width="1.1"/>
<line x1="492.76" y1="577.94" x2="492.76" y2="581.04" stroke="#5e5a57" stroke-width="1.1"/>
<line x1="517.27" y1="577.94" x2="517.27" y2="581.04" stroke="#5e5a57" stroke-width="1.1"/>
<line x1="541.78" y1="577.94" x2="541.78" y2="581.04" stroke="#5e5a57" stroke-width="1.1"/>
<line x1="566.29" y1="577.94" x2="566.29" y2="581.04" stroke="#5e5a57" stroke-width="1.1"/>
<line x1="393.03" y1="474.61" x2="396.33" y2="474.61" stroke="#5e5a57" stroke-width="1.1"/>
<line x1="393.03" y1="495.58" x2="396.33" y2="495.58" stroke="#5e5a57" stroke-width="1.1"/>
<line x1="393.03" y1="516.54" x2="396.33" y2="516.54" stroke="#5e5a57" stroke-width="1.1"/>
<line x1="393.03" y1="537.51" x2="396.33" y2="537.51" stroke="#5e5a57" stroke-width="1.1"/>
<line x1="393.03" y1="558.47" x2="396.33" y2="558.47" stroke="#5e5a57" stroke-width="1.1"/>
<line x1="393.03" y1="579.44" x2="396.33" y2="579.44" stroke="#5e5a57" stroke-width="1.1"/>
<line x1="564.79" y1="579.44" x2="567.89" y2="579.44" stroke="#5e5a57" stroke-width="1.1"/>
<line x1="575.64" y1="567.78" x2="578.74" y2="567.78" stroke="#5e5a57" stroke-width="1.1"/>
<line x1="586.48" y1="556.12" x2="589.58" y2="556.12" stroke="#5e5a57" stroke-width="1.1"/>
<line x1="597.33" y1="544.46" x2="600.43" y2="544.46" stroke="#5e5a57" stroke-width="1.1"/>
<line x1="608.18" y1="532.81" x2="611.28" y2="532.81" stroke="#5e5a57" stroke-width="1.1"/>
<line x1="619.03" y1="521.15" x2="622.13" y2="521.15" stroke="#5e5a57" stroke-width="1.1"/>
<line x1="629.87" y1="509.49" x2="632.97" y2="509.49" stroke="#5e5a57" stroke-width="1.1"/>
<line x1="640.72" y1="497.83" x2="643.82" y2="497.83" stroke="#5e5a57" stroke-width="1.1"/>
<text x="394.73" y="590.54" font-size="8.3" text-anchor="middle" fill="#1a1a1a">−8</text>
<text x="419.24" y="590.54" font-size="8.3" text-anchor="middle" fill="#1a1a1a">−6</text>
<text x="443.75" y="590.54" font-size="8.3" text-anchor="middle" fill="#1a1a1a">−4</text>
<text x="468.26" y="590.54" font-size="8.3" text-anchor="middle" fill="#1a1a1a">−2</text>
<text x="492.76" y="590.54" font-size="8.3" text-anchor="middle" fill="#1a1a1a"> 0</text>
<text x="517.27" y="590.54" font-size="8.3" text-anchor="middle" fill="#1a1a1a"> 2</text>
<text x="541.78" y="590.54" font-size="8.3" text-anchor="middle" fill="#1a1a1a"> 4</text>
<text x="566.29" y="590.54" font-size="8.3" text-anchor="middle" fill="#1a1a1a"> 6</text>
<text x="386.73" y="474.61" font-size="8.3" text-anchor="middle" fill="#1a1a1a" transform="rotate(-90 386.73 474.61)"> 4</text>
<text x="386.73" y="495.58" font-size="8.3" text-anchor="middle" fill="#1a1a1a" transform="rotate(-90 386.73 495.58)"> 2</text>
<text x="386.73" y="516.54" font-size="8.3" text-anchor="middle" fill="#1a1a1a" transform="rotate(-90 386.73 516.54)"> 0</text>
<text x="386.73" y="537.51" font-size="8.3" text-anchor="middle" fill="#1a1a1a" transform="rotate(-90 386.73 537.51)">−2</text>
<text x="386.73" y="558.47" font-size="8.3" text-anchor="middle" fill="#1a1a1a" transform="rotate(-90 386.73 558.47)">−4</text>
<text x="386.73" y="579.44" font-size="8.3" text-anchor="middle" fill="#1a1a1a" transform="rotate(-90 386.73 579.44)">−6</text>
<text x="577.69" y="582.04" font-size="8.3" text-anchor="start" fill="#1a1a1a">−4</text>
<text x="588.54" y="570.38" font-size="8.3" text-anchor="start" fill="#1a1a1a">−2</text>
<text x="599.38" y="558.72" font-size="8.3" text-anchor="start" fill="#1a1a1a"> 0</text>
<text x="610.23" y="547.06" font-size="8.3" text-anchor="start" fill="#1a1a1a"> 2</text>
<text x="621.08" y="535.41" font-size="8.3" text-anchor="start" fill="#1a1a1a"> 4</text>
<text x="631.93" y="523.75" font-size="8.3" text-anchor="start" fill="#1a1a1a"> 6</text>
<text x="642.77" y="512.09" font-size="8.3" text-anchor="start" fill="#1a1a1a"> 8</text>
<text x="653.62" y="500.43" font-size="8.3" text-anchor="start" fill="#1a1a1a">10</text>
<text x="480.51" y="613.74" font-size="9.8" text-anchor="middle" fill="#1a1a1a">PC1</text>
<text x="363.73" y="527.03" font-size="9.8" text-anchor="middle" fill="#1a1a1a" transform="rotate(-90 363.73 527.03)">PC3</text>
<text x="682.7" y="497.83" font-size="9.8" text-anchor="middle" fill="#1a1a1a" transform="rotate(-90 682.7 497.83)">PC2</text>
<circle cx="138" cy="35.4" r="2.2" fill="#2a8dd2"/>
<text x="146.5" y="38.8" font-size="9" text-anchor="start" fill="#1a1a1a">Low risk</text>
<circle cx="189.5" cy="35.4" r="2.2" fill="#e24f6e"/>
<text x="197.7" y="38.8" font-size="9" text-anchor="start" fill="#1a1a1a">High risk</text>
<circle cx="472.7" cy="35.3" r="2.2" fill="#2a8dd2"/>
<text x="480.4" y="38.7" font-size="9" text-anchor="start" fill="#1a1a1a">Low risk</text>
<circle cx="524" cy="35.3" r="2.2" fill="#e24f6e"/>
<text x="531.9" y="38.7" font-size="9" text-anchor="start" fill="#1a1a1a">High risk</text>
<circle cx="138.3" cy="350.1" r="2.2" fill="#2a8dd2"/>
<text x="146.6" y="352.9" font-size="9" text-anchor="start" fill="#1a1a1a">Low risk</text>
<circle cx="189.5" cy="350.1" r="2.2" fill="#e24f6e"/>
<text x="197.7" y="352.9" font-size="9" text-anchor="start" fill="#1a1a1a">High risk</text>
<circle cx="477.4" cy="356.8" r="2.2" fill="#2a8dd2"/>
<text x="486.2" y="360.2" font-size="9.6" text-anchor="start" fill="#1a1a1a">Low risk</text>
<circle cx="532.6" cy="356.8" r="2.2" fill="#e24f6e"/>
<text x="541.7" y="360.2" font-size="9.6" text-anchor="start" fill="#1a1a1a">High risk</text>
<text transform="translate(2.2 19.8) scale(0.83 1)" font-size="26.2" fill="#231815" style="stroke:none">A</text>
<text transform="translate(354.8 19.9) scale(0.83 1)" font-size="26.2" fill="#231815" style="stroke:none">B</text>
<text transform="translate(1.8 361.6) scale(0.83 1)" font-size="26.2" fill="#231815" style="stroke:none">C</text>
<text transform="translate(354.0 361.6) scale(0.83 1)" font-size="26.2" fill="#231815" style="stroke:none">D</text>
</svg>
</body></html>
